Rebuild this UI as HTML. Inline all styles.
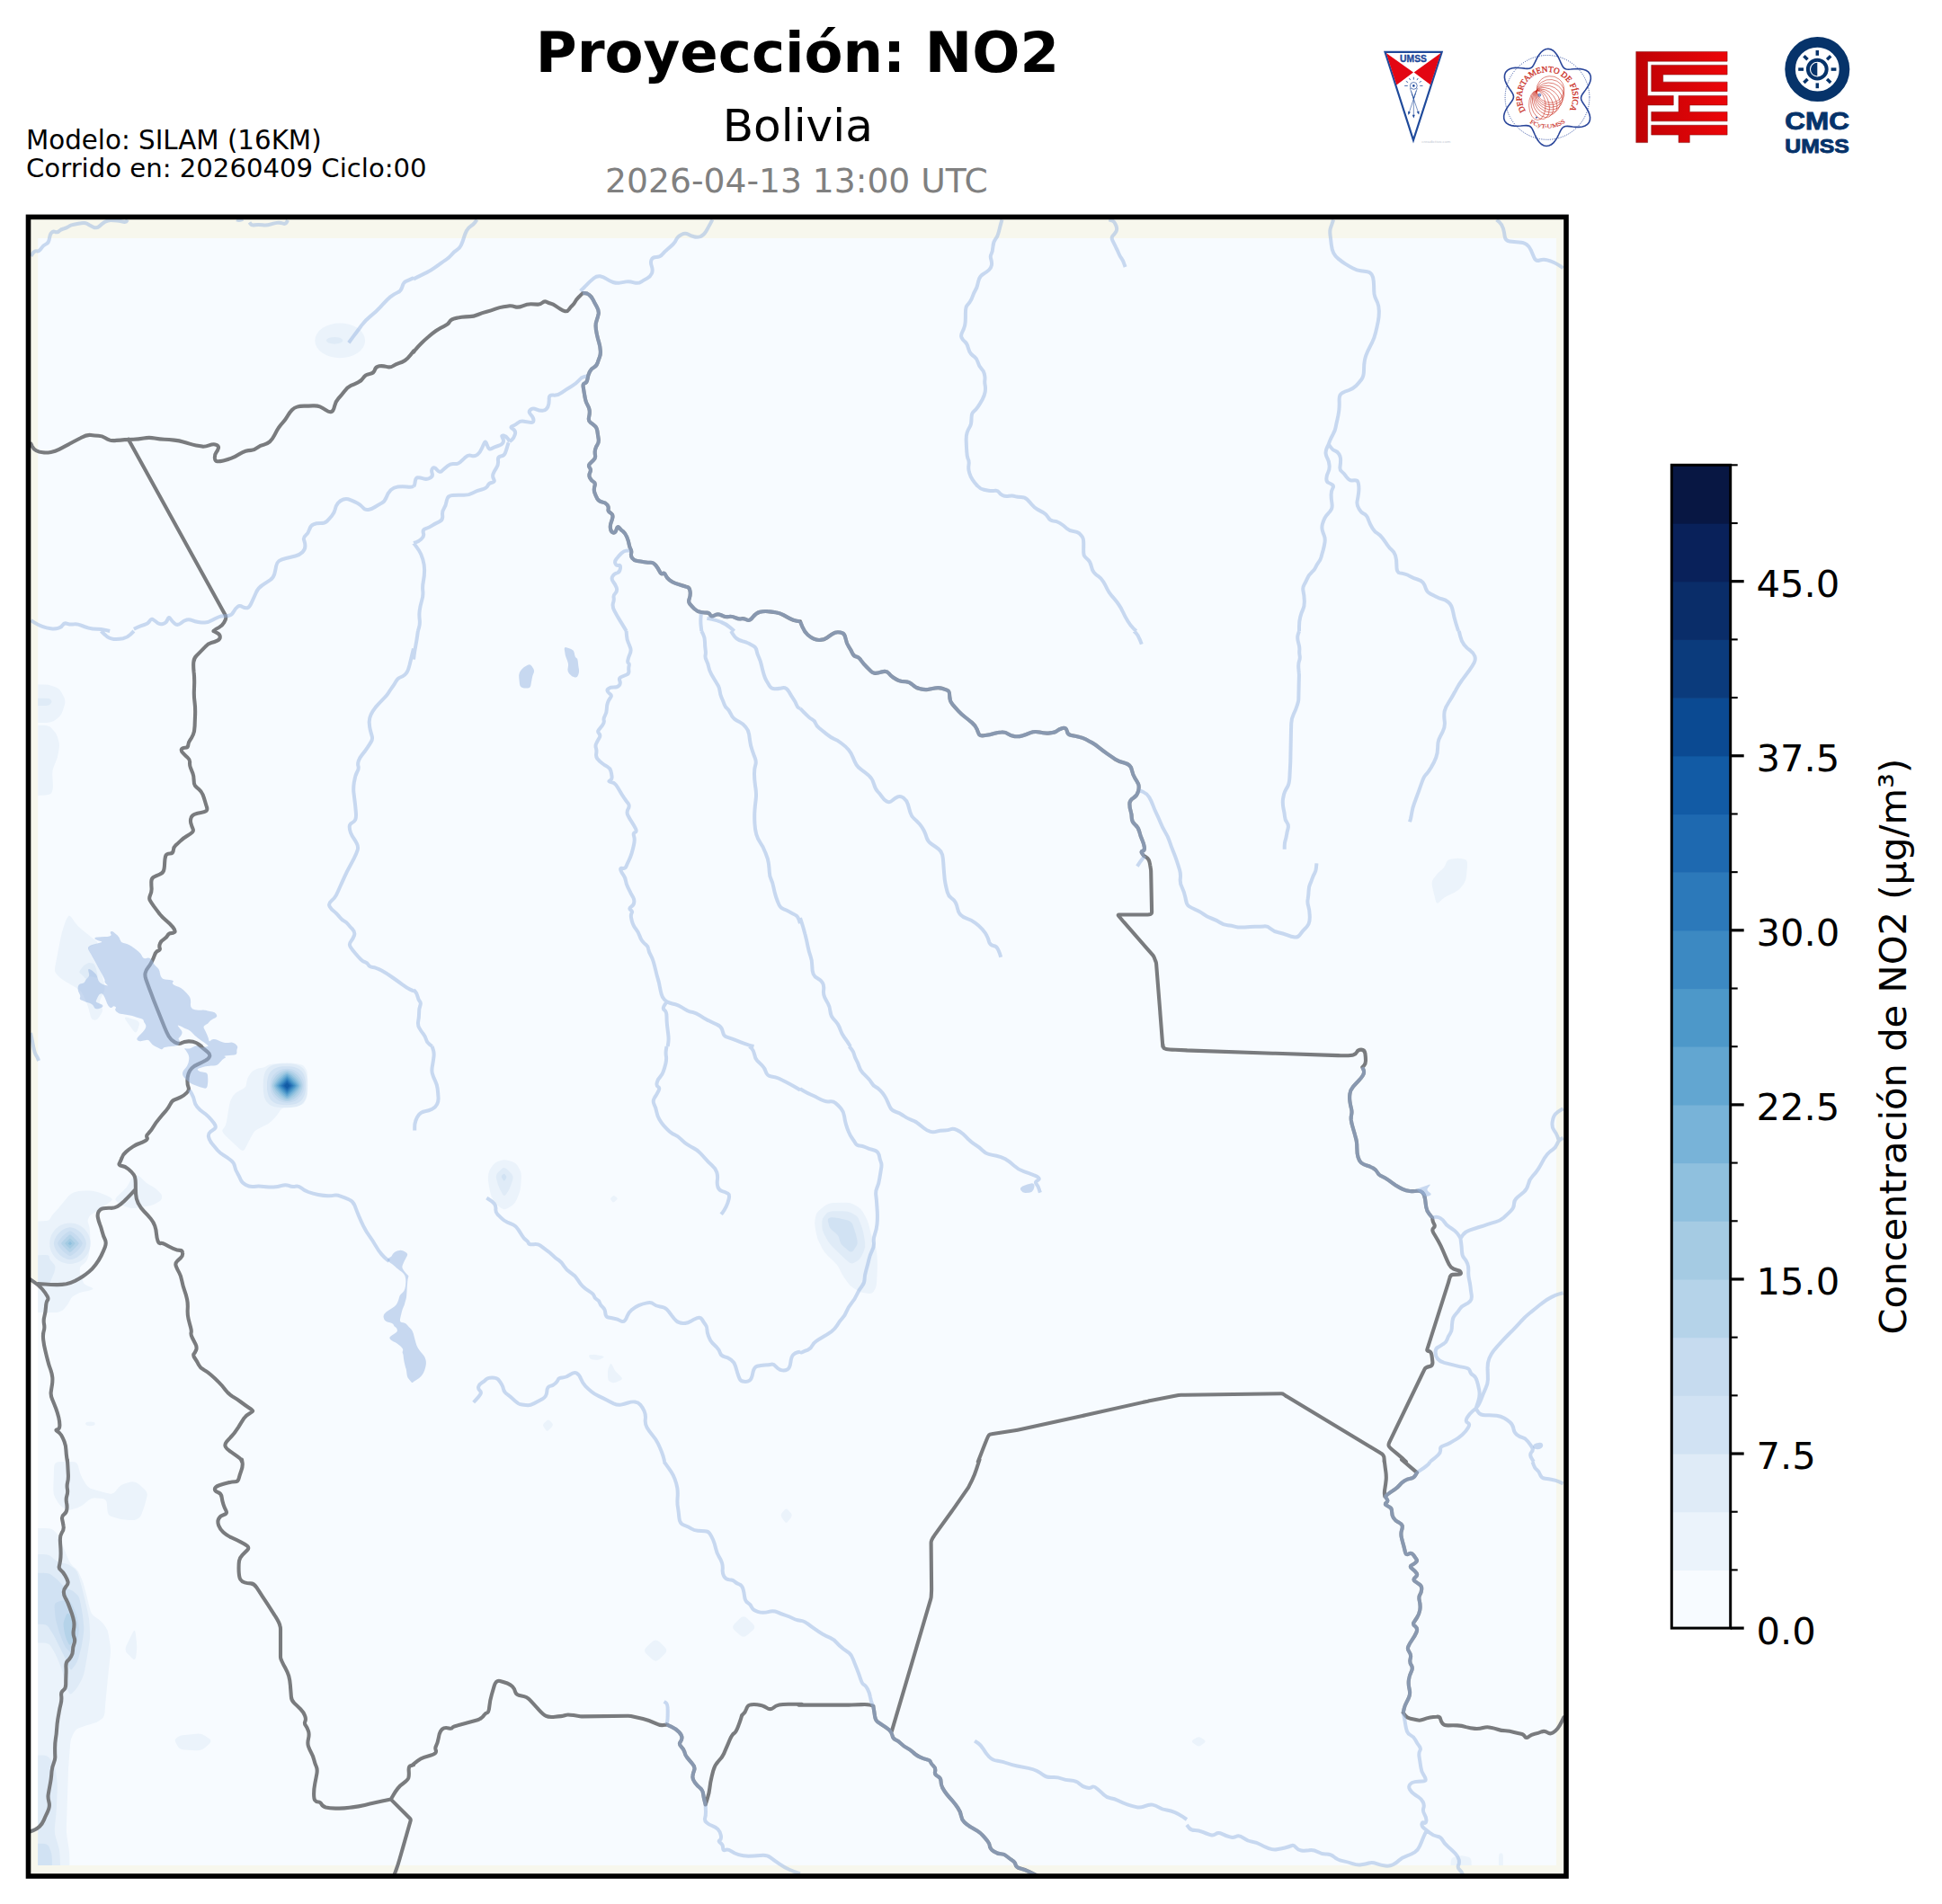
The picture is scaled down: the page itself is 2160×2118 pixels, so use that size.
<!DOCTYPE html>
<html lang="es">
<head>
<meta charset="utf-8">
<title>Proyección: NO2 - Bolivia</title>
<style>
html,body{margin:0;padding:0;background:#fff;}
body{width:2160px;height:2118px;overflow:hidden;}
svg{display:block;}
text{font-family:"DejaVu Sans","Liberation Sans",sans-serif;}
text.ls{font-family:"Liberation Sans",Arial,sans-serif;}
text.lser{font-family:"Liberation Serif","DejaVu Serif",serif;}
</style>
</head>
<body>
<svg width="2160" height="2118" viewBox="0 0 2160 2118">
<rect width="2160" height="2118" fill="#ffffff"/>
<!-- HEADER TEXT -->
<g id="header">
<text x="886.9" y="80.0" font-size="62.6" font-weight="bold" text-anchor="middle" fill="#000">Proyección: NO2</text>
<text x="887.3" y="157.0" font-size="50.1" text-anchor="middle" fill="#000">Bolivia</text>
<text x="886.0" y="213.8" font-size="37.65" text-anchor="middle" fill="#808080">2026-04-13 13:00 UTC</text>
<text x="29" y="166.1" font-size="29.3" fill="#000">Modelo: SILAM (16KM)</text>
<text x="29" y="197.2" font-size="29.15" fill="#000">Corrido en: 20260409 Ciclo:00</text>
</g>
<!-- MAP -->
<g id="map">
<rect x="31.5" y="241.4" width="1710.5" height="1845.6" fill="#f7f7ed"/>
<rect x="42.2" y="265" width="1688.8" height="1810" fill="#f7fbff"/>
<!--MAPCONTENT-->
<defs><clipPath id="dataclip"><rect x="42.2" y="265" width="1688.8" height="1810"/></clipPath><clipPath id="axclip"><rect x="31.5" y="241.4" width="1710.5" height="1845.6"/></clipPath></defs>
<rect x="31.5" y="1428.5" width="10.8" height="608.8" fill="#ffffff"/>
<g clip-path="url(#dataclip)">
<path d="M28.1,767.5Q28.1,761.5 34.1,761.5L48.3,761.5Q54.3,761.5 57.9,762.9L62.8,764.8Q66.4,766.3 68.4,770.3L71.2,775.6Q73.2,779.7 71.9,784.0L70.1,789.8Q68.8,794.2 66.6,796.4L63.7,799.3Q61.5,801.5 59.4,802.2L56.4,803.2Q54.3,803.9 48.3,803.9L34.1,803.9Q28.1,803.9 28.1,797.9L28.1,767.5Z" fill="#ebf3fb"/>
<path d="M28.1,812.8Q28.1,806.8 34.1,806.8L48.3,806.8Q54.3,806.8 56.8,809.6L60.2,813.3Q62.8,816.0 63.9,819.7L65.3,824.5Q66.4,828.2 65.7,832.6L64.7,838.4Q64.0,842.7 62.2,847.1L59.7,852.9Q57.9,857.3 58.3,863.1L58.8,870.9Q59.1,876.7 58.4,878.9L57.4,881.8Q56.7,884.0 50.7,884.4L34.1,885.5Q28.1,885.9 28.1,879.9L28.1,812.8Z" fill="#ebf3fb"/>
<path d="M76.2,1018.9Q77.3,1017.5 79.9,1021.1L83.3,1026.0Q85.8,1029.6 90.2,1033.2L96.0,1038.1Q100.4,1041.7 103.3,1043.9L107.2,1046.8Q110.1,1049.0 106.4,1050.5L101.6,1052.4Q97.9,1053.9 99.4,1057.5L101.3,1062.3Q102.8,1066.0 105.7,1070.4L109.6,1076.2Q112.5,1080.5 114.0,1086.4L115.9,1094.1Q117.4,1100.0 115.2,1104.3L112.3,1110.2Q110.1,1114.5 111.5,1117.4L113.5,1121.3Q114.9,1124.2 112.7,1127.5L109.8,1131.9Q107.7,1135.1 105.8,1134.8L103.4,1134.3Q101.6,1133.9 100.5,1129.6L99.0,1123.7Q97.9,1119.4 95.8,1114.3L92.8,1107.5Q90.7,1102.4 87.0,1100.2L82.2,1097.3Q78.5,1095.1 74.9,1092.9L70.0,1090.0Q66.4,1087.8 64.6,1085.6L62.2,1082.7Q60.3,1080.5 61.4,1074.7L62.9,1067.0Q64.0,1061.1 65.1,1055.3L67.6,1042.8Q68.8,1036.9 70.3,1032.5L72.2,1026.7Q73.7,1022.3 74.8,1020.9L76.2,1018.9Z" fill="#ebf3fb"/>
<path d="M140.2,1135.2Q136.8,1130.3 142.5,1132.1L150.5,1134.6Q156.2,1136.4 154.7,1140.7L152.8,1146.6Q151.3,1150.9 147.9,1146.0L140.2,1135.2Z" fill="#ebf3fb"/>
<path d="M1608.9,959.0Q1610.0,956.3 1613.6,955.7L1618.5,954.9Q1622.1,954.4 1625.2,955.1L1629.4,956.1Q1632.5,956.8 1632.0,962.8L1631.1,973.9Q1630.6,979.8 1628.1,983.1L1624.7,987.5Q1622.1,990.8 1617.4,992.9L1611.1,995.9Q1606.3,998.0 1603.8,1000.6L1600.4,1004.0Q1597.8,1006.5 1596.5,1000.7L1593.2,986.9Q1591.8,981.1 1594.0,978.1L1596.9,974.3Q1599.1,971.4 1601.2,969.5L1604.2,967.1Q1606.3,965.3 1607.4,962.6L1608.9,959.0Z" fill="#ebf3fb"/>
<path d="M543.4,1305.2Q543.7,1302.3 545.9,1299.4L548.8,1295.5Q551.0,1292.6 554.3,1291.7L558.6,1290.6Q561.9,1289.7 565.6,1290.9L570.4,1292.6Q574.0,1293.8 575.9,1297.1L578.3,1301.5Q580.1,1304.7 579.8,1310.6L579.3,1318.3Q578.9,1324.2 577.1,1328.5L574.7,1334.3Q572.8,1338.7 569.6,1340.9L565.2,1343.8Q561.9,1346.0 559.7,1344.9L556.8,1343.4Q554.6,1342.4 552.1,1339.1L548.7,1334.7Q546.1,1331.4 545.1,1325.6L543.6,1317.8Q542.5,1312.0 542.9,1309.1L543.4,1305.2Z" fill="#ebf3fb"/>
<path d="M679.5,1334.8Q678.4,1333.4 679.7,1332.2L681.5,1330.7Q682.8,1329.5 684.2,1330.7L686.2,1332.2Q687.6,1333.4 685.9,1334.8L683.7,1336.8Q682.0,1338.2 680.9,1336.8L679.5,1334.8Z" fill="#ebf3fb"/>
<path d="M655.2,1508.8Q654.6,1507.4 656.7,1507.1L659.4,1506.9Q661.4,1506.6 664.9,1507.4L669.6,1508.3Q673.1,1509.1 671.0,1510.2L668.3,1511.8Q666.3,1512.9 663.3,1512.7L659.5,1512.4Q656.6,1512.2 656.0,1510.8L655.2,1508.8Z" fill="#ebf3fb"/>
<path d="M678.5,1518.0Q679.6,1515.9 681.1,1518.8L683.0,1522.7Q684.5,1525.6 687.2,1528.1L690.7,1531.5Q693.4,1534.1 690.0,1535.5L685.5,1537.5Q682.0,1538.9 680.2,1537.8L677.8,1536.4Q676.0,1535.3 676.0,1531.6L676.0,1526.8Q676.0,1523.1 677.1,1521.0L678.5,1518.0Z" fill="#ebf3fb"/>
<path d="M604.8,1587.4Q603.2,1585.0 605.2,1583.0L607.9,1580.4Q610.0,1578.5 611.7,1580.4L614.0,1583.0Q615.8,1585.0 613.6,1587.4L610.7,1590.6Q608.5,1593.0 606.9,1590.6L604.8,1587.4Z" fill="#ebf3fb"/>
<path d="M907.5,1352.1Q908.2,1348.4 912.2,1345.4L917.5,1341.3Q921.5,1338.2 927.5,1338.0L939.8,1337.7Q945.8,1337.5 949.5,1339.7L954.3,1342.6Q957.9,1344.8 960.1,1348.8L963.0,1354.1Q965.2,1358.1 966.7,1363.9L968.6,1371.7Q970.1,1377.5 971.5,1381.2L973.5,1386.0Q974.9,1389.7 975.3,1394.8L975.8,1401.6Q976.1,1406.7 975.8,1412.7L975.2,1424.9Q974.9,1430.9 973.5,1433.5L971.5,1436.9Q970.1,1439.4 966.4,1438.9L961.6,1438.2Q957.9,1437.7 954.3,1435.7L949.5,1433.0Q945.8,1430.9 943.3,1427.3L939.9,1422.4Q937.3,1418.8 935.5,1415.2L933.1,1410.3Q931.3,1406.7 926.9,1402.7L921.1,1397.3Q916.7,1393.3 914.4,1388.6L911.3,1382.3Q908.9,1377.5 908.0,1372.4L906.7,1365.7Q905.8,1360.6 906.5,1356.9L907.5,1352.1Z" fill="#ebf3fb"/>
<path d="M60.1,1632.0Q60.3,1626.0 66.3,1626.0L79.8,1626.0Q85.8,1626.0 86.9,1630.4L88.4,1636.2Q89.5,1640.6 92.0,1644.9L95.4,1650.8Q97.9,1655.1 103.0,1656.6L109.8,1658.5Q114.9,1660.0 118.2,1660.7L122.6,1661.7Q125.9,1662.4 128.4,1659.1L131.8,1654.8Q134.3,1651.5 139.1,1650.2L145.4,1648.6Q150.1,1647.4 154.5,1651.1L160.3,1656.2Q164.7,1660.0 163.6,1664.3L162.1,1670.2Q161.0,1674.5 159.6,1678.5L157.6,1683.9Q156.2,1687.9 154.0,1689.0L151.1,1690.4Q148.9,1691.5 143.8,1690.9L137.0,1690.2Q131.9,1689.6 128.3,1688.3L123.4,1686.7Q119.8,1685.5 119.4,1680.0L118.9,1672.7Q118.6,1667.3 113.5,1666.9L106.7,1666.4Q101.6,1666.0 98.3,1669.0L93.9,1672.8Q90.7,1675.7 86.3,1677.2L80.5,1679.1Q76.1,1680.6 73.2,1678.8L69.3,1676.4Q66.4,1674.5 64.2,1670.9L61.3,1666.0Q59.1,1662.4 59.3,1656.4L60.1,1632.0Z" fill="#ebf3fb"/>
<path d="M28.1,1706.0Q28.1,1700.0 34.1,1700.0L50.7,1700.0Q56.7,1700.0 58.9,1701.8L61.8,1704.3Q64.0,1706.1 66.2,1711.2L69.1,1718.0Q71.3,1723.1 73.4,1728.2L76.3,1735.0Q78.5,1740.0 81.1,1742.2L84.5,1745.1Q87.0,1747.3 88.8,1751.7L91.3,1757.5Q93.1,1761.9 94.5,1767.7L96.5,1775.5Q97.9,1781.3 99.0,1785.7L100.5,1791.5Q101.6,1795.9 104.9,1798.0L109.2,1801.0Q112.5,1803.1 114.7,1806.1L117.6,1809.9Q119.8,1812.8 120.8,1818.8L122.4,1828.8Q123.4,1834.7 122.8,1840.7L121.7,1850.6Q121.0,1856.5 120.4,1862.5L118.0,1887.0Q117.4,1892.9 117.0,1898.0L116.5,1904.8Q116.1,1909.9 113.6,1911.7L110.2,1914.2Q107.7,1916.0 104.0,1917.1L99.2,1918.5Q95.5,1919.6 92.2,1920.7L87.9,1922.2Q84.6,1923.3 82.8,1926.5L80.4,1930.9Q78.5,1934.2 78.1,1940.2L76.6,1959.7Q76.1,1965.7 75.9,1971.7L75.1,1996.1Q74.9,2002.1 74.7,2008.1L73.9,2032.5Q73.7,2038.5 74.7,2044.4L76.3,2054.4Q77.3,2060.4 77.3,2066.4L77.3,2082.9Q77.3,2088.9 71.3,2088.9L34.1,2088.9Q28.1,2088.9 28.1,2082.9L28.1,1706.0Z" fill="#ebf3fb"/>
<path d="M141.8,1839.5Q138.0,1835.9 140.6,1830.5L147.5,1816.3Q150.1,1810.9 150.8,1816.9L151.9,1826.3Q152.5,1832.3 152.0,1837.0L151.2,1843.3Q150.6,1848.0 146.8,1844.4L141.8,1839.5Z" fill="#ebf3fb"/>
<path d="M195.6,1938.7Q193.8,1935.4 195.6,1933.9L198.0,1932.0Q199.9,1930.5 205.8,1929.9L218.2,1928.7Q224.1,1928.1 227.8,1930.7L232.6,1934.1Q236.3,1936.6 232.6,1939.9L227.8,1944.2Q224.1,1947.5 218.1,1947.2L205.9,1946.6Q199.9,1946.3 198.0,1943.0L195.6,1938.7Z" fill="#ebf3fb"/>
<path d="M719.1,1840.0Q714.8,1835.9 719.2,1831.9L725.0,1826.6Q729.4,1822.6 733.6,1826.6L739.2,1831.9Q743.4,1835.9 739.2,1840.0L733.6,1845.6Q729.4,1849.7 725.0,1845.6L719.1,1840.0Z" fill="#ebf3fb"/>
<path d="M817.2,1813.7Q813.1,1809.9 817.2,1805.9L822.8,1800.4Q826.9,1796.3 831.3,1800.4L837.1,1805.9Q841.5,1809.9 837.1,1813.7L831.3,1818.8Q826.9,1822.6 822.8,1818.8L817.2,1813.7Z" fill="#ebf3fb"/>
<path d="M869.7,1688.4Q867.7,1685.5 869.7,1683.0L872.4,1679.8Q874.5,1677.4 876.6,1679.8L879.6,1683.0Q881.7,1685.5 879.6,1688.4L876.6,1692.2Q874.5,1695.2 872.4,1692.2L869.7,1688.4Z" fill="#ebf3fb"/>
<path d="M1327.1,1939.0Q1324.4,1937.1 1327.1,1935.3L1330.7,1933.0Q1333.3,1931.3 1335.9,1933.0L1339.3,1935.3Q1341.8,1937.1 1339.3,1939.0L1335.9,1941.5Q1333.3,1943.4 1330.7,1941.5L1327.1,1939.0Z" fill="#ebf3fb"/>
<path d="M1613.6,2072.4Q1613.6,2066.4 1617.3,2065.7L1622.1,2064.7Q1625.8,2064.0 1629.0,2064.7L1633.4,2065.7Q1636.7,2066.4 1636.7,2072.4L1636.7,2082.9Q1636.7,2088.9 1630.7,2088.9L1619.6,2088.9Q1613.6,2088.9 1613.6,2082.9L1613.6,2072.4Z" fill="#ebf3fb"/>
<path d="M1667.0,2067.6Q1667.0,2061.6 1668.5,2061.6L1670.4,2061.6Q1671.9,2061.6 1671.9,2067.6L1671.9,2082.9Q1671.9,2088.9 1670.4,2088.9L1668.5,2088.9Q1667.0,2088.9 1667.0,2082.9L1667.0,2067.6Z" fill="#ebf3fb"/>
<path d="M297.3,1185.2Q298.8,1184.2 304.7,1183.6L313.4,1182.6Q319.3,1182.0 324.5,1182.6L331.4,1183.5Q336.6,1184.2 338.2,1186.3L340.2,1189.1Q341.8,1191.2 342.0,1196.0L342.3,1202.5Q342.5,1207.4 342.3,1211.3L342.0,1216.6Q341.8,1220.6 340.2,1223.2L338.2,1226.8Q336.6,1229.4 331.4,1230.0L324.5,1230.7Q319.3,1231.2 317.5,1231.8L315.0,1232.5Q313.1,1233.1 311.3,1235.7L309.0,1239.3Q307.2,1241.9 304.8,1244.3L301.5,1247.6Q299.1,1250.0 296.7,1251.1L293.5,1252.6Q291.0,1253.7 288.6,1255.0L285.4,1256.8Q282.9,1258.1 281.4,1261.0L279.3,1264.8Q277.8,1267.6 275.6,1271.9L272.6,1277.7Q270.4,1282.0 266.1,1277.8L250.5,1263.0Q246.2,1258.8 247.7,1256.6L249.8,1253.7Q251.3,1251.5 252.0,1247.5L252.9,1242.2Q253.5,1238.2 254.2,1234.3L255.1,1229.0Q255.7,1225.0 257.3,1222.4L259.3,1218.8Q260.9,1216.2 264.6,1214.2L269.6,1211.5Q273.4,1209.6 273.8,1206.7L274.4,1202.9Q274.9,1200.0 276.4,1197.6L278.5,1194.3Q280.0,1191.9 282.2,1190.8L285.1,1189.3Q287.4,1188.2 289.3,1188.0L292.0,1187.7Q294.0,1187.5 295.4,1186.5L297.3,1185.2Z" fill="#ebf3fb"/>
<path d="M28.2,1364.8Q28.2,1358.8 34.2,1358.6L48.4,1358.2Q54.4,1358.0 55.4,1356.2L56.7,1353.9Q57.7,1352.1 60.0,1349.6L63.0,1346.2Q65.3,1343.7 68.3,1339.9L72.4,1334.9Q75.4,1331.1 76.9,1329.8L78.9,1328.2Q80.4,1326.9 83.4,1326.1L87.5,1325.1Q90.5,1324.4 94.3,1324.4L99.3,1324.4Q103.1,1324.4 106.4,1325.4L110.8,1326.7Q114.0,1327.7 117.6,1329.5L122.3,1331.8Q125.8,1333.6 124.5,1334.9L122.9,1336.6Q121.6,1337.8 119.3,1339.3L116.3,1341.3Q114.0,1342.9 112.3,1344.1L109.9,1345.8Q108.2,1347.1 105.6,1348.6L102.3,1350.6Q99.7,1352.1 99.0,1353.9L98.0,1356.2Q97.2,1358.0 98.0,1360.3L99.0,1363.3Q99.7,1365.5 100.0,1369.8L100.3,1375.5Q100.6,1379.8 100.1,1384.9L99.4,1391.6Q98.9,1396.6 97.9,1398.9L96.6,1401.9Q95.5,1404.2 93.5,1405.7L90.8,1407.7Q88.8,1409.2 88.8,1411.8L88.8,1415.1Q88.8,1417.6 89.6,1418.7L90.6,1420.0Q91.3,1421.0 91.8,1423.3L92.5,1426.3Q93.0,1428.6 96.6,1430.1L101.3,1432.1Q104.8,1433.6 102.5,1434.4L99.5,1435.4Q97.2,1436.1 94.7,1436.6L91.3,1437.3Q88.8,1437.8 86.1,1439.3L82.4,1441.3Q79.6,1442.9 78.3,1445.4L76.6,1448.7Q75.4,1451.3 73.6,1453.3L71.3,1456.0Q69.5,1458.0 67.7,1458.6L65.4,1459.4Q63.6,1460.0 57.6,1460.0L34.2,1460.0Q28.2,1460.0 28.2,1454.0L28.2,1364.8Z" fill="#ebf3fb"/>
<path d="M128.5,1334.9Q127.5,1333.6 131.5,1329.8L136.9,1324.8Q140.9,1321.0 142.9,1317.2L145.6,1312.2Q147.6,1308.4 149.7,1308.2L152.4,1307.8Q154.4,1307.6 156.9,1310.1L160.3,1313.4Q162.8,1316.0 165.8,1317.7L169.8,1320.1Q172.9,1321.8 175.1,1324.1L178.2,1327.1Q180.4,1329.4 180.2,1331.2L179.8,1333.5Q179.6,1335.3 176.3,1337.1L171.9,1339.4Q168.7,1341.2 162.7,1342.1L153.6,1343.6Q147.6,1344.5 144.9,1343.8L141.2,1342.8Q138.4,1342.0 136.1,1340.8L133.1,1339.1Q130.8,1337.8 129.8,1336.6L128.5,1334.9Z" fill="#ebf3fb"/>
<path d="M28.1,779.2Q28.1,776.7 34.1,776.7L49.5,776.7Q55.5,776.7 56.2,778.0L57.2,779.6Q57.9,780.9 56.8,782.1L55.4,783.8Q54.3,785.0 48.3,785.0L34.1,785.0Q28.1,785.0 28.1,782.5L28.1,779.2Z" fill="#dfebf7"/>
<path d="M552.1,1311.2Q551.0,1307.2 553.9,1304.3L557.8,1300.4Q560.7,1297.5 564.0,1300.7L568.3,1305.1Q571.6,1308.4 570.2,1312.8L568.2,1318.6Q566.8,1322.9 565.0,1325.5L562.5,1328.9Q560.7,1331.4 558.9,1328.2L556.5,1323.8Q554.6,1320.5 553.5,1316.5L552.1,1311.2Z" fill="#dfebf7"/>
<path d="M914.3,1359.3Q914.3,1355.7 916.4,1353.2L919.4,1349.8Q921.5,1347.2 927.5,1347.2L937.4,1347.2Q943.4,1347.2 946.7,1349.0L951.0,1351.5Q954.3,1353.3 956.1,1358.4L958.6,1365.2Q960.4,1370.3 961.1,1375.4L962.1,1382.2Q962.8,1387.2 961.0,1391.3L958.6,1396.6Q956.7,1400.6 953.8,1402.4L949.9,1404.8Q947.0,1406.7 943.4,1403.4L938.5,1399.0Q934.9,1395.7 930.9,1391.7L925.5,1386.4Q921.5,1382.4 919.4,1378.0L916.4,1372.2Q914.3,1367.8 914.3,1364.2L914.3,1359.3Z" fill="#dfebf7"/>
<path d="M28.1,1735.1Q28.1,1729.1 34.1,1729.1L48.3,1729.1Q54.3,1729.1 57.2,1731.7L61.1,1735.1Q64.0,1737.6 67.6,1738.4L72.5,1739.3Q76.1,1740.0 79.0,1742.2L82.9,1745.1Q85.8,1747.3 87.3,1752.4L89.2,1759.2Q90.7,1764.3 92.1,1770.1L94.1,1777.9Q95.5,1783.7 96.6,1788.8L98.1,1795.6Q99.2,1800.7 99.5,1806.5L100.0,1814.3Q100.4,1820.1 99.5,1826.1L97.6,1838.5Q96.7,1844.4 95.6,1850.2L94.2,1858.0Q93.1,1863.8 91.3,1867.4L88.8,1872.3Q87.0,1875.9 84.5,1878.9L81.1,1882.7Q78.5,1885.6 77.1,1883.5L75.1,1880.5Q73.7,1878.4 72.4,1872.5L70.1,1862.4Q68.8,1856.5 66.6,1851.4L63.7,1844.6Q61.5,1839.5 59.4,1835.9L56.4,1831.0Q54.3,1827.4 48.3,1827.4L34.1,1827.4Q28.1,1827.4 28.1,1821.4L28.1,1735.1Z" fill="#dfebf7"/>
<path d="M28.1,1958.4Q28.1,1952.4 34.1,1952.4L47.1,1952.4Q53.1,1952.4 55.6,1956.4L59.0,1961.7Q61.5,1965.7 62.3,1971.5L63.2,1979.3Q64.0,1985.1 63.7,1991.1L63.0,2008.3Q62.8,2014.3 62.2,2020.2L60.9,2032.6Q60.3,2038.5 62.1,2044.2L64.6,2052.2Q66.4,2057.9 66.6,2063.9L67.4,2082.9Q67.6,2088.9 61.6,2088.9L34.1,2088.9Q28.1,2088.9 28.1,2082.9L28.1,1958.4Z" fill="#dfebf7"/>
<path d="M28.2,1402.6Q28.2,1396.6 34.2,1396.4L48.4,1396.0Q54.4,1395.8 54.6,1397.3L55.0,1399.3Q55.2,1400.8 57.2,1403.1L59.9,1406.1Q61.9,1408.4 61.4,1410.7L60.8,1413.7Q60.3,1416.0 59.2,1418.2L57.9,1421.3Q56.9,1423.5 56.4,1424.8L55.7,1426.5Q55.2,1427.7 49.2,1427.7L34.2,1427.7Q28.2,1427.7 28.2,1421.7L28.2,1402.6Z" fill="#dfebf7"/>
<path d="M88.7,1082.3Q87.5,1081.2 89.1,1079.2L91.2,1076.4Q92.7,1074.3 94.4,1073.3L96.8,1071.9Q98.5,1070.8 100.4,1071.2L102.9,1071.6Q104.8,1072.0 105.7,1074.4L106.9,1077.7Q107.7,1080.1 108.1,1082.5L108.5,1085.7Q108.9,1088.2 106.1,1087.5L102.4,1086.6Q99.6,1085.9 98.4,1086.9L96.8,1088.3Q95.6,1089.3 94.4,1087.9L92.8,1086.1Q91.6,1084.7 90.3,1083.7L88.7,1082.3Z" fill="#dfebf7"/>
<path d="M558.2,1310.2Q557.1,1308.4 558.2,1307.4L559.6,1306.2Q560.7,1305.2 561.7,1306.4L562.9,1307.9Q563.9,1309.1 562.9,1310.7L561.7,1312.8Q560.7,1314.4 559.6,1312.6L558.2,1310.2Z" fill="#d1e2f3"/>
<path d="M921.1,1359.0Q920.3,1355.7 922.2,1355.1L924.6,1354.3Q926.4,1353.8 932.3,1355.0L941.2,1356.9Q947.0,1358.1 948.5,1362.5L950.4,1368.3Q951.9,1372.7 952.6,1376.0L953.6,1380.3Q954.3,1383.6 952.1,1386.7L949.2,1390.9Q947.0,1394.0 943.4,1390.9L938.5,1386.7Q934.9,1383.6 934.2,1380.7L933.2,1376.8Q932.5,1373.9 929.6,1371.7L925.7,1368.8Q922.8,1366.6 922.0,1363.3L921.1,1359.0Z" fill="#d1e2f3"/>
<path d="M28.1,1755.8Q28.1,1749.8 34.1,1749.8L48.3,1749.8Q54.3,1749.8 57.2,1751.9L61.1,1754.9Q64.0,1757.0 66.5,1759.9L69.9,1763.8Q72.5,1766.7 75.0,1767.5L78.4,1768.4Q81.0,1769.2 83.1,1771.4L86.1,1774.3Q88.2,1776.4 89.3,1782.3L90.8,1790.0Q91.9,1795.9 92.4,1801.0L93.1,1807.8Q93.6,1812.8 92.7,1818.7L91.5,1826.4Q90.7,1832.3 89.2,1837.4L87.3,1844.2Q85.8,1849.2 83.6,1852.2L80.7,1856.0Q78.5,1859.0 76.7,1854.6L74.3,1848.8Q72.5,1844.4 70.6,1840.8L68.2,1835.9Q66.4,1832.3 64.2,1827.9L61.3,1822.1Q59.1,1817.7 56.9,1814.4L54.0,1810.1Q51.8,1806.8 45.8,1806.8L34.1,1806.8Q28.1,1806.8 28.1,1800.8L28.1,1755.8Z" fill="#d1e2f3"/>
<path d="M28.1,2056.7Q28.1,2050.7 34.1,2050.7L47.1,2050.7Q53.1,2050.7 54.5,2054.3L56.4,2059.1Q57.9,2062.8 57.9,2068.8L57.9,2082.9Q57.9,2088.9 51.9,2088.9L34.1,2088.9Q28.1,2088.9 28.1,2082.9L28.1,2056.7Z" fill="#d1e2f3"/>
<path d="M60.7,1788.8Q60.3,1783.7 62.9,1782.6L66.3,1781.2Q68.8,1780.1 71.7,1780.5L75.6,1780.9Q78.5,1781.3 80.6,1785.7L83.3,1791.5Q85.3,1795.9 86.2,1801.0L87.4,1807.8Q88.2,1812.8 87.4,1817.2L86.2,1823.0Q85.3,1827.4 83.7,1831.0L81.4,1835.9Q79.7,1839.5 77.6,1837.4L74.6,1834.4Q72.5,1832.3 70.6,1827.9L68.2,1822.1Q66.4,1817.7 64.9,1812.6L63.0,1805.8Q61.5,1800.7 61.2,1795.6L60.7,1788.8Z" fill="#c6dbef"/>
<path d="M70.8,1809.9Q70.0,1805.6 71.5,1801.9L73.4,1797.1Q74.9,1793.4 76.9,1795.6L79.5,1798.5Q81.4,1800.7 82.4,1804.4L83.7,1809.2Q84.6,1812.8 83.9,1816.5L82.9,1821.3Q82.2,1825.0 80.7,1826.8L78.8,1829.2Q77.3,1831.0 75.9,1827.8L73.9,1823.4Q72.5,1820.1 71.7,1815.8L70.8,1809.9Z" fill="#b5d3e9"/>
<ellipse cx="378.2" cy="378.8" rx="27.9" ry="19.4" fill="#ebf3fb"/>
<ellipse cx="372.1" cy="378.8" rx="9.2" ry="3.9" fill="#dfebf7"/>
<ellipse cx="100.4" cy="1583.8" rx="5.3" ry="2.4" fill="#ebf3fb"/>
<path d="M341.8,1207.7L341.7,1214.0L341.2,1217.7L340.5,1220.6L339.6,1223.1L338.3,1225.3L336.7,1227.1L334.9,1228.7L332.7,1230.0L330.2,1230.9L327.3,1231.6L323.6,1232.1L317.3,1232.2L311.0,1232.1L307.3,1231.6L304.4,1230.9L301.9,1230.0L299.7,1228.7L297.9,1227.1L296.3,1225.3L295.0,1223.1L294.1,1220.6L293.4,1217.7L292.9,1214.0L292.8,1207.7L292.9,1201.4L293.4,1197.7L294.1,1194.8L295.0,1192.3L296.3,1190.1L297.9,1188.3L299.7,1186.7L301.9,1185.4L304.4,1184.5L307.3,1183.8L311.0,1183.3L317.3,1183.2L323.6,1183.3L327.3,1183.8L330.2,1184.5L332.7,1185.4L334.9,1186.7L336.7,1188.3L338.3,1190.1L339.6,1192.3L340.5,1194.8L341.2,1197.7L341.7,1201.4Z" fill="#dfebf7"/>
<path d="M340.0,1207.7L339.9,1212.2L339.4,1215.3L338.7,1218.0L337.7,1220.3L336.5,1222.4L335.0,1224.2L333.2,1225.7L331.1,1226.9L328.8,1227.9L326.1,1228.6L323.0,1229.1L318.5,1229.2L314.0,1229.1L310.9,1228.6L308.2,1227.9L305.9,1226.9L303.8,1225.7L302.0,1224.2L300.5,1222.4L299.3,1220.3L298.3,1218.0L297.6,1215.3L297.1,1212.2L297.0,1207.7L297.1,1203.2L297.6,1200.1L298.3,1197.4L299.3,1195.1L300.5,1193.0L302.0,1191.2L303.8,1189.7L305.9,1188.5L308.2,1187.5L310.9,1186.8L314.0,1186.3L318.5,1186.2L323.0,1186.3L326.1,1186.8L328.8,1187.5L331.1,1188.5L333.2,1189.7L335.0,1191.2L336.5,1193.0L337.7,1195.1L338.7,1197.4L339.4,1200.1L339.9,1203.2Z" fill="#d1e2f3"/>
<path d="M338.3,1207.7L338.1,1210.2L337.7,1212.6L336.9,1215.0L335.8,1217.2L334.4,1219.3L332.7,1221.1L330.9,1222.8L328.8,1224.2L326.6,1225.3L324.2,1226.1L321.8,1226.5L319.3,1226.7L316.8,1226.5L314.4,1226.1L312.0,1225.3L309.8,1224.2L307.7,1222.8L305.9,1221.1L304.2,1219.3L302.8,1217.2L301.7,1215.0L300.9,1212.6L300.5,1210.2L300.3,1207.7L300.5,1205.2L300.9,1202.8L301.7,1200.4L302.8,1198.2L304.2,1196.1L305.9,1194.3L307.7,1192.6L309.8,1191.2L312.0,1190.1L314.4,1189.3L316.8,1188.9L319.3,1188.7L321.8,1188.9L324.2,1189.3L326.6,1190.1L328.8,1191.2L330.9,1192.6L332.7,1194.3L334.4,1196.1L335.8,1198.2L336.9,1200.4L337.7,1202.8L338.1,1205.2Z" fill="#c6dbef"/>
<path d="M336.7,1207.7L336.5,1209.3L336.0,1211.2L335.2,1213.3L334.0,1215.4L332.6,1217.4L330.9,1219.3L329.0,1221.0L327.0,1222.4L324.9,1223.6L322.8,1224.4L320.9,1224.9L319.3,1225.1L317.7,1224.9L315.8,1224.4L313.7,1223.6L311.6,1222.4L309.6,1221.0L307.7,1219.3L306.0,1217.4L304.6,1215.4L303.4,1213.3L302.6,1211.2L302.1,1209.3L301.9,1207.7L302.1,1206.1L302.6,1204.2L303.4,1202.1L304.6,1200.0L306.0,1198.0L307.7,1196.1L309.6,1194.4L311.6,1193.0L313.7,1191.8L315.8,1191.0L317.7,1190.5L319.3,1190.3L320.9,1190.5L322.8,1191.0L324.9,1191.8L327.0,1193.0L329.0,1194.4L330.9,1196.1L332.6,1198.0L334.0,1200.0L335.2,1202.1L336.0,1204.2L336.5,1206.1Z" fill="#b5d3e9"/>
<path d="M335.2,1207.7L335.0,1208.8L334.5,1210.3L333.6,1212.1L332.4,1214.0L331.0,1215.9L329.3,1217.7L327.5,1219.4L325.6,1220.8L323.7,1222.0L321.9,1222.9L320.4,1223.4L319.3,1223.6L318.2,1223.4L316.7,1222.9L314.9,1222.0L313.0,1220.8L311.1,1219.4L309.3,1217.7L307.6,1215.9L306.2,1214.0L305.0,1212.1L304.1,1210.3L303.6,1208.8L303.4,1207.7L303.6,1206.6L304.1,1205.1L305.0,1203.3L306.2,1201.4L307.6,1199.5L309.3,1197.7L311.1,1196.0L313.0,1194.6L314.9,1193.4L316.7,1192.5L318.2,1192.0L319.3,1191.8L320.4,1192.0L321.9,1192.5L323.7,1193.4L325.6,1194.6L327.5,1196.0L329.3,1197.7L331.0,1199.5L332.4,1201.4L333.6,1203.3L334.5,1205.1L335.0,1206.6Z" fill="#a5cbe3"/>
<path d="M333.7,1207.7L333.5,1208.4L333.0,1209.6L332.1,1211.2L330.9,1212.9L329.5,1214.6L327.9,1216.3L326.2,1217.9L324.5,1219.3L322.8,1220.5L321.2,1221.4L320.0,1221.9L319.3,1222.1L318.6,1221.9L317.4,1221.4L315.8,1220.5L314.1,1219.3L312.4,1217.9L310.7,1216.3L309.1,1214.6L307.7,1212.9L306.5,1211.2L305.6,1209.6L305.1,1208.4L304.9,1207.7L305.1,1207.0L305.6,1205.8L306.5,1204.2L307.7,1202.5L309.1,1200.8L310.7,1199.1L312.4,1197.5L314.1,1196.1L315.8,1194.9L317.4,1194.0L318.6,1193.5L319.3,1193.3L320.0,1193.5L321.2,1194.0L322.8,1194.9L324.5,1196.1L326.2,1197.5L327.9,1199.1L329.5,1200.8L330.9,1202.5L332.1,1204.2L333.0,1205.8L333.5,1207.0Z" fill="#8fc0de"/>
<path d="M332.2,1207.7L332.0,1208.2L331.5,1209.2L330.7,1210.5L329.5,1212.0L328.2,1213.5L326.7,1215.1L325.1,1216.6L323.6,1217.9L322.1,1219.1L320.8,1219.9L319.8,1220.4L319.3,1220.6L318.8,1220.4L317.8,1219.9L316.5,1219.1L315.0,1217.9L313.5,1216.6L311.9,1215.1L310.4,1213.5L309.1,1212.0L307.9,1210.5L307.1,1209.2L306.6,1208.2L306.4,1207.7L306.6,1207.2L307.1,1206.2L307.9,1204.9L309.1,1203.4L310.4,1201.9L311.9,1200.3L313.5,1198.8L315.0,1197.5L316.5,1196.3L317.8,1195.5L318.8,1195.0L319.3,1194.8L319.8,1195.0L320.8,1195.5L322.1,1196.3L323.6,1197.5L325.1,1198.8L326.7,1200.3L328.2,1201.9L329.5,1203.4L330.7,1204.9L331.5,1206.2L332.0,1207.2Z" fill="#78b3d8"/>
<path d="M330.7,1207.7L330.5,1208.0L330.0,1208.8L329.2,1209.8L328.2,1211.1L326.9,1212.5L325.5,1213.9L324.1,1215.3L322.7,1216.6L321.4,1217.6L320.4,1218.4L319.6,1218.9L319.3,1219.1L319.0,1218.9L318.2,1218.4L317.2,1217.6L315.9,1216.6L314.5,1215.3L313.1,1213.9L311.7,1212.5L310.4,1211.1L309.4,1209.8L308.6,1208.8L308.1,1208.0L307.9,1207.7L308.1,1207.4L308.6,1206.6L309.4,1205.6L310.4,1204.3L311.7,1202.9L313.1,1201.5L314.5,1200.1L315.9,1198.8L317.2,1197.8L318.2,1197.0L319.0,1196.5L319.3,1196.3L319.6,1196.5L320.4,1197.0L321.4,1197.8L322.7,1198.8L324.1,1200.1L325.5,1201.5L326.9,1202.9L328.2,1204.3L329.2,1205.6L330.0,1206.6L330.5,1207.4Z" fill="#62a6d1"/>
<path d="M329.2,1207.7L329.0,1207.9L328.6,1208.5L327.9,1209.4L326.9,1210.5L325.8,1211.7L324.6,1213.0L323.3,1214.2L322.1,1215.3L321.0,1216.3L320.1,1217.0L319.5,1217.4L319.3,1217.6L319.1,1217.4L318.5,1217.0L317.6,1216.3L316.5,1215.3L315.3,1214.2L314.0,1213.0L312.8,1211.7L311.7,1210.5L310.7,1209.4L310.0,1208.5L309.6,1207.9L309.4,1207.7L309.6,1207.5L310.0,1206.9L310.7,1206.0L311.7,1204.9L312.8,1203.7L314.0,1202.4L315.3,1201.2L316.5,1200.1L317.6,1199.1L318.5,1198.4L319.1,1198.0L319.3,1197.8L319.5,1198.0L320.1,1198.4L321.0,1199.1L322.1,1200.1L323.3,1201.2L324.6,1202.4L325.8,1203.7L326.9,1204.9L327.9,1206.0L328.6,1206.9L329.0,1207.5Z" fill="#4d98c9"/>
<path d="M327.7,1207.7L327.6,1207.9L327.2,1208.3L326.5,1209.0L325.7,1209.9L324.7,1211.0L323.6,1212.0L322.6,1213.1L321.5,1214.1L320.6,1214.9L319.9,1215.6L319.5,1216.0L319.3,1216.1L319.1,1216.0L318.7,1215.6L318.0,1214.9L317.1,1214.1L316.0,1213.1L315.0,1212.0L313.9,1211.0L312.9,1209.9L312.1,1209.0L311.4,1208.3L311.0,1207.9L310.9,1207.7L311.0,1207.5L311.4,1207.1L312.1,1206.4L312.9,1205.5L313.9,1204.4L315.0,1203.4L316.0,1202.3L317.1,1201.3L318.0,1200.5L318.7,1199.8L319.1,1199.4L319.3,1199.3L319.5,1199.4L319.9,1199.8L320.6,1200.5L321.5,1201.3L322.6,1202.3L323.6,1203.4L324.7,1204.4L325.7,1205.5L326.5,1206.4L327.2,1207.1L327.6,1207.5Z" fill="#3c89c2"/>
<path d="M326.2,1207.7L326.1,1207.8L325.7,1208.2L325.2,1208.7L324.5,1209.4L323.6,1210.3L322.8,1211.2L321.9,1212.0L321.0,1212.9L320.3,1213.6L319.8,1214.1L319.4,1214.5L319.3,1214.6L319.2,1214.5L318.8,1214.1L318.3,1213.6L317.6,1212.9L316.7,1212.0L315.9,1211.2L315.0,1210.3L314.1,1209.4L313.4,1208.7L312.9,1208.2L312.5,1207.8L312.4,1207.7L312.5,1207.6L312.9,1207.2L313.4,1206.7L314.1,1206.0L315.0,1205.1L315.9,1204.2L316.7,1203.4L317.6,1202.5L318.3,1201.8L318.8,1201.3L319.2,1200.9L319.3,1200.8L319.4,1200.9L319.8,1201.3L320.3,1201.8L321.0,1202.5L321.9,1203.4L322.8,1204.2L323.6,1205.1L324.5,1206.0L325.2,1206.7L325.7,1207.2L326.1,1207.6Z" fill="#2c79ba"/>
<path d="M324.5,1207.7L324.4,1207.8L324.2,1208.0L323.7,1208.5L323.2,1209.0L322.6,1209.6L321.9,1210.3L321.2,1211.0L320.6,1211.6L320.1,1212.1L319.6,1212.6L319.4,1212.8L319.3,1212.9L319.2,1212.8L319.0,1212.6L318.5,1212.1L318.0,1211.6L317.4,1211.0L316.7,1210.3L316.0,1209.6L315.4,1209.0L314.9,1208.5L314.4,1208.0L314.2,1207.8L314.1,1207.7L314.2,1207.6L314.4,1207.4L314.9,1206.9L315.4,1206.4L316.0,1205.8L316.7,1205.1L317.4,1204.4L318.0,1203.8L318.5,1203.3L319.0,1202.8L319.2,1202.6L319.3,1202.5L319.4,1202.6L319.6,1202.8L320.1,1203.3L320.6,1203.8L321.2,1204.4L321.9,1205.1L322.6,1205.8L323.2,1206.4L323.7,1206.9L324.2,1207.4L324.4,1207.6Z" fill="#1e69b0"/>
<path d="M322.5,1207.7L322.4,1207.8L322.3,1207.9L322.0,1208.2L321.7,1208.5L321.3,1208.9L320.9,1209.3L320.5,1209.7L320.1,1210.1L319.8,1210.4L319.5,1210.7L319.4,1210.8L319.3,1210.9L319.2,1210.8L319.1,1210.7L318.8,1210.4L318.5,1210.1L318.1,1209.7L317.7,1209.3L317.3,1208.9L316.9,1208.5L316.6,1208.2L316.3,1207.9L316.2,1207.8L316.1,1207.7L316.2,1207.6L316.3,1207.5L316.6,1207.2L316.9,1206.9L317.3,1206.5L317.7,1206.1L318.1,1205.7L318.5,1205.3L318.8,1205.0L319.1,1204.7L319.2,1204.6L319.3,1204.5L319.4,1204.6L319.5,1204.7L319.8,1205.0L320.1,1205.3L320.5,1205.7L320.9,1206.1L321.3,1206.5L321.7,1206.9L322.0,1207.2L322.3,1207.5L322.4,1207.6Z" fill="#125ba5"/>
<path d="M100.6,1383.2L100.4,1386.2L99.8,1389.1L98.9,1391.9L97.6,1394.5L95.9,1397.0L94.0,1399.3L91.7,1401.2L89.2,1402.9L86.6,1404.2L83.8,1405.1L80.9,1405.7L77.9,1405.9L74.9,1405.7L72.0,1405.1L69.2,1404.2L66.6,1402.9L64.1,1401.2L61.8,1399.3L59.9,1397.0L58.2,1394.5L56.9,1391.9L56.0,1389.1L55.4,1386.2L55.2,1383.2L55.4,1380.2L56.0,1377.3L56.9,1374.5L58.2,1371.9L59.9,1369.4L61.8,1367.1L64.1,1365.2L66.5,1363.5L69.2,1362.2L72.0,1361.3L74.9,1360.7L77.9,1360.5L80.9,1360.7L83.8,1361.3L86.6,1362.2L89.2,1363.5L91.7,1365.2L94.0,1367.1L95.9,1369.4L97.6,1371.9L98.9,1374.5L99.8,1377.3L100.4,1380.2Z" fill="#dfebf7"/>
<path d="M95.9,1383.2L95.7,1384.8L95.2,1386.9L94.3,1389.0L93.1,1391.2L91.6,1393.2L89.9,1395.2L87.9,1396.9L85.9,1398.4L83.7,1399.6L81.6,1400.5L79.5,1401.0L77.9,1401.2L76.3,1401.0L74.2,1400.5L72.1,1399.6L69.9,1398.4L67.9,1396.9L65.9,1395.2L64.2,1393.2L62.7,1391.2L61.5,1389.0L60.6,1386.9L60.1,1384.8L59.9,1383.2L60.1,1381.6L60.6,1379.5L61.5,1377.4L62.7,1375.2L64.2,1373.2L65.9,1371.2L67.9,1369.5L69.9,1368.0L72.1,1366.8L74.2,1365.9L76.3,1365.4L77.9,1365.2L79.5,1365.4L81.6,1365.9L83.7,1366.8L85.9,1368.0L87.9,1369.5L89.9,1371.2L91.6,1373.2L93.1,1375.2L94.3,1377.4L95.2,1379.5L95.7,1381.6Z" fill="#d1e2f3"/>
<path d="M91.8,1383.2L91.6,1383.8L91.1,1384.9L90.2,1386.4L89.0,1388.0L87.6,1389.7L86.1,1391.4L84.4,1392.9L82.7,1394.3L81.1,1395.5L79.6,1396.4L78.5,1396.9L77.9,1397.1L77.3,1396.9L76.2,1396.4L74.7,1395.5L73.1,1394.3L71.4,1392.9L69.7,1391.4L68.2,1389.7L66.8,1388.0L65.6,1386.4L64.7,1384.9L64.2,1383.8L64.0,1383.2L64.2,1382.6L64.7,1381.5L65.6,1380.0L66.8,1378.4L68.2,1376.7L69.7,1375.0L71.4,1373.5L73.1,1372.1L74.7,1370.9L76.2,1370.0L77.3,1369.5L77.9,1369.3L78.5,1369.5L79.6,1370.0L81.1,1370.9L82.7,1372.1L84.4,1373.5L86.1,1375.0L87.6,1376.7L89.0,1378.4L90.2,1380.0L91.1,1381.5L91.6,1382.6Z" fill="#c6dbef"/>
<path d="M87.9,1383.2L87.7,1383.4L87.3,1384.1L86.6,1384.9L85.6,1386.0L84.5,1387.3L83.2,1388.5L82.0,1389.8L80.7,1390.9L79.6,1391.9L78.8,1392.6L78.1,1393.0L77.9,1393.2L77.7,1393.0L77.0,1392.6L76.2,1391.9L75.1,1390.9L73.8,1389.8L72.6,1388.5L71.3,1387.3L70.2,1386.0L69.2,1384.9L68.5,1384.1L68.1,1383.4L67.9,1383.2L68.1,1383.0L68.5,1382.3L69.2,1381.5L70.2,1380.4L71.3,1379.1L72.6,1377.9L73.8,1376.6L75.1,1375.5L76.2,1374.5L77.0,1373.8L77.7,1373.4L77.9,1373.2L78.1,1373.4L78.8,1373.8L79.6,1374.5L80.7,1375.5L82.0,1376.6L83.2,1377.9L84.5,1379.1L85.6,1380.4L86.6,1381.5L87.3,1382.3L87.7,1383.0Z" fill="#b5d3e9"/>
<path d="M83.8,1383.2L83.7,1383.3L83.4,1383.6L82.9,1384.1L82.3,1384.7L81.6,1385.4L80.9,1386.2L80.1,1386.9L79.4,1387.6L78.8,1388.2L78.3,1388.7L78.0,1389.0L77.9,1389.1L77.8,1389.0L77.5,1388.7L77.0,1388.2L76.4,1387.6L75.7,1386.9L75.0,1386.2L74.2,1385.4L73.5,1384.7L72.9,1384.1L72.4,1383.6L72.1,1383.3L72.0,1383.2L72.1,1383.1L72.4,1382.8L72.9,1382.3L73.5,1381.7L74.2,1381.0L75.0,1380.2L75.7,1379.5L76.4,1378.8L77.0,1378.2L77.5,1377.7L77.8,1377.4L77.9,1377.3L78.0,1377.4L78.3,1377.7L78.8,1378.2L79.4,1378.8L80.1,1379.5L80.9,1380.2L81.6,1381.0L82.3,1381.7L82.9,1382.3L83.4,1382.8L83.7,1383.1Z" fill="#a5cbe3"/>
<path d="M80.1,1383.2L80.1,1383.2L80.0,1383.3L79.8,1383.5L79.6,1383.8L79.3,1384.0L79.0,1384.3L78.7,1384.6L78.5,1384.9L78.2,1385.1L78.0,1385.3L77.9,1385.4L77.9,1385.4L77.9,1385.4L77.8,1385.3L77.6,1385.1L77.4,1384.9L77.1,1384.6L76.8,1384.3L76.5,1384.0L76.2,1383.8L76.0,1383.5L75.8,1383.3L75.7,1383.2L75.7,1383.2L75.7,1383.2L75.8,1383.1L76.0,1382.9L76.2,1382.7L76.5,1382.4L76.8,1382.1L77.1,1381.8L77.4,1381.5L77.6,1381.3L77.8,1381.1L77.9,1381.0L77.9,1381.0L77.9,1381.0L78.0,1381.1L78.2,1381.3L78.5,1381.5L78.7,1381.8L79.0,1382.1L79.3,1382.4L79.6,1382.7L79.8,1382.9L80.0,1383.1L80.1,1383.2Z" fill="#8fc0de"/>
</g>
<g clip-path="url(#axclip)" fill="none" stroke-linejoin="round" stroke-linecap="round">
<path d="M34.4,493.6L35.8,496.6Q37.3,499.6 40.3,501.2L40.3,501.2Q43.3,502.8 47.6,503.3L47.6,503.3Q51.8,503.8 56.7,502.9L56.7,502.9Q61.5,502.1 65.8,499.9L65.8,499.9Q70.0,497.7 76.2,494.4L77.2,493.8Q83.4,490.4 89.6,487.2L90.5,486.7Q96.7,483.4 101.0,484.0L101.0,484.0Q105.2,484.6 109.5,484.8L109.5,484.8Q113.7,485.1 116.8,486.9L116.8,486.9Q119.8,488.7 122.2,489.6L122.2,489.6Q124.6,490.4 129.5,489.9L129.5,489.9Q134.3,489.5 138.6,489.1L138.6,489.1Q142.8,488.7 148.3,488.7L148.3,488.7Q153.8,488.7 159.8,487.5L159.8,487.5Q165.9,486.3 172.0,487.5L172.0,487.5Q178.0,488.7 182.9,488.7L182.9,488.7Q187.7,488.7 193.8,489.6L193.8,489.6Q199.9,490.4 203.5,491.4L203.5,491.4Q207.1,492.4 210.8,493.6L210.8,493.6Q214.4,494.8 218.1,495.4L218.1,495.4Q221.7,496.0 224.7,496.6L224.7,496.6Q227.8,497.2 232.6,495.4L232.6,495.4Q237.5,493.6 240.5,494.8L240.5,494.8Q243.5,496.0 242.9,498.4L242.9,498.4Q242.3,500.9 240.5,503.3L240.5,503.3Q238.7,505.7 238.9,509.4L238.9,509.4Q239.2,513.0 241.4,513.2L241.4,513.2Q243.5,513.5 248.4,512.4L248.4,512.4Q253.2,511.3 257.5,509.7L257.5,509.7Q261.7,508.1 266.0,505.3L266.0,505.3Q270.2,502.6 273.3,501.7L273.3,501.7Q276.3,500.9 279.3,500.9L279.3,500.9Q282.4,500.9 286.0,498.1L286.0,498.1Q289.6,495.3 293.3,494.7L293.3,494.7Q296.9,494.1 300.0,491.4L300.0,491.4Q303.0,488.7 305.4,483.9L305.4,483.9Q307.8,479.0 309.7,476.2L309.7,476.2Q311.5,473.4 314.5,470.2L314.5,470.2Q317.6,466.9 320.0,462.6L320.0,462.6Q322.4,458.4 324.8,456.0L324.8,456.0Q327.3,453.5 330.3,452.6L330.3,452.6Q333.3,451.6 338.2,451.6L338.2,451.6Q343.0,451.6 347.9,451.4L347.9,451.4Q352.7,451.1 355.8,452.3L355.8,452.3Q358.8,453.5 362.4,456.2L362.4,456.2Q366.1,458.9 368.5,458.0L368.5,458.0Q370.9,457.2 372.1,451.7L372.1,451.7Q373.4,446.3 376.4,443.2L376.4,443.2Q379.4,440.2 383.1,435.3L383.1,435.3Q386.7,430.5 390.3,428.9L390.3,428.9Q394.0,427.3 398.2,425.3L398.2,425.3Q402.5,423.2 404.3,419.9L404.3,419.9Q406.1,416.7 411.0,415.9L411.0,415.9Q415.8,415.2 416.8,411.6L416.8,411.6Q417.8,407.9 421.7,407.3L421.7,407.3Q425.5,406.7 429.8,407.9L429.8,407.9Q434.0,409.1 437.1,407.1L437.1,407.1Q440.1,405.0 443.7,404.0L443.7,404.0Q447.4,403.1 450.4,401.0L450.4,401.0Q453.4,398.9 456.7,394.7L460.0,390.4 M142.8,488.7L250.5,683.9Q251.3,685.3 251.3,686.9L251.3,687.1Q251.3,688.9 249.2,692.6L249.2,692.6Q247.2,696.2 243.5,698.0L243.5,698.0Q239.9,699.8 238.7,700.9L237.5,702.0 M460.0,391.7L462.4,388.6Q464.9,385.6 468.5,382.0L468.5,382.0Q472.1,378.3 476.4,374.7L476.4,374.7Q480.6,371.0 484.9,368.0L484.9,368.0Q489.1,365.0 494.0,362.8L494.0,362.8Q498.8,360.6 500.0,357.9L500.0,357.9Q501.3,355.3 504.9,354.4L504.9,354.4Q508.5,353.6 513.4,352.8L513.4,352.8Q518.2,352.1 522.5,352.1L522.5,352.1Q526.7,352.1 531.6,350.0L531.6,350.0Q536.4,348.0 541.3,346.8L541.3,346.8Q546.1,345.6 551.0,343.7L551.0,343.7Q555.9,341.9 560.1,341.3L560.1,341.3Q564.3,340.7 566.8,340.3L566.8,340.3Q569.2,340.0 572.8,341.2L572.8,341.2Q576.5,342.4 581.3,340.3L581.3,340.3Q586.2,338.3 590.4,338.3L590.4,338.3Q594.7,338.3 597.7,338.6L597.7,338.6Q600.7,339.0 603.2,336.8L603.2,336.8Q605.6,334.6 608.0,335.9L608.0,335.9Q610.4,337.1 612.9,337.7L612.9,337.7Q615.3,338.3 617.7,340.1L617.7,340.1Q620.2,341.9 623.2,343.7L623.2,343.7Q626.2,345.6 628.6,346.2L628.6,346.2Q631.1,346.8 632.9,344.1L632.9,344.1Q634.7,341.4 636.5,339.9L636.5,339.9Q638.4,338.3 639.6,335.9L639.6,335.9Q640.8,333.4 643.2,331.0L643.2,331.0Q645.6,328.6 646.8,327.4L648.1,326.1 M648.1,326.1L650.5,326.1Q652.9,326.1 655.3,328.0L655.3,328.0Q657.8,329.8 659.6,333.4L659.6,333.4Q661.4,337.1 663.8,341.3L663.8,341.3Q666.3,345.6 665.7,349.2L665.7,349.2Q665.0,352.8 663.8,355.9L663.8,355.9Q662.6,358.9 662.6,362.5L662.6,362.5Q662.6,366.2 663.8,371.6L663.8,371.6Q665.0,377.1 666.3,381.3L666.3,381.3Q667.5,385.6 667.8,389.8L667.8,389.8Q668.2,394.1 667.0,397.1L667.0,397.1Q665.8,400.2 664.6,403.8L664.6,403.8Q663.3,407.4 660.6,408.6L660.6,408.6Q657.8,409.9 655.9,413.5L655.9,413.5Q654.1,417.1 653.5,421.4L653.5,421.4Q652.9,425.6 650.5,426.2L650.5,426.2Q648.1,426.8 648.7,430.5L648.7,430.5Q649.3,434.1 649.9,437.8L649.9,437.8Q650.5,441.4 651.1,444.4L651.1,444.4Q651.7,447.5 653.5,450.5L653.5,450.5Q655.3,453.5 655.7,456.6L655.7,456.6Q656.1,459.6 655.1,463.9L655.1,463.9Q654.1,468.1 656.6,469.9L656.6,469.9Q659.0,471.7 661.4,473.6L661.4,473.6Q663.8,475.4 664.4,479.6L664.4,479.6Q665.0,483.9 665.7,488.1L665.7,488.1Q666.3,492.4 664.4,494.8L664.4,494.8Q662.6,497.2 662.0,500.3L662.0,500.3Q661.4,503.3 662.0,506.3L662.0,506.3Q662.6,509.4 660.2,511.8L660.2,511.8Q657.8,514.2 655.9,516.0L655.9,516.0Q654.1,517.8 655.9,520.3L655.9,520.3Q657.8,522.7 656.2,525.7L656.2,525.7Q654.6,528.8 656.2,531.8L656.2,531.8Q657.8,534.8 660.2,536.0L660.2,536.0Q662.6,537.3 661.4,540.9L661.4,540.9Q660.2,544.5 661.4,548.2L661.4,548.2Q662.6,551.8 664.4,554.9L664.4,554.9Q666.3,557.9 669.9,558.5L669.9,558.5Q673.5,559.1 675.4,561.5L675.4,561.5Q677.2,564.0 676.6,566.4L676.6,566.4Q676.0,568.8 679.0,570.6L679.0,570.6Q682.0,572.4 681.4,575.5L681.4,575.5Q680.8,578.5 679.6,581.5L679.6,581.5Q678.4,584.6 679.0,588.2L679.0,588.2Q679.6,591.9 682.0,592.5L682.0,592.5Q684.5,593.1 685.7,588.8L685.7,588.8Q686.9,584.6 688.7,587.0L688.7,587.0Q690.5,589.4 693.0,591.2L693.0,591.2Q695.4,593.1 697.2,597.3L697.2,597.3Q699.0,601.6 699.6,605.2L699.6,605.2Q700.2,608.8 701.4,610.7L701.4,610.7Q702.7,612.5 702.1,615.5L702.1,615.5Q701.4,618.5 703.3,621.0L703.3,621.0Q705.1,623.4 708.7,624.0L708.7,624.0Q712.4,624.6 716.6,625.2L716.6,625.2Q720.9,625.8 723.9,625.8L723.9,625.8Q726.9,625.8 729.4,628.9L729.4,628.9Q731.8,631.9 733.6,635.5L733.6,635.5Q735.4,639.2 737.2,638.0L737.2,638.0Q739.1,636.7 740.3,639.8L740.3,639.8Q741.5,642.8 744.5,645.2L744.5,645.2Q747.6,647.7 751.2,648.9L751.2,648.9Q754.8,650.1 758.5,651.3L758.5,651.3Q762.1,652.5 764.5,653.1L764.5,653.1Q767.0,653.7 767.6,658.0L767.6,658.0Q768.2,662.2 766.7,665.9L766.7,665.9Q765.3,669.5 767.3,671.9L767.3,671.9Q769.4,674.4 772.4,677.4L772.4,677.4Q775.5,680.4 779.7,681.0L779.7,681.0Q784.0,681.6 786.4,681.6L786.4,681.6Q788.8,681.6 790.0,684.1L790.0,684.1Q791.2,686.5 794.3,684.7L794.3,684.7Q797.3,682.9 799.7,683.5L799.7,683.5Q802.1,684.1 804.6,685.3L804.6,685.3Q807.0,686.5 810.6,685.9L810.6,685.9Q814.3,685.3 817.9,687.1L817.9,687.1Q821.6,688.9 824.6,688.3L824.6,688.3Q827.6,687.7 830.7,689.5L830.7,689.5Q833.7,691.3 837.3,686.5L837.3,686.5Q841.0,681.6 845.2,680.7L845.2,680.7Q849.5,679.7 853.7,680.1L853.7,680.1Q858.0,680.4 862.8,681.3L862.8,681.3Q867.7,682.1 871.3,684.1L871.3,684.1Q874.9,686.0 878.6,688.1L878.6,688.1Q882.2,690.1 886.1,690.7L890.0,691.3 M237.5,702.0L241.1,703.8Q244.8,705.6 244.8,708.4L244.8,708.4Q244.8,711.2 241.7,712.7L241.7,712.7Q238.7,714.1 235.0,715.1L235.0,715.1Q231.4,716.1 228.4,719.4L228.4,719.4Q225.3,722.6 223.5,724.4L223.5,724.4Q221.7,726.3 218.7,729.3L218.7,729.3Q215.6,732.3 215.3,736.6L215.3,736.6Q214.9,740.8 215.6,747.8L215.7,748.4Q216.4,755.4 216.1,762.4L215.9,767.8Q215.6,774.8 216.5,780.9L216.5,780.9Q217.3,786.9 217.1,793.9L217.1,794.5Q216.8,801.5 216.6,807.6L216.6,807.6Q216.4,813.6 214.8,817.3L214.8,817.3Q213.2,820.9 211.4,823.3L211.4,823.3Q209.6,825.8 209.3,828.8L209.3,828.8Q209.1,831.8 205.9,831.8L205.9,831.8Q202.8,831.8 201.9,833.4L201.9,833.4Q201.1,835.0 203.5,837.6L203.5,837.6Q205.9,840.3 208.7,842.7L208.7,842.7Q211.5,845.2 211.1,848.2L211.1,848.2Q210.8,851.2 212.0,854.3L212.0,854.3Q213.2,857.3 214.4,860.3L214.4,860.3Q215.6,863.4 215.6,867.6L215.6,867.6Q215.6,871.9 216.8,873.7L216.8,873.7Q218.1,875.5 221.1,877.9L221.1,877.9Q224.1,880.4 225.6,884.0L225.6,884.0Q227.0,887.6 228.0,891.3L228.0,891.3Q229.0,894.9 230.0,897.9L230.0,897.9Q230.9,901.0 229.3,902.2L229.3,902.2Q227.8,903.4 223.5,904.0L223.5,904.0Q219.3,904.6 216.2,905.8L216.2,905.8Q213.2,907.0 212.4,910.1L212.4,910.1Q211.5,913.1 212.4,916.1L212.4,916.1Q213.2,919.2 214.4,921.6L214.4,921.6Q215.6,924.0 213.8,925.9L213.8,925.9Q212.0,927.7 207.7,930.1L207.7,930.1Q203.5,932.5 200.5,935.6L200.5,935.6Q197.4,938.6 195.3,940.4L195.3,940.4Q193.1,942.2 192.8,945.9L192.8,945.9Q192.6,949.5 188.9,949.5L188.9,949.5Q185.3,949.5 184.3,951.9L184.3,951.9Q183.4,954.4 183.1,960.4L183.1,960.4Q182.9,966.5 181.9,968.9L181.9,968.9Q180.9,971.4 177.1,972.8L177.1,972.8Q173.2,974.3 170.7,975.8L170.7,975.8Q168.3,977.4 168.3,981.1L168.3,981.1Q168.3,984.7 168.6,988.3L168.6,988.3Q168.8,992.0 167.1,995.6L167.1,995.6Q165.4,999.3 166.9,1001.7L166.9,1001.7Q168.3,1004.1 171.3,1008.4L171.3,1008.4Q174.4,1012.6 177.4,1016.5L177.4,1016.5Q180.4,1020.4 184.7,1023.8L184.7,1023.8Q188.9,1027.2 192.3,1031.4L192.3,1031.4Q195.7,1035.7 194.2,1036.9L194.2,1036.9Q192.6,1038.1 190.2,1038.1L190.2,1038.1Q187.7,1038.1 186.5,1040.5L186.5,1040.5Q185.3,1042.9 182.3,1044.8L182.3,1044.8Q179.2,1046.6 178.0,1049.6L178.0,1049.6Q176.8,1052.6 177.7,1054.7L177.7,1054.7Q178.5,1056.8 175.8,1057.7L175.8,1057.7Q173.2,1058.7 172.0,1062.3L172.0,1062.3Q170.7,1066.0 168.9,1069.6L168.9,1069.6Q167.1,1073.3 164.7,1076.3L164.7,1076.3Q162.2,1079.3 161.6,1082.4L161.6,1082.4Q161.0,1085.4 162.2,1089.0L162.2,1089.0Q163.5,1092.7 165.9,1099.2L168.3,1105.5Q170.7,1112.1 173.3,1118.6L175.4,1123.8Q178.0,1130.3 180.6,1136.8L182.7,1142.0Q185.3,1148.5 187.7,1152.7L187.7,1152.7Q190.2,1157.0 194.4,1159.4L194.4,1159.4Q198.6,1161.8 201.7,1160.3L201.7,1160.3Q204.7,1158.7 209.6,1158.4L209.6,1158.4Q214.4,1158.2 218.1,1160.0L218.1,1160.0Q221.7,1161.8 222.9,1162.9L224.1,1164.0 M890.0,691.3L892.4,697.3Q894.9,703.2 898.5,706.2L898.5,706.2Q902.1,709.3 905.2,710.7L905.2,710.7Q908.2,712.2 912.4,711.9L912.4,711.9Q916.7,711.7 919.7,709.5L919.7,709.5Q922.8,707.3 925.8,705.3L925.8,705.3Q928.8,703.2 931.9,703.2L931.9,703.2Q934.9,703.2 937.3,704.4L937.3,704.4Q939.7,705.6 940.6,710.5L940.6,710.5Q941.4,715.3 944.2,719.6L944.2,719.6Q947.0,723.8 948.2,726.9L948.2,726.9Q949.5,729.9 952.5,730.5L952.5,730.5Q955.5,731.1 957.9,734.8L957.9,734.8Q960.4,738.4 964.0,742.0L964.0,742.0Q967.7,745.7 968.9,746.9L968.9,746.9Q970.1,748.1 972.5,748.7L972.5,748.7Q974.9,749.3 980.4,747.5L980.4,747.5Q985.9,745.7 988.3,748.7L988.3,748.7Q990.7,751.7 993.7,753.8L993.7,753.8Q996.8,755.9 999.8,757.1L999.8,757.1Q1002.8,758.3 1007.1,758.3L1007.1,758.3Q1011.3,758.3 1015.0,761.7L1015.0,761.7Q1018.6,765.1 1023.5,766.3L1023.5,766.3Q1028.3,767.5 1032.0,766.9L1032.0,766.9Q1035.6,766.3 1039.8,765.5L1039.8,765.5Q1044.1,764.6 1047.7,765.8L1047.7,765.8Q1051.4,767.0 1053.8,767.9L1053.8,767.9Q1056.2,768.7 1056.2,774.2L1056.2,774.2Q1056.2,779.7 1059.3,783.3L1059.3,783.3Q1062.3,786.9 1065.9,790.8L1065.9,790.8Q1069.6,794.7 1073.2,797.5L1073.2,797.5Q1076.8,800.3 1081.1,803.9L1081.1,803.9Q1085.3,807.6 1086.6,811.2L1086.6,811.2Q1087.8,814.8 1089.0,816.9L1089.0,816.9Q1090.2,819.0 1095.7,818.1L1095.7,818.1Q1101.1,817.3 1105.4,816.0L1105.4,816.0Q1109.6,814.8 1113.9,814.5L1113.9,814.5Q1118.1,814.1 1121.1,816.3L1121.1,816.3Q1124.2,818.5 1128.4,819.1L1128.4,819.1Q1132.7,819.7 1136.9,818.5L1136.9,818.5Q1141.2,817.3 1146.0,815.2L1146.0,815.2Q1150.9,813.1 1156.3,814.6L1156.3,814.6Q1161.8,816.0 1167.8,815.4L1167.8,815.4Q1173.9,814.8 1175.7,813.0L1175.7,813.0Q1177.6,811.2 1181.8,810.0L1181.8,810.0Q1186.0,808.8 1186.7,813.0L1186.7,813.0Q1187.3,817.3 1191.5,818.1L1191.5,818.1Q1195.8,819.0 1200.0,819.7L1200.0,819.7Q1204.2,820.4 1207.9,822.5L1207.9,822.5Q1211.5,824.5 1214.6,826.1L1214.6,826.1Q1217.6,827.7 1222.4,831.6L1222.4,831.6Q1227.3,835.5 1232.1,838.9L1232.1,838.9Q1237.0,842.3 1240.6,844.7L1240.6,844.7Q1244.3,847.1 1251.0,848.8L1251.0,848.8Q1257.6,850.5 1258.8,856.3L1258.8,856.3Q1260.1,862.2 1262.5,865.8L1262.5,865.8Q1264.9,869.4 1266.1,872.1L1266.1,872.1Q1267.3,874.8 1266.1,880.0L1266.1,880.0Q1264.9,885.2 1260.7,887.6L1260.7,887.6Q1256.4,890.1 1256.4,894.3L1256.4,894.3Q1256.4,898.6 1257.6,902.2L1257.6,902.2Q1258.8,905.8 1258.8,910.1L1258.8,910.1Q1258.8,914.3 1262.5,917.4L1262.5,917.4Q1266.1,920.4 1267.3,925.2L1267.3,925.2Q1268.5,930.1 1270.4,934.3L1270.4,934.3Q1272.2,938.6 1272.8,942.2L1272.8,942.2Q1273.4,945.9 1271.0,946.5L1271.0,946.5Q1268.5,947.1 1270.4,949.5L1272.2,951.9 M1272.2,951.9L1275.2,953.8Q1278.3,955.6 1279.2,962.3L1280.0,967.3Q1280.2,968.9 1280.2,970.5L1281.1,1014.6Q1281.2,1016.2 1279.7,1016.9L1279.7,1016.9Q1278.3,1017.5 1276.7,1017.5L1244.7,1017.5Q1243.1,1017.5 1244.1,1018.7L1248.1,1023.5Q1249.1,1024.7 1250.2,1025.9L1282.1,1062.4Q1283.1,1063.6 1283.7,1065.0L1285.4,1069.4Q1286.0,1070.8 1286.1,1072.4L1290.3,1125.1Q1290.4,1126.7 1290.5,1128.2L1293.3,1164.0 M220.5,1161.6L224.1,1164.6Q227.8,1167.6 230.8,1170.1L230.8,1170.1Q233.8,1172.5 233.2,1174.9L233.2,1174.9Q232.6,1177.3 228.4,1179.8L228.4,1179.8Q224.1,1182.2 219.9,1184.0L219.9,1184.0Q215.6,1185.8 213.2,1188.3L213.2,1188.3Q210.8,1190.7 209.6,1194.3L209.6,1194.3Q208.4,1198.0 208.4,1202.2L208.4,1202.2Q208.4,1206.5 209.6,1209.5L209.6,1209.5Q210.8,1212.5 207.7,1215.6L207.7,1215.6Q204.7,1218.6 201.1,1220.4L201.1,1220.4Q197.4,1222.2 194.4,1223.2L194.4,1223.2Q191.4,1224.2 189.5,1228.1L189.5,1228.1Q187.7,1231.9 184.1,1236.2L184.1,1236.2Q180.4,1240.4 176.8,1244.7L176.8,1244.7Q173.2,1248.9 170.7,1253.2L170.7,1253.2Q168.3,1257.4 165.3,1260.5L165.3,1260.5Q162.2,1263.5 163.5,1265.3L163.5,1265.3Q164.7,1267.1 161.6,1269.0L161.6,1269.0Q158.6,1270.8 155.0,1272.0L155.0,1272.0Q151.3,1273.2 147.7,1275.6L147.7,1275.6Q144.0,1278.0 140.4,1281.1L140.4,1281.1Q136.8,1284.1 135.6,1287.8L135.6,1287.8Q134.3,1291.4 132.9,1293.8L132.9,1293.8Q131.4,1296.2 135.3,1296.9L135.3,1296.9Q139.2,1297.5 142.8,1300.5L142.8,1300.5Q146.5,1303.5 148.7,1306.6L148.7,1306.6Q150.8,1309.6 150.8,1316.3L150.8,1316.3Q150.8,1322.9 151.1,1328.4L151.1,1328.4Q151.3,1333.9 153.8,1338.7L153.8,1338.7Q156.2,1343.6 160.4,1347.8L160.4,1347.8Q164.7,1352.1 167.7,1355.7L167.7,1355.7Q170.7,1359.3 172.2,1363.6L172.2,1363.6Q173.7,1367.8 174.0,1372.7L174.0,1372.7Q174.4,1377.5 175.6,1380.6L175.6,1380.6Q176.8,1383.6 178.6,1383.0L178.6,1383.0Q180.4,1382.4 184.1,1384.6L184.1,1384.6Q187.7,1386.8 192.6,1388.8L192.6,1388.8Q197.4,1390.9 200.1,1390.9L200.1,1390.9Q202.8,1390.9 203.1,1393.9L203.1,1393.9Q203.5,1397.0 201.1,1399.1L201.1,1399.1Q198.6,1401.3 196.6,1403.4L196.6,1403.4Q194.5,1405.4 196.0,1409.1L196.0,1409.1Q197.4,1412.7 199.3,1415.8L199.3,1415.8Q201.1,1418.8 202.3,1424.9L202.3,1424.9Q203.5,1430.9 205.3,1435.8L205.3,1435.8Q207.1,1440.6 208.1,1445.5L208.1,1445.5Q209.1,1450.3 208.7,1456.4L208.7,1456.4Q208.4,1462.5 209.6,1467.3L209.6,1467.3Q210.8,1472.2 212.0,1476.4L212.0,1476.4Q213.2,1480.7 212.6,1482.5L212.6,1482.5Q212.0,1484.3 213.8,1488.0L213.8,1488.0Q215.6,1491.6 217.5,1495.2L217.5,1495.2Q219.3,1498.9 218.1,1501.9L218.1,1501.9Q216.8,1504.9 215.6,1506.1L215.6,1506.1Q214.4,1507.4 216.8,1511.0L216.8,1511.0Q219.3,1514.6 221.1,1518.3L221.1,1518.3Q222.9,1521.9 226.6,1523.7L226.6,1523.7Q230.2,1525.6 234.4,1529.2L234.4,1529.2Q238.7,1532.8 242.9,1537.1L242.9,1537.1Q247.2,1541.3 250.8,1546.2L250.8,1546.2Q254.5,1551.0 258.7,1553.5L258.7,1553.5Q263.0,1555.9 267.8,1559.5L267.8,1559.5Q272.7,1563.2 276.9,1566.0L276.9,1566.0Q281.2,1568.8 281.2,1569.6L281.2,1569.6Q281.2,1570.5 277.5,1572.3L277.5,1572.3Q273.9,1574.1 271.4,1577.7L271.4,1577.7Q269.0,1581.4 265.3,1587.3L264.3,1588.8Q260.5,1594.7 257.5,1597.8L257.5,1597.8Q254.5,1600.8 252.0,1603.8L252.0,1603.8Q249.6,1606.9 250.8,1609.3L250.8,1609.3Q252.0,1611.7 256.3,1614.7L256.3,1614.7Q260.5,1617.8 264.2,1620.2L264.2,1620.2Q267.8,1622.6 268.4,1624.3L269.0,1626.0 M150.8,1322.9L146.2,1327.8Q141.6,1332.6 138.0,1336.3L138.0,1336.3Q134.3,1339.9 130.7,1342.0L130.7,1342.0Q127.1,1344.1 122.8,1343.8L122.8,1343.8Q118.6,1343.6 114.9,1344.2L114.9,1344.2Q111.3,1344.8 109.7,1347.8L109.7,1347.8Q108.1,1350.8 108.9,1354.5L108.9,1354.5Q109.6,1358.1 111.0,1361.8L111.0,1361.8Q112.5,1365.4 113.7,1370.3L113.7,1370.3Q114.9,1375.1 116.8,1378.8L116.8,1378.8Q118.6,1382.4 116.8,1387.2L116.8,1387.2Q114.9,1392.1 112.5,1397.0L112.5,1397.0Q110.1,1401.8 106.4,1406.7L106.4,1406.7Q102.8,1411.5 99.2,1414.5L99.2,1414.5Q95.5,1417.6 91.9,1420.0L91.9,1420.0Q88.2,1422.4 83.4,1424.9L83.4,1424.9Q78.5,1427.3 73.7,1428.3L73.7,1428.3Q68.8,1429.2 62.8,1429.1L62.8,1429.1Q56.7,1429.0 49.7,1428.5L42.1,1428.0 M32.4,1422.4L37.9,1426.1Q43.3,1429.7 47.0,1434.0L47.0,1434.0Q50.6,1438.2 52.4,1441.6L52.4,1441.6Q54.3,1445.0 52.8,1446.5L52.8,1446.5Q51.4,1447.9 51.0,1454.0L51.0,1454.0Q50.6,1460.0 49.4,1464.3L49.4,1464.3Q48.2,1468.5 49.0,1472.8L49.0,1472.8Q49.9,1477.0 48.7,1480.7L48.7,1480.7Q47.5,1484.3 48.2,1490.4L48.2,1490.4Q48.9,1496.4 50.4,1502.5L50.4,1502.5Q51.8,1508.6 53.1,1513.4L53.1,1513.4Q54.3,1518.3 56.1,1523.1L56.1,1523.1Q57.9,1528.0 58.3,1532.2L58.3,1532.2Q58.6,1536.5 57.9,1540.7L57.9,1540.7Q57.2,1545.0 56.7,1548.6L56.7,1548.6Q56.2,1552.3 58.3,1557.1L58.3,1557.1Q60.3,1562.0 62.2,1566.8L62.2,1566.8Q64.0,1571.7 65.2,1576.5L65.2,1576.5Q66.4,1581.4 66.4,1585.6L66.4,1585.6Q66.4,1589.9 63.7,1590.2L63.7,1590.2Q61.1,1590.6 63.7,1592.1L63.7,1592.1Q66.4,1593.5 68.2,1596.5L68.2,1596.5Q70.0,1599.6 71.6,1603.8L71.6,1603.8Q73.2,1608.1 73.4,1612.9L73.4,1612.9Q73.7,1617.8 74.3,1621.9L74.9,1626.0 M1293.3,1161.6L1293.7,1164.0Q1294.0,1166.4 1297.1,1166.9L1297.1,1166.9Q1300.1,1167.4 1307.1,1167.7L1320.0,1168.4 M1087.8,1626.0L1091.3,1617.0Q1093.8,1610.5 1096.4,1604.0L1096.6,1603.6Q1099.2,1597.1 1100.1,1596.3L1100.1,1596.3Q1101.1,1595.4 1102.7,1595.2L1128.7,1591.3Q1130.2,1591.1 1131.8,1590.7L1203.9,1574.9Q1205.5,1574.6 1207.0,1574.2L1276.7,1558.7Q1278.3,1558.3 1279.8,1558.0L1310.7,1552.1Q1312.2,1551.8 1313.8,1551.8L1320.0,1551.8 M1318.1,1168.4L1415.5,1171.7Q1417.1,1171.8 1418.7,1171.8L1488.3,1174.1Q1489.9,1174.2 1491.5,1174.2L1496.5,1174.2Q1503.2,1174.2 1505.6,1173.3L1505.6,1173.3Q1508.1,1172.5 1509.3,1170.1L1509.3,1170.1Q1510.5,1167.6 1514.1,1167.6L1514.1,1167.6Q1517.8,1167.6 1518.4,1171.9L1518.4,1171.9Q1519.0,1176.1 1519.0,1179.8L1519.0,1179.8Q1519.0,1183.4 1517.2,1185.2L1515.3,1187.1 M1515.3,1187.1L1516.6,1190.1Q1517.8,1193.1 1515.9,1196.2L1515.9,1196.2Q1514.1,1199.2 1511.1,1202.2L1511.1,1202.2Q1508.1,1205.3 1505.0,1208.9L1505.0,1208.9Q1502.0,1212.5 1501.4,1216.8L1501.4,1216.8Q1500.8,1221.0 1501.4,1225.3L1501.4,1225.3Q1502.0,1229.5 1503.0,1233.2L1503.0,1233.2Q1503.9,1236.8 1503.2,1239.8L1503.2,1239.8Q1502.5,1242.9 1502.8,1245.9L1502.8,1245.9Q1503.2,1248.9 1504.4,1253.2L1504.4,1253.2Q1505.6,1257.4 1506.5,1260.5L1506.5,1260.5Q1507.3,1263.5 1508.3,1267.1L1508.3,1267.1Q1509.3,1270.8 1509.3,1276.8L1509.3,1276.8Q1509.3,1282.9 1510.5,1287.1L1510.5,1287.1Q1511.7,1291.4 1514.1,1293.5L1514.1,1293.5Q1516.6,1295.5 1520.2,1296.5L1520.2,1296.5Q1523.8,1297.5 1527.5,1299.6L1527.5,1299.6Q1531.1,1301.8 1532.3,1304.5L1532.3,1304.5Q1533.5,1307.2 1537.2,1308.6L1537.2,1308.6Q1540.8,1310.1 1544.5,1312.9L1544.5,1312.9Q1548.1,1315.7 1552.3,1318.5L1552.3,1318.5Q1556.6,1321.2 1560.2,1322.9L1560.2,1322.9Q1563.9,1324.6 1568.1,1325.0L1568.1,1325.0Q1572.4,1325.4 1576.0,1324.8L1576.0,1324.8Q1579.6,1324.2 1582.1,1326.6L1582.1,1326.6Q1584.5,1329.0 1585.1,1333.9L1585.1,1333.9Q1585.7,1338.7 1586.3,1343.0L1586.3,1343.0Q1586.9,1347.2 1590.0,1350.8L1593.0,1354.5 M1593.0,1354.5L1593.4,1356.9Q1593.7,1359.3 1595.2,1361.8L1595.2,1361.8Q1596.6,1364.2 1594.4,1366.0L1594.4,1366.0Q1592.3,1367.8 1594.4,1371.5L1594.4,1371.5Q1596.6,1375.1 1599.7,1380.6L1599.7,1380.6Q1602.7,1386.0 1604.5,1390.3L1604.5,1390.3Q1606.3,1394.5 1608.2,1398.8L1608.2,1398.8Q1610.0,1403.0 1611.8,1406.7L1611.8,1406.7Q1613.6,1410.3 1616.7,1411.5L1616.7,1411.5Q1619.7,1412.7 1622.1,1413.3L1622.1,1413.3Q1624.5,1413.9 1624.9,1415.8L1624.9,1415.8Q1625.3,1417.6 1621.9,1417.6L1621.9,1417.6Q1618.5,1417.6 1615.8,1417.9L1615.8,1417.9Q1613.1,1418.3 1612.2,1422.2L1611.6,1424.5Q1611.2,1426.1 1610.7,1427.6L1587.4,1501.0Q1586.9,1502.5 1588.5,1502.9L1589.4,1503.1Q1591.8,1503.7 1592.4,1507.4L1592.4,1507.4Q1593.0,1511.0 1593.4,1515.2L1593.4,1515.2Q1593.7,1519.5 1589.7,1520.1L1589.7,1520.1Q1585.7,1520.7 1584.5,1523.1L1584.0,1524.1Q1583.3,1525.6 1582.6,1527.0L1545.2,1604.7Q1544.5,1606.1 1544.5,1607.7L1544.5,1607.7Q1544.5,1609.3 1549.8,1613.8L1553.6,1616.9Q1559.0,1621.4 1561.4,1623.7L1563.9,1626.0 M1318.1,1551.8L1425.2,1550.3Q1426.8,1550.3 1428.0,1551.3L1428.0,1551.3Q1429.2,1552.3 1430.6,1553.1L1535.8,1616.5Q1537.2,1617.3 1538.2,1618.5L1538.4,1618.7Q1539.6,1620.2 1539.6,1623.1L1539.6,1626.0 M74.9,1623.6L75.3,1629.6Q75.6,1635.7 75.9,1640.6L75.9,1640.6Q76.1,1645.4 75.1,1649.1L75.1,1649.1Q74.2,1652.7 74.9,1656.3L74.9,1656.3Q75.6,1660.0 74.4,1663.6L74.4,1663.6Q73.2,1667.3 74.0,1671.5L74.0,1671.5Q74.9,1675.7 74.3,1679.4L74.3,1679.4Q73.7,1683.0 71.0,1684.8L71.0,1684.8Q68.3,1686.7 69.2,1690.3L69.2,1690.3Q70.0,1693.9 70.6,1697.6L70.6,1697.6Q71.3,1701.2 68.8,1704.9L68.8,1704.9Q66.4,1708.5 67.0,1715.5L67.0,1716.1Q67.6,1723.1 67.6,1727.9L67.6,1727.9Q67.6,1732.8 67.0,1736.4L67.0,1736.4Q66.4,1740.0 65.8,1742.5L65.8,1742.5Q65.2,1744.9 67.6,1746.7L67.6,1746.7Q70.0,1748.5 72.5,1752.8L72.5,1752.8Q74.9,1757.0 75.5,1759.5L75.5,1759.5Q76.1,1761.9 73.4,1764.9L73.4,1764.9Q70.8,1768.0 70.8,1771.0L70.8,1771.0Q70.8,1774.0 72.8,1777.7L72.8,1777.7Q74.9,1781.3 76.7,1786.2L76.7,1786.2Q78.5,1791.0 80.0,1795.3L80.0,1795.3Q81.4,1799.5 82.2,1803.7L82.2,1803.7Q82.9,1808.0 81.9,1812.8L81.9,1812.8Q81.0,1817.7 82.4,1821.3L82.4,1821.3Q83.9,1825.0 82.4,1828.6L82.4,1828.6Q81.0,1832.3 81.0,1835.9L81.0,1835.9Q81.0,1839.5 79.1,1842.6L79.1,1842.6Q77.3,1845.6 75.3,1847.4L75.3,1847.4Q73.2,1849.2 73.4,1854.1L73.4,1854.1Q73.7,1859.0 73.4,1863.8L73.4,1863.8Q73.2,1868.7 73.2,1873.5L73.2,1873.5Q73.2,1878.4 70.4,1880.2L70.4,1880.2Q67.6,1882.0 68.2,1886.3L68.2,1886.3Q68.8,1890.5 67.6,1895.4L67.6,1895.4Q66.4,1900.2 65.8,1903.8L65.8,1903.8Q65.2,1907.5 64.3,1912.3L64.3,1912.3Q63.5,1917.2 63.1,1923.3L63.1,1923.3Q62.8,1929.3 61.9,1934.2L61.9,1934.2Q61.1,1939.0 61.1,1945.1L61.1,1945.1Q61.1,1951.2 61.3,1954.2L61.3,1954.2Q61.5,1957.2 59.7,1961.5L59.7,1961.5Q57.9,1965.7 57.5,1970.6L57.5,1970.6Q57.2,1975.4 56.7,1979.1L56.7,1979.1Q56.2,1982.7 55.2,1987.6L55.2,1987.6Q54.3,1992.4 53.7,1996.1L53.7,1996.1Q53.1,1999.7 54.3,2003.9L54.3,2003.9Q55.5,2008.2 54.3,2011.8L54.3,2011.8Q53.1,2015.5 51.8,2017.9L51.8,2017.9Q50.6,2020.3 48.8,2024.6L48.8,2024.6Q47.0,2028.8 44.0,2031.8L44.0,2031.8Q40.9,2034.9 36.7,2036.3L32.4,2037.8 M269.0,1623.6L269.6,1627.2Q270.2,1630.9 268.4,1635.7L268.4,1635.7Q266.6,1640.6 265.7,1644.4L265.7,1644.4Q264.9,1648.3 261.5,1648.3L261.5,1648.3Q258.1,1648.3 253.2,1649.5L253.2,1649.5Q248.4,1650.8 243.8,1652.3L243.8,1652.3Q239.2,1653.9 238.9,1656.3L238.9,1656.3Q238.7,1658.8 242.3,1660.0L242.3,1660.0Q246.0,1661.2 246.6,1665.4L246.6,1665.4Q247.2,1669.7 248.4,1673.3L248.4,1673.3Q249.6,1677.0 251.4,1680.4L251.4,1680.4Q253.2,1683.8 249.0,1685.0L249.0,1685.0Q244.8,1686.2 243.2,1689.5L243.2,1689.5Q241.6,1692.7 243.2,1697.0L243.2,1697.0Q244.8,1701.2 248.4,1704.6L248.4,1704.6Q252.0,1708.0 257.5,1710.4L257.5,1710.4Q263.0,1712.9 267.8,1715.3L267.8,1715.3Q272.7,1717.7 275.1,1719.8L275.1,1719.8Q277.5,1721.9 275.1,1724.3L275.1,1724.3Q272.7,1726.7 269.6,1729.7L269.6,1729.7Q266.6,1732.8 266.0,1736.4L266.0,1736.4Q265.4,1740.0 265.6,1747.0L265.6,1747.6Q265.9,1754.6 267.4,1757.0L267.4,1757.0Q269.0,1759.5 272.1,1760.4L272.1,1760.4Q275.1,1761.4 278.7,1761.4L278.7,1761.4Q282.4,1761.4 285.4,1765.9L285.4,1765.9Q288.4,1770.4 292.2,1776.3L298.0,1785.1Q301.8,1791.0 305.5,1796.9L306.5,1798.4Q310.3,1804.4 311.1,1807.4L311.5,1808.9Q312.0,1810.4 312.0,1812.0L312.0,1842.8Q312.0,1844.4 312.6,1845.9L313.5,1848.0Q315.1,1851.7 317.6,1855.9L317.6,1855.9Q320.0,1860.2 321.2,1864.4L321.2,1864.4Q322.4,1868.7 323.0,1875.6L323.0,1876.2Q323.6,1883.2 323.9,1887.5L323.9,1887.5Q324.1,1891.7 327.5,1894.7L327.5,1894.7Q330.9,1897.8 334.3,1901.2L334.3,1901.2Q337.7,1904.6 339.1,1908.5L339.1,1908.5Q340.6,1912.3 339.4,1914.8L339.4,1914.8Q338.2,1917.2 340.0,1919.6L340.0,1919.6Q341.8,1922.0 343.0,1925.7L343.0,1925.7Q344.2,1929.3 343.0,1934.2L343.0,1934.2Q341.8,1939.0 343.0,1942.7L343.0,1942.7Q344.2,1946.3 346.3,1950.0L346.3,1950.0Q348.4,1953.6 349.3,1957.8L349.3,1957.8Q350.3,1962.1 351.8,1965.1L351.8,1965.1Q353.2,1968.1 352.4,1973.0L352.4,1973.0Q351.5,1977.9 350.3,1983.9L350.3,1983.9Q349.1,1990.0 349.1,1995.4L349.1,1995.4Q349.1,2000.9 350.3,2002.7L350.3,2002.7Q351.5,2004.5 354.0,2004.5L354.0,2004.5Q356.4,2004.5 357.6,2007.0L357.6,2007.0Q358.8,2009.4 362.4,2010.4L362.4,2010.4Q366.1,2011.3 373.1,2011.6L374.9,2011.6Q381.9,2011.8 388.8,2010.8L391.9,2010.4Q398.8,2009.4 405.7,2007.9L411.4,2006.6Q418.3,2005.0 425.1,2003.6L434.8,2001.6 M434.8,2001.6L437.4,1997.0Q440.1,1992.4 442.5,1989.4L442.5,1989.4Q444.9,1986.3 449.2,1983.3L449.2,1983.3Q453.4,1980.3 454.3,1977.9L454.3,1977.9Q455.1,1975.4 454.7,1970.0L454.7,1970.0Q454.2,1964.5 457.1,1963.9L460.0,1963.3 M434.8,2001.6L455.9,2022.8Q457.1,2024.0 456.6,2025.5L447.8,2056.4Q447.4,2057.9 446.9,2059.5L444.4,2068.2Q442.5,2074.9 440.7,2079.8L438.9,2084.6 M458.1,1963.8L461.5,1961.1Q464.9,1958.4 467.9,1956.6L467.9,1956.6Q470.9,1954.8 477.0,1953.2L477.0,1953.2Q483.1,1951.6 484.3,1950.0L484.3,1950.0Q485.5,1948.3 484.6,1946.3L484.6,1946.3Q483.8,1944.4 485.2,1941.7L485.2,1941.7Q486.7,1939.0 487.7,1933.6L487.7,1933.6Q488.6,1928.1 490.1,1925.7L490.1,1925.7Q491.5,1923.3 493.7,1922.4L493.7,1922.4Q495.9,1921.6 499.2,1922.4L499.2,1922.4Q502.5,1923.3 503.1,1922.0L503.1,1922.0Q503.7,1920.8 505.2,1920.4L531.3,1913.2Q532.8,1912.8 534.1,1911.9L535.0,1911.4Q537.2,1909.9 538.6,1907.7L538.6,1907.7Q540.1,1905.5 541.9,1905.3L541.9,1905.3Q543.7,1905.1 544.3,1898.4L544.3,1898.4Q544.9,1891.7 546.9,1885.0L549.7,1875.4Q551.7,1868.7 556.2,1869.9L556.2,1869.9Q560.7,1871.1 564.3,1872.5L564.3,1872.5Q568.0,1874.0 570.0,1876.2L570.0,1876.2Q572.1,1878.4 573.1,1882.0L573.1,1882.0Q574.0,1885.6 580.1,1886.6L580.1,1886.6Q586.2,1887.6 589.2,1890.9L589.2,1890.9Q592.2,1894.1 597.0,1899.3L599.7,1902.3Q604.4,1907.5 607.4,1908.9L607.4,1908.9Q610.4,1910.4 617.4,1909.7L620.5,1909.4Q627.4,1908.7 629.3,1907.8L629.3,1907.8Q631.1,1907.0 638.0,1908.1L645.3,1909.2Q646.8,1909.4 648.4,1909.4L698.6,1908.7Q700.2,1908.7 701.8,1909.0L715.2,1912.0Q722.1,1913.6 728.1,1916.6L728.1,1916.6Q734.2,1919.6 737.8,1919.0L741.5,1918.4 M741.5,1918.4L746.9,1920.8Q752.4,1923.3 755.4,1926.9L755.4,1926.9Q758.5,1930.5 758.5,1933.0L758.5,1933.0Q758.5,1935.4 756.7,1937.8L756.7,1937.8Q754.8,1940.2 757.9,1943.3L757.9,1943.3Q760.9,1946.3 761.5,1949.3L761.5,1949.3Q762.1,1952.4 764.5,1955.4L764.5,1955.4Q767.0,1958.4 770.2,1962.1L770.2,1962.1Q773.5,1965.7 772.1,1969.4L772.1,1969.4Q770.6,1973.0 770.4,1976.0L770.4,1976.0Q770.1,1979.1 772.8,1982.7L772.8,1982.7Q775.5,1986.3 778.5,1988.8L778.5,1988.8Q781.5,1991.2 782.1,1995.4L782.1,1995.4Q782.7,1999.7 783.7,2003.6L784.7,2007.5 M784.7,2007.5L786.7,2001.2Q788.8,1994.8 789.4,1988.8L789.4,1988.8Q790.0,1982.7 791.7,1975.9L793.2,1970.1Q794.9,1963.3 799.1,1959.1L799.1,1959.1Q803.4,1954.8 805.2,1950.6L805.2,1950.6Q807.0,1946.3 809.8,1939.9L811.5,1935.8Q814.3,1929.3 816.5,1928.1L816.5,1928.1Q818.7,1926.9 821.1,1920.3L821.6,1918.9Q824.0,1912.3 824.6,1909.9L824.6,1909.9Q825.2,1907.5 827.0,1906.3L827.0,1906.3Q828.8,1905.1 830.1,1901.2L830.1,1901.2Q831.3,1897.3 833.7,1896.6L833.7,1896.6Q836.1,1895.8 842.2,1896.2L842.2,1896.2Q848.3,1896.6 852.5,1899.6L852.5,1899.6Q856.7,1902.6 859.8,1900.0L859.8,1900.0Q862.8,1897.3 866.5,1896.6L866.5,1896.6Q870.1,1895.8 877.1,1895.8L891.9,1895.8 M1089.5,1623.6L1086.2,1633.9Q1084.1,1640.6 1081.0,1646.8L1077.6,1653.7Q1076.8,1655.1 1075.9,1656.4L1060.8,1678.1Q1059.9,1679.4 1058.9,1680.7L1039.0,1708.4Q1038.0,1709.7 1037.3,1711.1L1036.3,1713.1Q1035.6,1714.6 1035.6,1716.2L1036.1,1767.6Q1036.1,1769.2 1036.0,1770.8L1035.7,1776.1Q1035.6,1777.7 1035.1,1779.2L991.9,1925.7 M888.1,1896.6L944.2,1896.6Q945.8,1896.6 947.4,1896.5L958.2,1896.1Q965.2,1895.8 967.7,1896.6L967.7,1896.6Q970.1,1897.3 970.7,1897.5L971.3,1897.8 M971.3,1897.8L971.9,1901.4Q972.5,1905.1 973.1,1909.3L973.1,1909.3Q973.7,1913.6 976.1,1915.4L976.1,1915.4Q978.6,1917.2 982.2,1919.4L982.2,1919.4Q985.9,1921.6 988.9,1924.2L988.9,1924.2Q991.9,1926.9 992.5,1930.5L992.5,1930.5Q993.1,1934.2 996.2,1935.4L996.2,1935.4Q999.2,1936.6 1002.2,1939.6L1002.2,1939.6Q1005.3,1942.7 1008.9,1944.5L1008.9,1944.5Q1012.5,1946.3 1015.6,1949.3L1015.6,1949.3Q1018.6,1952.4 1022.9,1954.4L1022.9,1954.4Q1027.1,1956.5 1030.7,1957.2L1030.7,1957.2Q1034.4,1958.0 1035.0,1960.0L1035.0,1960.0Q1035.6,1962.1 1038.3,1964.5L1038.3,1964.5Q1040.9,1966.9 1040.1,1970.6L1040.1,1970.6Q1039.2,1974.2 1042.9,1975.8L1042.9,1975.8Q1046.5,1977.4 1046.5,1981.3L1046.5,1981.3Q1046.5,1985.1 1048.3,1988.8L1048.3,1988.8Q1050.2,1992.4 1053.2,1996.1L1053.2,1996.1Q1056.2,1999.7 1059.3,2003.1L1059.3,2003.1Q1062.3,2006.5 1065.3,2011.0L1065.3,2011.0Q1068.4,2015.5 1069.0,2019.7L1069.0,2019.7Q1069.6,2024.0 1072.6,2027.0L1072.6,2027.0Q1075.6,2030.0 1079.9,2032.5L1079.9,2032.5Q1084.1,2034.9 1087.2,2036.7L1087.2,2036.7Q1090.2,2038.5 1093.2,2041.9L1093.2,2041.9Q1096.3,2045.3 1098.4,2048.0L1098.4,2048.0Q1100.6,2050.7 1100.9,2053.7L1100.9,2053.7Q1101.1,2056.7 1105.4,2059.5L1105.4,2059.5Q1109.6,2062.3 1113.2,2062.3L1113.2,2062.3Q1116.9,2062.3 1119.9,2065.0L1119.9,2065.0Q1123.0,2067.6 1126.0,2069.5L1126.0,2069.5Q1129.0,2071.3 1129.6,2074.3L1129.6,2074.3Q1130.2,2077.3 1135.1,2078.6L1135.1,2078.6Q1139.9,2079.8 1144.8,2082.2L1144.8,2082.2Q1149.6,2084.6 1153.3,2086.3L1156.9,2088.0 M1539.6,1623.6L1540.2,1628.4Q1540.8,1633.3 1541.4,1637.5L1541.4,1637.5Q1542.0,1641.8 1541.7,1646.0L1541.7,1646.0Q1541.3,1650.3 1540.5,1655.1L1540.5,1655.1Q1539.6,1660.0 1540.0,1662.4L1540.3,1664.8 M1559.0,1623.6L1576.0,1638.1 M1576.0,1638.1L1574.2,1641.2Q1572.4,1644.2 1568.7,1644.8L1568.7,1644.8Q1565.1,1645.4 1562.1,1647.2L1562.1,1647.2Q1559.0,1649.1 1556.6,1652.1L1556.6,1652.1Q1554.2,1655.1 1551.1,1656.9L1551.1,1656.9Q1548.1,1658.8 1545.7,1660.6L1545.7,1660.6Q1543.2,1662.4 1541.8,1663.6L1541.8,1663.6Q1540.3,1664.8 1542.4,1667.3L1542.4,1667.3Q1544.5,1669.7 1542.0,1671.5L1542.0,1671.5Q1539.6,1673.3 1542.0,1674.5L1542.0,1674.5Q1544.5,1675.7 1546.3,1677.0L1546.3,1677.0Q1548.1,1678.2 1548.1,1681.8L1548.1,1681.8Q1548.1,1685.5 1549.9,1688.5L1549.9,1688.5Q1551.7,1691.5 1555.4,1693.3L1555.4,1693.3Q1559.0,1695.2 1559.6,1697.0L1559.6,1697.0Q1560.2,1698.8 1559.0,1702.4L1559.0,1702.4Q1557.8,1706.1 1559.0,1710.9L1559.0,1710.9Q1560.2,1715.8 1561.2,1719.4L1561.2,1719.4Q1562.2,1723.1 1563.0,1726.7L1563.0,1726.7Q1563.9,1730.3 1566.9,1728.5L1566.9,1728.5Q1569.9,1726.7 1572.1,1729.7L1572.1,1729.7Q1574.3,1732.8 1575.5,1734.6L1575.5,1734.6Q1576.7,1736.4 1574.5,1738.2L1574.5,1738.2Q1572.4,1740.0 1569.9,1741.3L1569.9,1741.3Q1567.5,1742.5 1570.5,1744.9L1570.5,1744.9Q1573.6,1747.3 1575.4,1749.8L1575.4,1749.8Q1577.2,1752.2 1574.2,1754.6L1574.2,1754.6Q1571.2,1757.0 1573.6,1758.9L1573.6,1758.9Q1576.0,1760.7 1578.8,1762.5L1578.8,1762.5Q1581.6,1764.3 1581.2,1768.0L1581.2,1768.0Q1580.9,1771.6 1579.3,1774.0L1579.3,1774.0Q1577.7,1776.4 1578.9,1781.3L1578.9,1781.3Q1580.1,1786.2 1579.3,1791.0L1579.3,1791.0Q1578.4,1795.9 1576.0,1799.5L1576.0,1799.5Q1573.6,1803.1 1572.4,1805.0L1572.4,1805.0Q1571.2,1806.8 1574.2,1809.2L1574.2,1809.2Q1577.2,1811.6 1575.4,1815.9L1575.4,1815.9Q1573.6,1820.1 1570.5,1824.4L1570.5,1824.4Q1567.5,1828.6 1566.3,1831.7L1566.3,1831.7Q1565.1,1834.7 1567.5,1837.7L1567.5,1837.7Q1569.9,1840.8 1568.7,1845.0L1568.7,1845.0Q1567.5,1849.2 1569.7,1852.3L1569.7,1852.3Q1571.9,1855.3 1569.7,1859.6L1569.7,1859.6Q1567.5,1863.8 1566.9,1868.7L1566.9,1868.7Q1566.3,1873.5 1567.5,1878.4L1567.5,1878.4Q1568.7,1883.2 1567.5,1886.9L1567.5,1886.9Q1566.3,1890.5 1564.5,1893.5L1564.5,1893.5Q1562.7,1896.6 1561.7,1900.8L1560.7,1905.1 M1560.7,1905.1L1562.9,1908.1Q1565.1,1911.1 1568.7,1911.7L1568.7,1911.7Q1572.4,1912.3 1576.0,1913.3L1576.0,1913.3Q1579.6,1914.3 1583.3,1912.7L1583.3,1912.7Q1586.9,1911.1 1590.6,1910.5L1590.6,1910.5Q1594.2,1909.9 1597.8,1909.7L1597.8,1909.7Q1601.5,1909.4 1602.1,1912.1L1602.1,1912.1Q1602.7,1914.8 1604.5,1917.2L1604.5,1917.2Q1606.3,1919.6 1611.2,1919.4L1611.2,1919.4Q1616.0,1919.1 1620.9,1919.4L1620.9,1919.4Q1625.8,1919.6 1630.6,1921.1L1630.6,1921.1Q1635.5,1922.5 1640.3,1922.9L1640.3,1922.9Q1645.2,1923.3 1649.4,1922.0L1649.4,1922.0Q1653.7,1920.8 1657.9,1921.7L1657.9,1921.7Q1662.1,1922.5 1665.8,1923.7L1665.8,1923.7Q1669.4,1925.0 1674.3,1925.3L1674.3,1925.3Q1679.1,1925.7 1684.0,1926.9L1684.0,1926.9Q1688.8,1928.1 1691.9,1928.7L1691.9,1928.7Q1694.9,1929.3 1696.1,1931.8L1696.1,1931.8Q1697.3,1934.2 1700.4,1931.8L1700.4,1931.8Q1703.4,1929.3 1707.0,1928.7L1707.0,1928.7Q1710.7,1928.1 1714.3,1926.5L1714.3,1926.5Q1718.0,1925.0 1721.0,1927.1L1721.0,1927.1Q1724.0,1929.3 1727.1,1927.5L1727.1,1927.5Q1730.1,1925.7 1732.5,1922.7L1732.5,1922.7Q1734.9,1919.6 1737.1,1915.0L1739.3,1910.4" stroke="#797b7e" stroke-width="4.1"/>
<path d="M577.2,751.1Q577.2,748.1 579.2,745.9L580.6,744.3Q582.5,742.0 585.2,740.7L587.1,739.7Q589.8,738.4 591.4,740.9L593.1,743.6Q594.7,746.2 593.5,748.9L593.4,749.0Q592.2,751.7 591.7,754.7L590.3,762.6Q589.8,765.6 586.8,765.6L585.5,765.6Q582.5,765.6 580.5,764.7L580.5,764.7Q578.4,763.9 578.0,760.9L577.6,757.1Q577.2,754.2 577.2,751.2L577.2,751.1Z M627.8,722.4Q627.4,719.5 629.9,720.2L629.9,720.2Q632.3,720.9 635.1,722.0L635.6,722.2Q638.4,723.4 638.8,726.3L639.1,728.2Q639.6,731.1 641.0,731.7L641.0,731.7Q642.5,732.3 642.7,735.3L643.0,737.8Q643.2,740.8 643.8,743.8L643.8,744.0Q644.4,746.9 643.5,749.7L642.9,751.3Q642.0,754.2 639.1,753.4L638.8,753.3Q635.9,752.5 634.0,750.2L633.0,749.2Q631.1,746.9 631.5,743.9L631.9,741.4Q632.3,738.4 631.2,735.6L629.7,731.5Q628.6,728.7 628.3,725.7L627.8,722.4Z M1135.6,1324.2Q1133.9,1321.7 1136.4,1320.2L1137.4,1319.6Q1139.9,1318.1 1142.8,1317.4L1146.7,1316.4Q1149.6,1315.7 1150.3,1318.1L1150.3,1318.1Q1150.9,1320.5 1149.5,1323.2L1149.1,1323.9Q1147.7,1326.6 1144.7,1326.7L1140.5,1326.9Q1137.5,1327.1 1135.8,1324.6L1135.6,1324.2Z M1705.2,1609.9Q1704.6,1608.1 1706.4,1606.6L1706.4,1606.6Q1708.3,1605.2 1711.2,1604.9L1712.5,1604.7Q1715.5,1604.4 1716.1,1606.9L1716.1,1606.9Q1716.7,1609.3 1714.3,1610.9L1714.3,1610.9Q1711.9,1612.4 1708.9,1612.1L1708.8,1612.1Q1705.8,1611.7 1705.2,1609.9L1705.2,1609.9Z M1577.2,1324.7Q1574.8,1322.9 1577.6,1321.9L1589.0,1317.9Q1591.8,1316.9 1589.9,1319.2L1588.3,1321.3Q1586.4,1323.7 1588.8,1325.6L1590.7,1327.1Q1593.0,1329.0 1590.1,1330.0L1588.6,1330.5Q1585.7,1331.4 1583.4,1329.6L1582.0,1328.5Q1579.6,1326.6 1577.2,1324.8L1577.2,1324.7Z M98.8,1057.3Q97.3,1054.7 98.5,1053.2L98.5,1053.2Q99.6,1051.8 102.5,1051.0L104.3,1050.6Q107.2,1049.8 110.0,1049.0L111.8,1048.5Q114.7,1047.7 111.8,1047.0L111.8,1047.0Q108.9,1046.3 106.9,1045.3L106.9,1045.3Q104.8,1044.3 105.4,1043.4L105.4,1043.4Q106.0,1042.5 109.0,1042.4L116.3,1042.1Q119.3,1042.0 121.9,1041.4L121.9,1041.4Q124.5,1040.8 123.3,1039.1L123.3,1039.1Q122.2,1037.3 123.3,1036.3L123.3,1036.3Q124.5,1035.3 126.5,1036.9L126.5,1036.9Q128.5,1038.5 130.7,1040.6L131.0,1041.0Q133.2,1043.1 133.7,1045.7L133.7,1045.7Q134.3,1048.3 137.2,1048.9L139.5,1049.4Q142.4,1050.0 144.9,1051.7L146.8,1053.0Q149.3,1054.7 151.6,1056.6L154.0,1058.5Q156.3,1060.4 157.7,1063.1L158.3,1064.2Q159.7,1066.8 162.6,1065.9L162.6,1065.9Q165.5,1065.1 167.5,1066.5L167.5,1066.5Q169.5,1068.0 170.4,1070.6L170.4,1070.6Q171.3,1073.2 173.6,1075.0L174.7,1075.9Q177.1,1077.8 177.6,1080.7L177.7,1081.7Q178.2,1084.7 179.4,1087.0L179.4,1087.0Q180.5,1089.3 183.5,1089.5L185.6,1089.7Q188.6,1089.9 191.2,1090.5L191.2,1090.5Q193.8,1091.1 192.4,1092.5L192.4,1092.5Q190.9,1093.9 193.2,1095.4L193.2,1095.4Q195.5,1096.8 198.4,1097.7L198.5,1097.7Q201.3,1098.6 203.4,1100.7L203.8,1101.1Q205.9,1103.2 208.1,1105.3L208.4,1105.7Q210.6,1107.8 211.4,1110.1L211.4,1110.1Q212.3,1112.4 212.1,1115.4L212.0,1116.4Q211.7,1119.4 212.9,1121.1L212.9,1121.1Q214.0,1122.8 217.0,1123.3L218.6,1123.5Q221.5,1124.0 224.1,1123.7L224.1,1123.7Q226.7,1123.4 229.7,1124.1L230.8,1124.4Q233.7,1125.1 236.3,1125.4L236.3,1125.4Q238.9,1125.7 240.3,1127.7L240.3,1127.7Q241.8,1129.8 240.9,1130.9L240.9,1130.9Q240.0,1132.1 237.3,1133.3L236.4,1133.7Q233.7,1135.0 232.5,1137.0L232.5,1137.0Q231.4,1139.0 228.6,1140.1L228.4,1140.2Q225.6,1141.3 226.9,1144.0L227.7,1145.6Q229.1,1148.3 230.3,1151.0L230.7,1151.9Q231.9,1154.6 232.2,1156.9L232.2,1156.9Q232.5,1159.2 234.0,1157.8L234.0,1157.8Q235.4,1156.3 237.4,1156.1L237.4,1156.1Q239.5,1155.8 242.1,1157.1L242.5,1157.3Q245.2,1158.7 248.1,1159.5L248.1,1159.5Q251.0,1160.4 254.0,1160.0L256.1,1159.7Q259.1,1159.2 261.4,1161.1L262.5,1162.0Q264.9,1163.9 264.0,1165.9L264.0,1165.9Q263.1,1167.9 263.4,1170.5L263.4,1170.5Q263.7,1173.1 260.8,1173.4L260.8,1173.4Q257.9,1173.7 255.1,1174.0L255.1,1174.0Q252.2,1174.3 250.4,1174.5L250.4,1174.5Q248.7,1174.8 250.4,1175.4L250.4,1175.4Q252.2,1176.0 249.9,1177.1L249.9,1177.1Q247.5,1178.3 245.8,1180.6L245.8,1180.6Q244.1,1182.9 241.8,1184.4L241.8,1184.4Q239.5,1185.8 236.6,1185.5L236.6,1185.5Q233.7,1185.2 230.7,1185.9L228.5,1186.3Q225.6,1187.0 222.7,1187.9L221.5,1188.3Q218.7,1189.3 220.4,1190.7L220.4,1190.7Q222.1,1192.2 225.1,1192.6L227.8,1192.9Q230.8,1193.3 231.0,1196.3L231.2,1199.6Q231.4,1202.6 231.0,1205.5L230.6,1208.3Q230.2,1211.2 227.3,1210.5L226.2,1210.2Q223.3,1209.5 220.4,1208.5L219.2,1208.1Q216.3,1207.2 214.0,1206.0L214.0,1206.0Q211.7,1204.9 209.4,1203.1L209.4,1203.1Q207.1,1201.4 205.2,1199.1L204.4,1198.0Q202.5,1195.6 203.1,1193.3L203.1,1193.3Q203.6,1191.0 205.4,1189.3L205.4,1189.3Q207.1,1187.5 208.4,1184.9L208.6,1184.4Q210.0,1181.8 210.2,1178.8L210.3,1177.8Q210.6,1174.8 209.1,1172.2L208.0,1170.5Q206.5,1167.9 205.4,1167.0L205.4,1167.0Q204.2,1166.2 207.2,1166.4L207.6,1166.5Q210.6,1166.7 212.3,1165.9L212.3,1165.9Q214.0,1165.0 216.1,1163.9L216.1,1163.9Q218.1,1162.7 220.8,1164.0L221.7,1164.5Q224.4,1165.8 226.7,1165.1L226.7,1165.1Q229.1,1164.4 230.8,1164.1L230.8,1164.1Q232.5,1163.9 230.8,1162.4L230.8,1162.4Q229.1,1161.0 226.6,1159.3L224.6,1158.0Q222.1,1156.3 219.8,1154.5L218.7,1153.6Q216.3,1151.7 214.4,1149.5L213.7,1148.8Q211.7,1146.5 209.0,1145.3L205.2,1143.7Q202.5,1142.5 199.8,1141.1L199.4,1140.9Q196.7,1139.6 198.4,1141.9L198.4,1141.9Q200.2,1144.2 201.6,1145.9L201.6,1145.9Q203.1,1147.7 202.2,1150.3L202.2,1150.3Q201.3,1152.9 199.6,1154.0L199.6,1154.0Q197.9,1155.2 199.0,1156.6L199.0,1156.6Q200.2,1158.1 199.6,1160.4L199.6,1160.4Q199.0,1162.7 196.1,1163.3L196.1,1163.3Q193.2,1163.9 190.3,1164.1L190.3,1164.1Q187.5,1164.4 184.6,1164.7L184.6,1164.7Q181.7,1165.0 181.1,1166.5L181.1,1166.5Q180.5,1167.9 178.2,1166.7L178.2,1166.7Q175.9,1165.6 173.2,1164.2L171.7,1163.5Q169.0,1162.1 167.4,1159.6L167.0,1158.9Q165.5,1156.3 162.6,1156.9L162.6,1156.9Q159.7,1157.5 157.4,1158.1L157.4,1158.1Q155.1,1158.7 153.4,1157.5L153.4,1157.5Q151.6,1156.3 152.8,1154.6L152.8,1154.6Q153.9,1152.9 156.1,1150.8L156.5,1150.4Q158.6,1148.3 160.3,1146.2L160.3,1146.2Q162.0,1144.2 162.3,1142.2L162.3,1142.2Q162.6,1140.2 161.2,1138.4L161.2,1138.4Q159.7,1136.7 159.7,1135.3L159.7,1135.3Q159.7,1133.8 157.4,1133.2L157.4,1133.2Q155.1,1132.7 152.2,1131.8L152.2,1131.8Q149.3,1130.9 147.0,1130.1L147.0,1130.1Q144.7,1129.2 141.8,1128.9L141.8,1128.9Q138.9,1128.6 136.0,1128.1L135.0,1128.0Q132.0,1127.5 129.7,1125.5L129.6,1125.4Q127.4,1123.4 128.5,1122.0L128.5,1122.0Q129.7,1120.5 128.0,1119.7L128.0,1119.7Q126.2,1118.8 125.1,1120.2L125.1,1120.2Q123.9,1121.7 122.2,1120.5L122.2,1120.5Q120.4,1119.4 119.3,1116.6L119.2,1116.4Q118.1,1113.6 117.0,1110.8L116.9,1110.6Q115.8,1107.8 114.7,1106.4L114.7,1106.4Q113.5,1104.9 111.8,1105.5L111.8,1105.5Q110.0,1106.1 108.9,1108.7L108.9,1108.7Q107.7,1111.3 106.9,1113.0L106.9,1113.0Q106.0,1114.7 108.6,1115.6L108.6,1115.6Q111.2,1116.5 112.9,1117.3L112.9,1117.3Q114.7,1118.2 114.4,1119.4L114.4,1119.4Q114.1,1120.5 111.5,1121.4L111.5,1121.4Q108.9,1122.3 107.2,1122.3L107.2,1122.3Q105.4,1122.3 104.6,1120.2L104.6,1120.2Q103.7,1118.2 102.0,1117.1L102.0,1117.1Q100.2,1115.9 97.9,1115.3L97.9,1115.3Q95.6,1114.7 94.2,1113.9L94.2,1113.9Q92.7,1113.0 90.4,1112.4L90.4,1112.4Q88.1,1111.9 89.0,1109.8L89.0,1109.8Q89.8,1107.8 88.4,1105.5L88.4,1105.5Q86.9,1103.2 86.6,1100.3L86.6,1100.3Q86.4,1097.4 87.5,1095.7L87.5,1095.7Q88.7,1093.9 91.3,1093.9L91.3,1093.9Q93.9,1093.9 94.7,1091.6L94.7,1091.6Q95.6,1089.3 97.6,1087.6L97.6,1087.6Q99.6,1085.9 99.1,1083.6L99.1,1083.6Q98.5,1081.2 98.2,1079.5L98.2,1079.5Q97.9,1077.8 99.4,1078.1L99.4,1078.1Q100.8,1078.4 102.8,1080.1L102.8,1080.1Q104.8,1081.8 106.3,1083.3L106.3,1083.3Q107.7,1084.7 108.3,1087.0L108.3,1087.0Q108.9,1089.3 109.6,1091.1L109.6,1091.1Q110.3,1092.8 112.5,1093.9L112.5,1093.9Q114.7,1095.1 117.5,1096.0L117.6,1096.0Q120.4,1096.8 119.6,1096.0L119.6,1096.0Q118.7,1095.1 117.4,1093.7L117.4,1093.7Q116.1,1092.2 116.5,1091.4L116.5,1091.4Q117.0,1090.5 115.8,1088.2L115.8,1088.2Q114.7,1085.9 113.2,1083.2L110.3,1078.1Q108.9,1075.5 107.4,1072.8L104.6,1067.7Q103.1,1065.1 101.7,1062.4L98.8,1057.3Z M431.4,1402.6Q430.2,1401.2 431.4,1400.2L431.4,1400.2Q432.6,1399.3 434.0,1398.6L434.0,1398.6Q435.4,1397.9 436.2,1396.2L436.2,1396.2Q436.9,1394.6 438.3,1393.4L438.3,1393.4Q439.7,1392.2 442.6,1391.3L443.0,1391.2Q445.8,1390.3 448.0,1391.3L448.0,1391.3Q450.1,1392.2 452.0,1393.6L452.0,1393.6Q453.9,1395.0 452.7,1397.2L452.7,1397.2Q451.5,1399.3 450.3,1401.7L450.3,1401.7Q449.1,1404.0 448.0,1406.8L447.9,1406.9Q446.8,1409.7 448.0,1411.6L448.0,1411.6Q449.1,1413.5 450.8,1415.6L450.8,1415.6Q452.5,1417.7 453.6,1418.4L453.6,1418.4Q454.8,1419.1 454.1,1421.0L454.1,1421.0Q453.4,1422.9 453.2,1425.9L453.0,1428.4Q452.7,1431.4 452.6,1434.4L452.2,1440.7Q452.0,1443.7 451.3,1446.1L451.3,1446.1Q450.6,1448.4 450.1,1450.3L450.1,1450.3Q449.6,1452.2 448.7,1454.1L448.7,1454.1Q447.7,1456.0 447.0,1458.8L447.0,1458.8Q446.3,1461.7 445.6,1464.5L445.6,1464.5Q444.9,1467.4 444.9,1469.0L444.9,1469.0Q444.9,1470.7 446.6,1470.9L446.6,1470.9Q448.2,1471.1 450.1,1471.8L450.1,1471.8Q452.0,1472.6 453.2,1474.2L453.2,1474.2Q454.3,1475.9 456.0,1477.3L456.0,1477.3Q457.7,1478.7 458.6,1480.6L458.6,1480.6Q459.5,1482.5 460.3,1485.4L460.7,1487.1Q461.4,1490.0 462.3,1492.9L462.5,1493.8Q463.3,1496.7 464.7,1499.3L464.7,1499.3Q466.2,1501.9 468.1,1504.0L468.1,1504.0Q469.9,1506.1 471.4,1508.0L471.4,1508.0Q472.8,1509.9 473.5,1512.7L473.5,1512.7Q474.2,1515.6 473.7,1518.4L473.7,1518.4Q473.3,1521.2 472.3,1524.1L472.3,1524.1Q471.4,1526.9 469.7,1529.3L469.7,1529.3Q468.1,1531.6 466.2,1533.0L466.2,1533.0Q464.3,1534.5 462.4,1535.4L462.4,1535.4Q460.5,1536.4 459.5,1537.5L459.5,1537.5Q458.4,1538.7 457.6,1537.5L457.6,1537.5Q456.7,1536.4 455.1,1534.5L455.1,1534.5Q453.4,1532.6 452.9,1530.7L452.9,1530.7Q452.5,1528.8 452.2,1526.0L452.2,1526.0Q452.0,1523.1 451.5,1522.2L451.5,1522.2Q451.0,1521.2 450.6,1519.3L450.6,1519.3Q450.1,1517.4 449.5,1514.6L449.5,1514.6Q449.0,1511.8 448.8,1509.4L448.8,1509.4Q448.7,1507.1 448.0,1505.6L448.0,1505.6Q447.3,1504.2 448.0,1502.8L448.0,1502.8Q448.7,1501.4 447.5,1499.7L447.5,1499.7Q446.3,1498.1 444.0,1496.2L443.9,1496.2Q441.6,1494.3 439.7,1493.3L439.7,1493.3Q437.8,1492.4 436.2,1491.5L436.2,1491.5Q434.5,1490.5 433.7,1489.3L433.7,1489.3Q432.9,1488.1 434.2,1486.7L434.2,1486.7Q435.4,1485.3 438.1,1483.9L438.9,1483.4Q441.6,1482.0 441.8,1480.8L441.8,1480.8Q442.1,1479.6 441.4,1478.0L441.4,1478.0Q440.6,1476.3 439.5,1475.9L439.5,1475.9Q438.3,1475.4 438.0,1474.2L438.0,1474.2Q437.8,1473.0 435.9,1472.1L435.9,1472.1Q434.0,1471.1 431.7,1470.7L431.7,1470.7Q429.3,1470.2 428.1,1468.8L428.1,1468.8Q426.9,1467.4 426.6,1465.2L426.6,1465.2Q426.3,1463.1 427.8,1461.2L427.8,1461.2Q429.3,1459.3 431.7,1457.9L431.7,1457.9Q434.0,1456.5 436.4,1455.1L436.4,1455.1Q438.8,1453.6 440.2,1452.0L440.2,1452.0Q441.6,1450.3 442.5,1448.0L442.5,1448.0Q443.5,1445.6 444.0,1443.3L444.0,1443.3Q444.4,1440.9 445.8,1439.7L445.8,1439.7Q447.3,1438.5 448.4,1437.3L448.4,1437.3Q449.6,1436.2 450.3,1433.8L450.3,1433.8Q451.0,1431.4 451.2,1428.4L451.3,1426.9Q451.5,1423.9 451.0,1421.5L451.0,1421.5Q450.6,1419.1 449.4,1417.5L449.4,1417.5Q448.2,1415.8 445.8,1414.0L444.9,1413.4Q442.5,1411.6 441.1,1410.4L441.1,1410.4Q439.7,1409.2 437.8,1407.6L437.8,1407.6Q435.9,1405.9 434.3,1405.0L434.3,1405.0Q432.6,1404.0 431.4,1402.6L431.4,1402.6Z" fill="#97b6e1" fill-opacity="0.5" stroke="none"/>
<path d="M34.4,284.9L36.4,281.9Q38.5,278.8 40.9,279.4L40.9,279.4Q43.3,280.0 45.8,276.4L45.8,276.4Q48.2,272.8 51.2,271.5L51.2,271.5Q54.3,270.3 54.9,265.5L54.9,265.5Q55.5,260.6 57.3,258.8L57.3,258.8Q59.1,257.0 61.5,258.0L61.5,258.0Q64.0,258.9 65.8,257.0L65.8,257.0Q67.6,255.0 71.3,254.2L71.3,254.2Q74.9,253.3 76.7,251.8L76.7,251.8Q78.5,250.2 82.2,249.7L82.2,249.7Q85.8,249.2 90.1,248.3L90.1,248.3Q94.3,247.3 96.7,248.7L96.7,248.7Q99.2,250.2 103.4,252.4L103.4,252.4Q107.7,254.6 110.7,251.5L110.7,251.5Q113.7,248.5 116.8,246.7L116.8,246.7Q119.8,244.9 123.4,244.9L123.4,244.9Q127.1,244.9 130.7,245.5L130.7,245.5Q134.3,246.1 137.4,246.7L137.4,246.7Q140.4,247.3 141.0,245.8L141.6,244.4 M263.0,244.4L264.8,244.9Q266.6,245.3 268.4,244.5L270.2,243.6 M277.5,247.3L278.7,249.1Q279.9,250.9 283.6,250.3L283.6,250.3Q287.2,249.7 292.1,250.3L292.1,250.3Q296.9,250.9 300.6,249.7L300.6,249.7Q304.2,248.5 307.8,247.9L307.8,247.9Q311.5,247.3 314.5,248.5L314.5,248.5Q317.6,249.7 318.8,247.3L320.0,244.9 M387.9,381.2L392.2,375.4Q396.4,369.8 400.5,364.2L402.0,362.1Q406.1,356.5 411.6,352.1L412.8,351.1Q418.3,346.8 423.0,341.6L425.7,338.6Q430.4,333.4 434.0,330.4L434.0,330.4Q437.7,327.4 441.9,325.5L441.9,325.5Q446.2,323.7 447.4,318.9L447.4,318.9Q448.6,314.0 451.6,312.8L451.6,312.8Q454.7,311.6 457.3,310.4L460.0,309.2 M251.3,685.3L254.7,684.7Q258.1,684.1 259.9,680.4L259.9,680.4Q261.7,676.8 264.2,675.0L264.2,675.0Q266.6,673.1 269.6,675.0L269.6,675.0Q272.7,676.8 275.1,676.2L275.1,676.2Q277.5,675.6 279.9,670.1L279.9,670.1Q282.4,664.7 284.8,659.2L284.8,659.2Q287.2,653.7 292.1,650.7L292.1,650.7Q296.9,647.7 300.6,645.2L300.6,645.2Q304.2,642.8 305.4,638.0L305.4,638.0Q306.6,633.1 307.2,629.5L307.2,629.5Q307.8,625.8 310.3,624.0L310.3,624.0Q312.7,622.2 318.2,621.0L318.2,621.0Q323.6,619.8 328.5,618.5L328.5,618.5Q333.3,617.3 336.4,614.3L336.4,614.3Q339.4,611.3 339.4,607.6L339.4,607.6Q339.4,604.0 338.2,601.0L338.2,601.0Q337.0,597.9 340.0,595.5L340.0,595.5Q343.0,593.1 344.2,588.8L344.2,588.8Q345.5,584.6 348.5,583.4L348.5,583.4Q351.5,582.1 356.4,582.1L356.4,582.1Q361.2,582.1 363.7,579.7L363.7,579.7Q366.1,577.3 369.1,573.7L369.1,573.7Q372.1,570.0 372.8,566.4L372.8,566.4Q373.4,562.7 375.8,559.7L375.8,559.7Q378.2,556.7 381.9,555.5L381.9,555.5Q385.5,554.2 389.7,556.1L389.7,556.1Q394.0,557.9 397.6,559.7L397.6,559.7Q401.3,561.5 403.7,564.6L403.7,564.6Q406.1,567.6 409.8,567.0L409.8,567.0Q413.4,566.4 417.0,564.0L417.0,564.0Q420.7,561.5 424.3,559.7L424.3,559.7Q428.0,557.9 429.8,553.0L429.8,553.0Q431.6,548.2 434.6,545.1L434.6,545.1Q437.7,542.1 442.5,541.5L442.5,541.5Q447.4,540.9 452.2,541.5L452.2,541.5Q457.1,542.1 458.5,541.5L460.0,540.9 M34.4,690.1L38.3,692.6Q42.1,695.0 47.0,696.8L47.0,696.8Q51.8,698.6 56.7,699.2L56.7,699.2Q61.5,699.8 65.2,698.6L65.2,698.6Q68.8,697.4 70.0,695.0L70.0,695.0Q71.3,692.6 74.9,693.8L74.9,693.8Q78.5,695.0 82.2,694.4L82.2,694.4Q85.8,693.8 90.1,695.6L90.1,695.6Q94.3,697.4 98.6,698.6L98.6,698.6Q102.8,699.8 107.7,699.8L107.7,699.8Q112.5,699.8 117.4,700.9L122.2,702.0 M148.9,699.8L152.5,698.0Q156.2,696.2 160.4,695.0L160.4,695.0Q164.7,693.8 166.5,690.7L166.5,690.7Q168.3,687.7 170.7,689.5L170.7,689.5Q173.2,691.3 175.6,693.2L175.6,693.2Q178.0,695.0 181.7,693.8L181.7,693.8Q185.3,692.6 186.5,688.9L186.5,688.9Q187.7,685.3 189.5,688.3L189.5,688.3Q191.4,691.3 194.4,693.8L194.4,693.8Q197.4,696.2 201.1,693.2L201.1,693.2Q204.7,690.1 207.7,689.5L207.7,689.5Q210.8,688.9 213.8,690.1L213.8,690.1Q216.8,691.3 220.5,692.0L220.5,692.0Q224.1,692.6 227.8,692.6L227.8,692.6Q231.4,692.6 235.7,690.1L235.7,690.1Q239.9,687.7 242.9,686.5L242.9,686.5Q246.0,685.3 248.6,685.3L251.3,685.3 M648.1,326.1L650.5,326.1Q652.9,326.1 655.3,328.0L655.3,328.0Q657.8,329.8 659.6,333.4L659.6,333.4Q661.4,337.1 663.8,341.3L663.8,341.3Q666.3,345.6 665.7,349.2L665.7,349.2Q665.0,352.8 663.8,355.9L663.8,355.9Q662.6,358.9 662.6,362.5L662.6,362.5Q662.6,366.2 663.8,371.6L663.8,371.6Q665.0,377.1 666.3,381.3L666.3,381.3Q667.5,385.6 667.8,389.8L667.8,389.8Q668.2,394.1 667.0,397.1L667.0,397.1Q665.8,400.2 664.6,403.8L664.6,403.8Q663.3,407.4 660.6,408.6L660.6,408.6Q657.8,409.9 655.9,413.5L655.9,413.5Q654.1,417.1 653.5,421.4L653.5,421.4Q652.9,425.6 650.5,426.2L650.5,426.2Q648.1,426.8 648.7,430.5L648.7,430.5Q649.3,434.1 649.9,437.8L649.9,437.8Q650.5,441.4 651.1,444.4L651.1,444.4Q651.7,447.5 653.5,450.5L653.5,450.5Q655.3,453.5 655.7,456.6L655.7,456.6Q656.1,459.6 655.1,463.9L655.1,463.9Q654.1,468.1 656.6,469.9L656.6,469.9Q659.0,471.7 661.4,473.6L661.4,473.6Q663.8,475.4 664.4,479.6L664.4,479.6Q665.0,483.9 665.7,488.1L665.7,488.1Q666.3,492.4 664.4,494.8L664.4,494.8Q662.6,497.2 662.0,500.3L662.0,500.3Q661.4,503.3 662.0,506.3L662.0,506.3Q662.6,509.4 660.2,511.8L660.2,511.8Q657.8,514.2 655.9,516.0L655.9,516.0Q654.1,517.8 655.9,520.3L655.9,520.3Q657.8,522.7 656.2,525.7L656.2,525.7Q654.6,528.8 656.2,531.8L656.2,531.8Q657.8,534.8 660.2,536.0L660.2,536.0Q662.6,537.3 661.4,540.9L661.4,540.9Q660.2,544.5 661.4,548.2L661.4,548.2Q662.6,551.8 664.4,554.9L664.4,554.9Q666.3,557.9 669.9,558.5L669.9,558.5Q673.5,559.1 675.4,561.5L675.4,561.5Q677.2,564.0 676.6,566.4L676.6,566.4Q676.0,568.8 679.0,570.6L679.0,570.6Q682.0,572.4 681.4,575.5L681.4,575.5Q680.8,578.5 679.6,581.5L679.6,581.5Q678.4,584.6 679.0,588.2L679.0,588.2Q679.6,591.9 682.0,592.5L682.0,592.5Q684.5,593.1 685.7,588.8L685.7,588.8Q686.9,584.6 688.7,587.0L688.7,587.0Q690.5,589.4 693.0,591.2L693.0,591.2Q695.4,593.1 697.2,597.3L697.2,597.3Q699.0,601.6 699.6,605.2L699.6,605.2Q700.2,608.8 701.4,610.7L701.4,610.7Q702.7,612.5 702.1,615.5L702.1,615.5Q701.4,618.5 703.3,621.0L703.3,621.0Q705.1,623.4 708.7,624.0L708.7,624.0Q712.4,624.6 716.6,625.2L716.6,625.2Q720.9,625.8 723.9,625.8L723.9,625.8Q726.9,625.8 729.4,628.9L729.4,628.9Q731.8,631.9 733.6,635.5L733.6,635.5Q735.4,639.2 737.2,638.0L737.2,638.0Q739.1,636.7 740.3,639.8L740.3,639.8Q741.5,642.8 744.5,645.2L744.5,645.2Q747.6,647.7 751.2,648.9L751.2,648.9Q754.8,650.1 758.5,651.3L758.5,651.3Q762.1,652.5 764.5,653.1L764.5,653.1Q767.0,653.7 767.6,658.0L767.6,658.0Q768.2,662.2 766.7,665.9L766.7,665.9Q765.3,669.5 767.3,671.9L767.3,671.9Q769.4,674.4 772.4,677.4L772.4,677.4Q775.5,680.4 779.7,681.0L779.7,681.0Q784.0,681.6 786.4,681.6L786.4,681.6Q788.8,681.6 790.0,684.1L790.0,684.1Q791.2,686.5 794.3,684.7L794.3,684.7Q797.3,682.9 799.7,683.5L799.7,683.5Q802.1,684.1 804.6,685.3L804.6,685.3Q807.0,686.5 810.6,685.9L810.6,685.9Q814.3,685.3 817.9,687.1L817.9,687.1Q821.6,688.9 824.6,688.3L824.6,688.3Q827.6,687.7 830.7,689.5L830.7,689.5Q833.7,691.3 837.3,686.5L837.3,686.5Q841.0,681.6 845.2,680.7L845.2,680.7Q849.5,679.7 853.7,680.1L853.7,680.1Q858.0,680.4 862.8,681.3L862.8,681.3Q867.7,682.1 871.3,684.1L871.3,684.1Q874.9,686.0 878.6,688.1L878.6,688.1Q882.2,690.1 886.1,690.7L890.0,691.3 M645.6,323.7L648.7,320.7Q651.7,317.7 654.7,314.6L654.7,314.6Q657.8,311.6 660.8,309.2L660.8,309.2Q663.8,306.7 667.5,307.3L667.5,307.3Q671.1,307.9 674.8,310.4L674.8,310.4Q678.4,312.8 682.0,314.0L682.0,314.0Q685.7,315.2 689.3,314.6L689.3,314.6Q693.0,314.0 696.6,313.4L696.6,313.4Q700.2,312.8 705.1,314.3L705.1,314.3Q709.9,315.7 713.0,313.6L713.0,313.6Q716.0,311.6 719.6,309.8L719.6,309.8Q723.3,307.9 724.9,304.3L724.9,304.3Q726.4,300.7 724.9,296.4L724.9,296.4Q723.3,292.2 724.5,289.1L724.5,289.1Q725.7,286.1 730.0,286.1L730.0,286.1Q734.2,286.1 736.6,283.1L736.6,283.1Q739.1,280.0 742.7,277.0L742.7,277.0Q746.3,274.0 748.8,271.5L748.8,271.5Q751.2,269.1 752.4,266.1L752.4,266.1Q753.6,263.1 757.9,261.0L757.9,261.0Q762.1,258.9 765.1,260.6L765.1,260.6Q768.2,262.3 771.8,263.3L771.8,263.3Q775.5,264.3 779.1,263.1L779.1,263.1Q782.7,261.8 785.2,257.6L785.2,257.6Q787.6,253.3 790.0,248.9L792.4,244.4 M460.0,310.4L464.9,307.9Q469.7,305.5 474.6,303.1L474.6,303.1Q479.4,300.7 483.7,297.6L483.7,297.6Q487.9,294.6 490.3,292.8L490.3,292.8Q492.8,291.0 495.8,289.1L495.8,289.1Q498.8,287.3 501.9,283.7L501.9,283.7Q504.9,280.0 507.9,278.2L507.9,278.2Q511.0,276.4 512.8,272.8L512.8,272.8Q514.6,269.1 515.8,264.9L515.8,264.9Q517.0,260.6 518.8,257.0L518.8,257.0Q520.7,253.3 523.7,251.5L523.7,251.5Q526.7,249.7 528.6,247.0L530.4,244.4 M652.9,418.4L649.9,419.0Q646.8,419.6 643.8,423.2L643.8,423.2Q640.8,426.8 635.3,429.9L635.3,429.9Q629.9,432.9 625.0,436.6L625.0,436.6Q620.2,440.2 615.3,439.6L615.3,439.6Q610.4,439.0 610.7,443.8L610.7,443.8Q610.9,448.7 609.5,452.3L609.5,452.3Q608.0,456.0 604.4,456.6L604.4,456.6Q600.7,457.2 596.5,455.4L596.5,455.4Q592.2,453.5 589.8,456.0L589.8,456.0Q587.4,458.4 590.4,461.4L590.4,461.4Q593.5,464.5 593.5,467.5L593.5,467.5Q593.5,470.5 589.8,469.9L589.8,469.9Q586.2,469.3 582.5,468.7L582.5,468.7Q578.9,468.1 575.9,470.5L575.9,470.5Q572.8,473.0 569.8,474.2L569.8,474.2Q566.8,475.4 570.4,477.2L570.4,477.2Q574.0,479.0 572.8,483.3L572.8,483.3Q571.6,487.5 569.2,489.3L566.8,491.2 M566.8,491.2L565.0,488.1Q563.1,485.1 560.1,484.5L560.1,484.5Q557.1,483.9 558.9,486.9L558.9,486.9Q560.7,489.9 559.5,492.4L559.5,492.4Q558.3,494.8 554.0,496.0L554.0,496.0Q549.8,497.2 546.8,499.0L546.8,499.0Q543.7,500.9 541.9,495.4L541.9,495.4Q540.1,489.9 538.9,492.4L538.9,492.4Q537.7,494.8 535.8,499.0L535.8,499.0Q534.0,503.3 531.0,505.7L531.0,505.7Q527.9,508.1 524.3,506.9L524.3,506.9Q520.7,505.7 517.6,508.7L517.6,508.7Q514.6,511.8 511.6,514.2L511.6,514.2Q508.5,516.6 504.9,516.0L504.9,516.0Q501.3,515.4 497.6,518.5L497.6,518.5Q494.0,521.5 491.5,523.9L491.5,523.9Q489.1,526.3 486.1,522.7L486.1,522.7Q483.1,519.1 481.2,520.9L481.2,520.9Q479.4,522.7 480.6,526.3L480.6,526.3Q481.8,530.0 478.2,531.8L478.2,531.8Q474.6,533.6 470.9,532.4L470.9,532.4Q467.3,531.2 464.9,531.2L464.9,531.2Q462.4,531.2 461.8,535.4L461.8,535.4Q461.2,539.7 460.6,540.3L460.0,540.9 M565.6,492.4L564.3,496.6Q563.1,500.9 561.9,503.9L561.9,503.9Q560.7,506.9 557.1,507.5L557.1,507.5Q553.4,508.1 554.0,512.4L554.0,512.4Q554.6,516.6 552.2,520.3L552.2,520.3Q549.8,523.9 548.6,526.9L548.6,526.9Q547.4,530.0 549.2,533.0L549.2,533.0Q551.0,536.0 547.4,536.7L547.4,536.7Q543.7,537.3 542.5,540.3L542.5,540.3Q541.3,543.3 535.8,544.5L535.8,544.5Q530.4,545.8 525.5,548.4L525.5,548.4Q520.7,551.1 514.6,550.8L514.6,550.8Q508.5,550.6 503.1,551.0L503.1,551.0Q497.6,551.3 496.8,557.0L496.8,557.0Q495.9,562.7 493.7,565.8L493.7,565.8Q491.5,568.8 492.2,573.7L492.2,573.7Q492.8,578.5 488.5,580.3L488.5,580.3Q484.3,582.1 480.6,584.6L480.6,584.6Q477.0,587.0 473.3,588.2L473.3,588.2Q469.7,589.4 470.9,593.1L470.9,593.1Q472.1,596.7 468.5,599.7L468.5,599.7Q464.9,602.8 462.4,603.4L460.0,604.0 M460.0,604.0L461.8,606.4Q463.6,608.8 466.1,612.5L466.1,612.5Q468.5,616.1 470.3,622.2L470.3,622.2Q472.1,628.3 472.1,634.3L472.1,634.3Q472.1,640.4 470.9,646.5L470.9,646.5Q469.7,652.5 470.3,657.4L470.3,657.4Q470.9,662.2 469.1,668.3L469.1,668.3Q467.3,674.4 466.7,679.2L466.7,679.2Q466.1,684.1 466.7,688.9L466.7,688.9Q467.3,693.8 466.1,697.9L464.9,702.0 M700.2,612.5L697.2,612.5Q694.2,612.5 691.1,615.5L691.1,615.5Q688.1,618.5 685.7,621.6L685.7,621.6Q683.2,624.6 684.5,627.0L684.5,627.0Q685.7,629.5 688.1,628.9L688.1,628.9Q690.5,628.3 689.9,632.5L689.9,632.5Q689.3,636.7 686.3,637.4L686.3,637.4Q683.2,638.0 681.4,641.0L681.4,641.0Q679.6,644.0 682.0,647.1L682.0,647.1Q684.5,650.1 685.7,653.7L685.7,653.7Q686.9,657.4 684.5,659.8L684.5,659.8Q682.0,662.2 682.6,664.7L682.6,664.7Q683.2,667.1 682.0,670.7L682.0,670.7Q680.8,674.4 683.2,679.2L683.2,679.2Q685.7,684.1 688.7,688.9L688.7,688.9Q691.7,693.8 694.2,697.9L696.6,702.0 M779.8,682.9L779.5,687.1Q779.1,691.3 779.7,696.7L780.3,702.0 M786.4,687.7L791.8,688.9Q797.3,690.1 802.1,692.0L802.1,692.0Q807.0,693.8 811.9,697.9L816.7,702.0 M1114.5,244.4L1113.2,248.9Q1112.0,253.3 1110.8,258.2L1110.8,258.2Q1109.6,263.1 1107.2,266.1L1107.2,266.1Q1104.8,269.1 1104.4,274.6L1104.4,274.6Q1104.0,280.0 1102.6,282.5L1102.6,282.5Q1101.1,284.9 1102.3,288.5L1102.3,288.5Q1103.5,292.2 1102.9,295.2L1102.9,295.2Q1102.3,298.2 1099.9,300.4L1099.9,300.4Q1097.5,302.6 1093.8,304.7L1093.8,304.7Q1090.2,306.7 1089.0,310.4L1089.0,310.4Q1087.8,314.0 1087.2,317.0L1087.2,317.0Q1086.6,320.1 1084.7,323.1L1084.7,323.1Q1082.9,326.1 1081.7,329.8L1081.7,329.8Q1080.5,333.4 1078.7,335.9L1078.7,335.9Q1076.8,338.3 1075.4,340.1L1075.4,340.1Q1073.9,341.9 1073.9,348.9L1073.9,351.9Q1073.9,358.9 1073.0,362.5L1073.0,362.5Q1072.0,366.2 1070.2,369.6L1070.2,369.6Q1068.4,373.0 1069.6,375.6L1069.6,375.6Q1070.8,378.3 1073.2,380.1L1073.2,380.1Q1075.6,382.0 1076.8,386.8L1076.8,386.8Q1078.1,391.7 1079.9,393.5L1079.9,393.5Q1081.7,395.3 1084.1,397.1L1084.1,397.1Q1086.6,398.9 1087.8,403.2L1087.8,403.2Q1089.0,407.4 1091.4,409.9L1091.4,409.9Q1093.8,412.3 1094.8,415.9L1094.8,415.9Q1095.8,419.6 1095.4,422.6L1095.4,422.6Q1095.0,425.6 1095.7,428.7L1095.7,428.7Q1096.3,431.7 1095.7,435.9L1095.7,435.9Q1095.0,440.2 1092.6,444.4L1092.6,444.4Q1090.2,448.7 1087.8,452.3L1087.8,452.3Q1085.3,456.0 1082.9,457.8L1082.9,457.8Q1080.5,459.6 1080.5,465.7L1080.5,465.7Q1080.5,471.7 1078.7,474.8L1078.7,474.8Q1076.8,477.8 1075.6,481.4L1075.6,481.4Q1074.4,485.1 1074.7,491.2L1074.7,491.2Q1074.9,497.2 1075.3,502.7L1075.3,502.7Q1075.6,508.1 1076.8,510.6L1076.8,510.6Q1078.1,513.0 1077.5,517.2L1077.5,517.2Q1076.8,521.5 1078.1,525.7L1078.1,525.7Q1079.3,530.0 1081.7,533.6L1081.7,533.6Q1084.1,537.3 1087.2,540.5L1087.2,540.5Q1090.2,543.8 1094.4,544.8L1094.4,544.8Q1098.7,545.8 1101.1,546.0L1101.1,546.0Q1103.5,546.2 1106.6,545.8L1106.6,545.8Q1109.6,545.3 1110.8,547.3L1110.8,547.3Q1112.0,549.4 1115.1,551.0L1115.1,551.0Q1118.1,552.5 1122.3,551.8L1122.3,551.8Q1126.6,551.1 1129.0,552.1L1129.0,552.1Q1131.4,553.0 1135.7,553.0L1135.7,553.0Q1139.9,553.0 1142.4,555.5L1142.4,555.5Q1144.8,557.9 1147.8,561.5L1147.8,561.5Q1150.9,565.2 1153.9,566.6L1153.9,566.6Q1156.9,568.1 1160.6,570.3L1160.6,570.3Q1164.2,572.4 1166.0,575.8L1166.0,575.8Q1167.8,579.2 1171.5,579.5L1171.5,579.5Q1175.1,579.7 1178.8,581.9L1178.8,581.9Q1182.4,584.1 1186.0,587.4L1186.0,587.4Q1189.7,590.6 1193.9,591.0L1193.9,591.0Q1198.2,591.4 1200.6,593.4L1200.6,593.4Q1203.0,595.5 1204.2,597.9L1204.2,597.9Q1205.5,600.3 1205.2,607.3L1205.2,609.1Q1205.0,616.1 1205.8,617.9L1205.8,617.9Q1206.7,619.8 1209.7,622.2L1209.7,622.2Q1212.7,624.6 1213.7,629.5L1213.7,629.5Q1214.7,634.3 1216.7,636.7L1216.7,636.7Q1218.8,639.2 1221.8,641.2L1221.8,641.2Q1224.9,643.3 1227.3,647.3L1227.3,647.3Q1229.7,651.3 1231.5,655.3L1231.5,655.3Q1233.4,659.3 1236.4,662.6L1236.4,662.6Q1239.4,665.9 1243.1,670.7L1243.1,670.7Q1246.7,675.6 1249.1,681.0L1249.1,681.0Q1251.6,686.5 1254.6,691.3L1254.6,691.3Q1257.6,696.2 1260.7,699.1L1263.7,702.0 M1233.4,244.4L1236.4,245.2Q1239.4,246.1 1241.2,250.6L1241.2,250.6Q1243.1,255.0 1241.2,257.8L1241.2,257.8Q1239.4,260.6 1237.6,262.4L1237.6,262.4Q1235.8,264.3 1237.6,267.9L1237.6,267.9Q1239.4,271.5 1241.2,275.2L1241.2,275.2Q1243.1,278.8 1244.3,281.9L1244.3,281.9Q1245.5,284.9 1247.3,287.3L1247.3,287.3Q1249.1,289.7 1250.3,293.4L1251.6,297.0 M1483.1,244.4L1482.2,247.0Q1481.4,249.7 1480.2,252.7L1480.2,252.7Q1478.9,255.8 1479.5,261.2L1479.5,261.2Q1480.2,266.7 1480.8,272.2L1480.8,272.2Q1481.4,277.6 1483.2,281.3L1483.2,281.3Q1485.0,284.9 1488.6,287.9L1488.6,287.9Q1492.3,291.0 1496.5,293.6L1496.5,293.6Q1500.8,296.3 1505.0,298.5L1505.0,298.5Q1509.3,300.7 1513.5,301.3L1513.5,301.3Q1517.8,301.9 1520.8,302.2L1520.8,302.2Q1523.8,302.6 1525.7,305.3L1525.7,305.3Q1527.5,307.9 1527.8,312.8L1527.8,312.8Q1528.2,317.7 1528.2,322.5L1528.2,322.5Q1528.2,327.4 1529.4,330.4L1529.4,330.4Q1530.6,333.4 1532.1,336.5L1532.1,336.5Q1533.5,339.5 1533.8,345.6L1533.8,345.6Q1534.0,351.6 1532.8,357.7L1532.8,357.7Q1531.6,363.8 1530.1,369.8L1530.1,369.8Q1528.7,375.9 1526.3,380.7L1526.3,380.7Q1523.8,385.6 1521.4,390.4L1521.4,390.4Q1519.0,395.3 1518.0,400.2L1518.0,400.2Q1517.0,405.0 1517.0,411.7L1517.0,411.7Q1517.0,418.4 1514.4,422.0L1514.4,422.0Q1511.7,425.6 1508.1,429.3L1508.1,429.3Q1504.4,432.9 1500.2,434.1L1500.2,434.1Q1495.9,435.3 1492.7,437.2L1492.7,437.2Q1489.4,439.0 1489.6,445.0L1489.6,445.0Q1489.9,451.1 1489.3,456.6L1489.3,456.6Q1488.6,462.0 1487.4,466.9L1487.4,466.9Q1486.2,471.7 1485.6,475.4L1485.6,475.4Q1485.0,479.0 1482.6,483.3L1482.6,483.3Q1480.2,487.5 1478.9,490.9L1477.7,494.3 M1477.7,494.3L1475.9,498.2Q1474.1,502.1 1474.7,505.1L1474.7,505.1Q1475.3,508.1 1476.8,510.6L1476.8,510.6Q1478.2,513.0 1478.6,517.8L1478.6,517.8Q1478.9,522.7 1477.1,525.7L1477.1,525.7Q1475.3,528.8 1475.3,532.4L1475.3,532.4Q1475.3,536.0 1477.7,537.0L1477.7,537.0Q1480.2,538.0 1482.0,539.4L1482.0,539.4Q1483.8,540.9 1482.2,543.3L1482.2,543.3Q1480.6,545.8 1480.6,550.6L1480.6,550.6Q1480.6,555.5 1481.4,559.7L1481.4,559.7Q1482.1,564.0 1480.9,566.4L1480.9,566.4Q1479.7,568.8 1477.5,570.9L1477.5,570.9Q1475.3,572.9 1473.5,576.3L1473.5,576.3Q1471.7,579.7 1470.8,583.4L1470.8,583.4Q1470.0,587.0 1470.8,590.0L1470.8,590.0Q1471.7,593.1 1472.9,596.1L1472.9,596.1Q1474.1,599.1 1473.5,603.4L1473.5,603.4Q1472.9,607.6 1471.7,611.9L1471.7,611.9Q1470.4,616.1 1469.5,619.8L1469.5,619.8Q1468.5,623.4 1466.4,625.8L1466.4,625.8Q1464.4,628.3 1463.2,631.3L1463.2,631.3Q1462.0,634.3 1458.9,636.7L1458.9,636.7Q1455.9,639.2 1454.1,643.4L1454.1,643.4Q1452.2,647.7 1450.4,650.7L1450.4,650.7Q1448.6,653.7 1449.6,658.0L1449.6,658.0Q1450.6,662.2 1450.8,668.3L1450.8,668.3Q1451.0,674.4 1449.2,678.0L1449.2,678.0Q1447.4,681.6 1446.2,686.5L1446.2,686.5Q1445.0,691.3 1445.0,696.7L1445.0,702.0 M1477.7,494.3L1480.2,497.6Q1482.6,500.9 1485.0,501.5L1485.0,501.5Q1487.4,502.1 1489.3,505.1L1489.3,505.1Q1491.1,508.1 1491.1,511.8L1491.1,511.8Q1491.1,515.4 1490.5,519.1L1490.5,519.1Q1489.9,522.7 1492.3,524.5L1492.3,524.5Q1494.7,526.3 1497.7,530.6L1497.7,530.6Q1500.8,534.8 1503.8,534.5L1503.8,534.5Q1506.8,534.1 1508.7,534.5L1508.7,534.5Q1510.5,534.8 1511.1,539.1L1511.1,539.1Q1511.7,543.3 1511.1,548.2L1511.1,548.2Q1510.5,553.0 1509.6,557.3L1509.6,557.3Q1508.8,561.5 1511.5,566.0L1511.5,566.0Q1514.1,570.5 1517.2,571.7L1517.2,571.7Q1520.2,572.9 1522.0,578.1L1522.0,578.1Q1523.8,583.4 1526.5,587.6L1526.5,587.6Q1529.2,591.9 1532.0,593.3L1532.0,593.3Q1534.8,594.8 1537.8,598.8L1537.8,598.8Q1540.8,602.8 1543.2,606.4L1543.2,606.4Q1545.7,610.1 1548.1,611.9L1548.1,611.9Q1550.5,613.7 1552.0,617.9L1552.0,617.9Q1553.4,622.2 1553.4,629.2L1553.4,629.7Q1553.4,636.7 1556.8,637.4L1556.8,637.4Q1560.2,638.0 1562.7,638.6L1562.7,638.6Q1565.1,639.2 1568.7,641.2L1568.7,641.2Q1572.4,643.3 1576.6,644.5L1576.6,644.5Q1580.9,645.7 1582.7,647.9L1582.7,647.9Q1584.5,650.1 1585.7,654.3L1585.7,654.3Q1586.9,658.6 1590.6,660.4L1590.6,660.4Q1594.2,662.2 1597.8,664.0L1597.8,664.0Q1601.5,665.9 1604.5,666.5L1604.5,666.5Q1607.6,667.1 1611.2,670.1L1611.2,670.1Q1614.8,673.1 1616.0,679.8L1616.0,679.8Q1617.3,686.5 1619.3,693.2L1622.1,702.0 M1664.6,244.4L1667.6,247.0Q1670.6,249.7 1671.9,254.0L1671.9,254.0Q1673.1,258.2 1673.7,263.1L1673.7,263.1Q1674.3,267.9 1679.1,268.5L1679.1,268.5Q1684.0,269.1 1689.4,269.4L1689.4,269.4Q1694.9,269.6 1697.9,271.8L1697.9,271.8Q1701.0,274.0 1702.8,278.2L1702.8,278.2Q1704.6,282.5 1706.4,286.7L1706.4,286.7Q1708.3,291.0 1712.5,289.5L1712.5,289.5Q1716.7,288.0 1721.0,289.3L1721.0,289.3Q1725.2,290.5 1728.9,292.2L1728.9,292.2Q1732.5,293.9 1735.6,296.1L1738.6,298.2 M112.5,702.0L116.8,706.2Q121.0,710.5 126.5,710.9L126.5,710.9Q131.9,711.2 136.8,710.3L136.8,710.3Q141.6,709.3 145.3,705.6L148.9,702.0 M460.0,721.4L458.5,727.5Q457.1,733.5 455.4,740.3L455.1,741.3Q453.4,748.1 450.4,750.5L450.4,750.5Q447.4,753.0 444.9,753.6L444.9,753.6Q442.5,754.2 440.1,758.4L440.1,758.4Q437.7,762.7 435.8,765.1L435.8,765.1Q434.0,767.5 432.2,770.6L432.2,770.6Q430.4,773.6 425.5,778.4L425.5,778.4Q420.7,783.3 417.6,786.9L417.6,786.9Q414.6,790.6 412.6,794.8L412.6,794.8Q410.5,799.1 410.7,803.9L410.7,803.9Q411.0,808.8 411.9,812.4L411.9,812.4Q412.9,816.0 413.8,819.1L413.8,819.1Q414.6,822.1 412.8,825.1L412.8,825.1Q411.0,828.2 408.5,831.8L408.5,831.8Q406.1,835.5 403.1,839.1L403.1,839.1Q400.1,842.7 398.8,846.4L398.8,846.4Q397.6,850.0 398.5,852.4L398.5,852.4Q399.3,854.9 397.3,858.5L397.3,858.5Q395.2,862.2 394.1,869.1L393.9,869.8Q392.8,876.7 393.4,881.6L393.4,881.6Q394.0,886.4 394.6,891.3L394.6,891.3Q395.2,896.1 395.8,902.8L395.8,902.8Q396.4,909.5 395.2,911.9L395.2,911.9Q394.0,914.3 391.3,915.5L391.3,915.5Q388.7,916.8 388.7,919.8L388.7,919.8Q388.7,922.8 390.1,926.5L390.1,926.5Q391.6,930.1 393.4,932.5L393.4,932.5Q395.2,935.0 397.0,938.6L397.0,938.6Q398.8,942.2 397.6,945.9L397.6,945.9Q396.4,949.5 394.0,954.4L394.0,954.4Q391.6,959.2 388.5,964.7L388.5,964.7Q385.5,970.1 383.1,975.6L383.1,975.6Q380.6,981.1 378.2,986.5L378.2,986.5Q375.8,992.0 374.0,995.6L374.0,995.6Q372.1,999.3 368.5,1002.3L368.5,1002.3Q364.9,1005.3 366.7,1008.4L366.7,1008.4Q368.5,1011.4 371.5,1013.8L371.5,1013.8Q374.6,1016.2 377.6,1019.9L377.6,1019.9Q380.6,1023.5 383.1,1024.7L383.1,1024.7Q385.5,1026.0 387.3,1028.4L387.3,1028.4Q389.1,1030.8 392.2,1033.8L392.2,1033.8Q395.2,1036.9 394.0,1040.5L394.0,1040.5Q392.8,1044.1 390.3,1047.2L390.3,1047.2Q387.9,1050.2 389.7,1053.2L389.7,1053.2Q391.6,1056.3 395.2,1060.5L395.2,1060.5Q398.8,1064.8 401.3,1067.2L401.3,1067.2Q403.7,1069.6 406.1,1070.2L406.1,1070.2Q408.5,1070.8 409.8,1073.3L409.8,1073.3Q411.0,1075.7 414.6,1075.9L414.6,1075.9Q418.3,1076.2 424.3,1079.6L424.3,1079.6Q430.4,1083.0 436.1,1087.0L436.8,1087.5Q442.5,1091.5 447.4,1095.1L447.4,1095.1Q452.2,1098.7 456.1,1100.6L460.0,1102.4 M696.6,702.0L697.0,706.9Q697.3,711.7 698.8,714.7L698.8,714.7Q700.2,717.8 701.2,720.8L701.2,720.8Q702.2,723.8 700.6,727.5L700.6,727.5Q699.0,731.1 698.4,734.2L698.4,734.2Q697.8,737.2 699.0,737.8L699.0,737.8Q700.2,738.4 699.6,740.8L699.6,740.8Q699.0,743.3 699.4,746.3L699.4,746.3Q699.7,749.3 697.0,750.5L697.0,750.5Q694.2,751.7 691.1,753.0L691.1,753.0Q688.1,754.2 689.3,757.2L689.3,757.2Q690.5,760.2 688.7,762.4L688.7,762.4Q686.9,764.6 682.6,764.6L682.6,764.6Q678.4,764.6 676.6,766.1L676.6,766.1Q674.8,767.5 676.0,769.3L676.0,769.3Q677.2,771.2 679.0,772.4L679.0,772.4Q680.8,773.6 679.0,776.0L679.0,776.0Q677.2,778.4 676.0,781.5L676.0,781.5Q674.8,784.5 674.8,788.8L674.8,788.8Q674.8,793.0 672.9,796.0L672.9,796.0Q671.1,799.1 671.7,801.5L671.7,801.5Q672.3,803.9 669.9,807.0L669.9,807.0Q667.5,810.0 665.9,812.0L665.9,812.0Q664.3,814.1 666.3,816.0L666.3,816.0Q668.2,818.0 666.6,820.7L666.6,820.7Q665.0,823.3 663.5,826.4L663.5,826.4Q661.9,829.4 662.9,832.2L662.9,832.2Q663.8,835.0 663.2,838.3L663.2,838.3Q662.6,841.5 664.4,844.0L664.4,844.0Q666.3,846.4 669.3,848.8L669.3,848.8Q672.3,851.2 675.4,852.8L675.4,852.8Q678.4,854.4 679.4,857.7L679.4,857.7Q680.3,860.9 680.6,864.0L680.6,864.0Q680.8,867.0 678.4,868.2L678.4,868.2Q676.0,869.4 679.6,870.0L679.6,870.0Q683.2,870.6 685.1,873.1L685.1,873.1Q686.9,875.5 689.3,879.7L689.3,879.7Q691.7,884.0 694.2,887.6L694.2,887.6Q696.6,891.3 698.7,893.7L698.7,893.7Q700.7,896.1 698.7,899.8L698.7,899.8Q696.6,903.4 698.4,907.0L698.4,907.0Q700.2,910.7 702.7,914.3L702.7,914.3Q705.1,918.0 706.9,921.6L706.9,921.6Q708.7,925.2 706.3,925.9L706.3,925.9Q703.9,926.5 705.1,930.1L705.1,930.1Q706.3,933.7 705.1,939.2L705.1,939.2Q703.9,944.7 702.7,948.9L702.7,948.9Q701.4,953.2 699.6,956.8L699.6,956.8Q697.8,960.4 696.6,963.5L696.6,963.5Q695.4,966.5 692.3,965.9L692.3,965.9Q689.3,965.3 690.5,968.3L690.5,968.3Q691.7,971.4 693.6,973.8L693.6,973.8Q695.4,976.2 696.0,979.8L696.0,979.8Q696.6,983.5 698.4,987.1L698.4,987.1Q700.2,990.8 701.4,993.2L701.4,993.2Q702.7,995.6 704.1,998.0L704.1,998.0Q705.6,1000.5 705.3,1003.5L705.3,1003.5Q705.1,1006.5 702.1,1008.6L702.1,1008.6Q699.0,1010.7 701.4,1012.2L701.4,1012.2Q703.9,1013.8 702.7,1015.6L702.7,1015.6Q701.4,1017.5 702.1,1021.1L702.1,1021.1Q702.7,1024.7 703.9,1027.8L703.9,1027.8Q705.1,1030.8 707.5,1033.8L707.5,1033.8Q709.9,1036.9 711.2,1040.5L711.2,1040.5Q712.4,1044.1 714.2,1046.6L714.2,1046.6Q716.0,1049.0 718.4,1050.8L718.4,1050.8Q720.9,1052.6 721.2,1055.7L721.2,1055.7Q721.6,1058.7 723.6,1062.3L723.6,1062.3Q725.7,1066.0 726.9,1070.2L726.9,1070.2Q728.1,1074.5 729.4,1079.9L729.4,1079.9Q730.6,1085.4 731.8,1089.0L731.8,1089.0Q733.0,1092.7 733.8,1097.5L733.8,1097.5Q734.7,1102.4 735.7,1106.0L735.7,1106.0Q736.6,1109.7 739.1,1112.1L739.1,1112.1Q741.5,1114.5 744.5,1115.5L744.5,1115.5Q747.6,1116.5 751.2,1117.3L751.2,1117.3Q754.8,1118.2 758.5,1120.6L758.5,1120.6Q762.1,1123.0 764.5,1124.2L764.5,1124.2Q767.0,1125.4 770.6,1126.0L770.6,1126.0Q774.2,1126.7 778.5,1129.7L778.5,1129.7Q782.7,1132.7 787.6,1135.1L787.6,1135.1Q792.4,1137.6 797.3,1139.6L797.3,1139.6Q802.1,1141.7 803.1,1145.1L803.1,1145.1Q804.1,1148.5 804.9,1150.7L804.9,1150.7Q805.8,1152.9 810.0,1154.1L810.0,1154.1Q814.3,1155.3 819.1,1157.4L819.1,1157.4Q824.0,1159.4 828.8,1161.2L828.8,1161.2Q833.7,1163.1 836.1,1163.5L838.5,1164.0 M741.5,1114.5L739.1,1118.2Q736.6,1121.8 739.1,1123.6L739.1,1123.6Q741.5,1125.4 741.5,1130.9L741.5,1130.9Q741.5,1136.4 742.1,1141.2L742.1,1141.2Q742.7,1146.1 743.3,1150.9L743.3,1150.9Q743.9,1155.8 743.3,1159.9L742.7,1164.0 M780.3,702.0L782.1,705.6Q784.0,709.3 784.0,714.1L784.0,714.1Q784.0,719.0 784.6,722.6L784.6,722.6Q785.2,726.3 784.6,728.7L784.6,728.7Q784.0,731.1 785.8,734.8L785.8,734.8Q787.6,738.4 788.2,742.0L788.2,742.0Q788.8,745.7 791.2,749.9L791.2,749.9Q793.7,754.2 795.5,757.2L795.5,757.2Q797.3,760.2 798.8,762.7L798.8,762.7Q800.2,765.1 800.6,768.7L800.6,768.7Q800.9,772.4 802.8,776.6L802.8,776.6Q804.6,780.9 805.8,783.9L805.8,783.9Q807.0,786.9 808.8,788.1L808.8,788.1Q810.6,789.4 812.5,793.6L812.5,793.6Q814.3,797.9 816.7,799.7L816.7,799.7Q819.1,801.5 822.8,803.3L822.8,803.3Q826.4,805.1 829.4,808.8L829.4,808.8Q832.5,812.4 833.1,816.7L833.1,816.7Q833.7,820.9 834.3,825.1L834.3,825.1Q834.9,829.4 836.5,834.2L836.5,834.2Q838.1,839.1 839.8,843.3L839.8,843.3Q841.5,847.6 840.2,851.2L840.2,851.2Q839.0,854.9 839.0,860.9L839.0,860.9Q839.0,867.0 840.0,873.9L840.5,877.1Q841.5,884.0 840.6,890.1L840.6,890.1Q839.8,896.1 839.4,902.2L839.4,902.2Q839.0,908.3 839.4,915.3L839.4,915.8Q839.8,922.8 841.3,928.3L841.3,928.3Q842.9,933.7 845.6,937.4L845.6,937.4Q848.3,941.0 850.9,947.5L851.6,949.1Q854.3,955.6 854.9,960.4L854.9,960.4Q855.5,965.3 855.8,970.1L855.8,970.1Q856.0,975.0 857.6,978.0L857.6,978.0Q859.2,981.1 860.4,987.1L860.4,987.1Q861.6,993.2 863.2,998.0L863.2,998.0Q864.8,1002.9 866.5,1006.5L866.5,1006.5Q868.2,1010.2 871.8,1011.4L871.8,1011.4Q875.4,1012.6 878.2,1014.4L878.2,1014.4Q881.0,1016.2 884.0,1017.5L884.0,1017.5Q887.1,1018.7 888.5,1022.9L890.0,1027.2 M813.1,702.0L814.9,705.0Q816.7,708.1 819.1,710.1L819.1,710.1Q821.6,712.2 825.8,713.2L825.8,713.2Q830.1,714.1 832.5,715.6L832.5,715.6Q834.9,717.0 837.9,718.6L837.9,718.6Q841.0,720.2 841.6,723.8L841.6,723.8Q842.2,727.5 844.0,731.1L844.0,731.1Q845.8,734.8 847.0,740.2L847.0,740.2Q848.3,745.7 849.5,749.9L849.5,749.9Q850.7,754.2 852.5,757.2L852.5,757.2Q854.3,760.2 856.1,763.3L856.1,763.3Q858.0,766.3 861.6,766.3L861.6,766.3Q865.2,766.3 868.9,765.5L868.9,765.5Q872.5,764.6 874.3,765.8L874.3,765.8Q876.2,767.0 878.0,770.3L878.0,770.3Q879.8,773.6 882.2,777.2L882.2,777.2Q884.7,780.9 885.9,783.9L885.9,783.9Q887.1,786.9 888.5,787.5L890.0,788.1 M464.9,702.0L464.2,706.9Q463.6,711.7 462.4,717.8L462.4,717.8Q461.2,723.8 460.6,728.7L460.0,733.5 M460.0,1101.2L461.8,1103.0Q463.6,1104.8 464.5,1108.5L464.5,1108.5Q465.3,1112.1 466.9,1113.9L466.9,1113.9Q468.5,1115.7 467.3,1118.8L467.3,1118.8Q466.1,1121.8 466.1,1126.7L466.1,1126.7Q466.1,1131.5 465.2,1135.8L465.2,1135.8Q464.4,1140.0 466.4,1143.6L466.4,1143.6Q468.5,1147.3 470.9,1150.3L470.9,1150.3Q473.3,1153.3 474.0,1156.4L474.0,1156.4Q474.6,1159.4 477.6,1161.7L480.6,1164.0 M890.0,691.3L892.4,697.3Q894.9,703.2 898.5,706.2L898.5,706.2Q902.1,709.3 905.2,710.7L905.2,710.7Q908.2,712.2 912.4,711.9L912.4,711.9Q916.7,711.7 919.7,709.5L919.7,709.5Q922.8,707.3 925.8,705.3L925.8,705.3Q928.8,703.2 931.9,703.2L931.9,703.2Q934.9,703.2 937.3,704.4L937.3,704.4Q939.7,705.6 940.6,710.5L940.6,710.5Q941.4,715.3 944.2,719.6L944.2,719.6Q947.0,723.8 948.2,726.9L948.2,726.9Q949.5,729.9 952.5,730.5L952.5,730.5Q955.5,731.1 957.9,734.8L957.9,734.8Q960.4,738.4 964.0,742.0L964.0,742.0Q967.7,745.7 968.9,746.9L968.9,746.9Q970.1,748.1 972.5,748.7L972.5,748.7Q974.9,749.3 980.4,747.5L980.4,747.5Q985.9,745.7 988.3,748.7L988.3,748.7Q990.7,751.7 993.7,753.8L993.7,753.8Q996.8,755.9 999.8,757.1L999.8,757.1Q1002.8,758.3 1007.1,758.3L1007.1,758.3Q1011.3,758.3 1015.0,761.7L1015.0,761.7Q1018.6,765.1 1023.5,766.3L1023.5,766.3Q1028.3,767.5 1032.0,766.9L1032.0,766.9Q1035.6,766.3 1039.8,765.5L1039.8,765.5Q1044.1,764.6 1047.7,765.8L1047.7,765.8Q1051.4,767.0 1053.8,767.9L1053.8,767.9Q1056.2,768.7 1056.2,774.2L1056.2,774.2Q1056.2,779.7 1059.3,783.3L1059.3,783.3Q1062.3,786.9 1065.9,790.8L1065.9,790.8Q1069.6,794.7 1073.2,797.5L1073.2,797.5Q1076.8,800.3 1081.1,803.9L1081.1,803.9Q1085.3,807.6 1086.6,811.2L1086.6,811.2Q1087.8,814.8 1089.0,816.9L1089.0,816.9Q1090.2,819.0 1095.7,818.1L1095.7,818.1Q1101.1,817.3 1105.4,816.0L1105.4,816.0Q1109.6,814.8 1113.9,814.5L1113.9,814.5Q1118.1,814.1 1121.1,816.3L1121.1,816.3Q1124.2,818.5 1128.4,819.1L1128.4,819.1Q1132.7,819.7 1136.9,818.5L1136.9,818.5Q1141.2,817.3 1146.0,815.2L1146.0,815.2Q1150.9,813.1 1156.3,814.6L1156.3,814.6Q1161.8,816.0 1167.8,815.4L1167.8,815.4Q1173.9,814.8 1175.7,813.0L1175.7,813.0Q1177.6,811.2 1181.8,810.0L1181.8,810.0Q1186.0,808.8 1186.7,813.0L1186.7,813.0Q1187.3,817.3 1191.5,818.1L1191.5,818.1Q1195.8,819.0 1200.0,819.7L1200.0,819.7Q1204.2,820.4 1207.9,822.5L1207.9,822.5Q1211.5,824.5 1214.6,826.1L1214.6,826.1Q1217.6,827.7 1222.4,831.6L1222.4,831.6Q1227.3,835.5 1232.1,838.9L1232.1,838.9Q1237.0,842.3 1240.6,844.7L1240.6,844.7Q1244.3,847.1 1251.0,848.8L1251.0,848.8Q1257.6,850.5 1258.8,856.3L1258.8,856.3Q1260.1,862.2 1262.5,865.8L1262.5,865.8Q1264.9,869.4 1266.1,872.1L1266.1,872.1Q1267.3,874.8 1266.1,880.0L1266.1,880.0Q1264.9,885.2 1260.7,887.6L1260.7,887.6Q1256.4,890.1 1256.4,894.3L1256.4,894.3Q1256.4,898.6 1257.6,902.2L1257.6,902.2Q1258.8,905.8 1258.8,910.1L1258.8,910.1Q1258.8,914.3 1262.5,917.4L1262.5,917.4Q1266.1,920.4 1267.3,925.2L1267.3,925.2Q1268.5,930.1 1270.4,934.3L1270.4,934.3Q1272.2,938.6 1272.8,942.2L1272.8,942.2Q1273.4,945.9 1271.0,946.5L1271.0,946.5Q1268.5,947.1 1270.4,949.5L1272.2,951.9 M890.0,788.1L893.0,791.2Q896.1,794.2 898.5,796.6L898.5,796.6Q900.9,799.1 903.3,800.3L903.3,800.3Q905.8,801.5 907.0,804.5L907.0,804.5Q908.2,807.6 911.2,810.0L911.2,810.0Q914.3,812.4 919.1,816.4L919.1,816.4Q924.0,820.4 927.6,821.9L927.6,821.9Q931.3,823.3 936.1,827.0L936.1,827.0Q941.0,830.6 944.0,834.2L944.0,834.2Q947.0,837.9 948.8,842.7L948.8,842.7Q950.7,847.6 952.5,850.6L952.5,850.6Q954.3,853.7 958.6,856.7L958.6,856.7Q962.8,859.7 966.4,862.8L966.4,862.8Q970.1,865.8 971.9,871.9L971.9,871.9Q973.7,877.9 976.1,880.4L976.1,880.4Q978.6,882.8 981.0,886.4L981.0,886.4Q983.4,890.1 986.5,891.6L986.5,891.6Q989.5,893.2 992.5,890.4L992.5,890.4Q995.6,887.6 998.6,886.4L998.6,886.4Q1001.6,885.2 1005.0,887.6L1005.0,887.6Q1008.4,890.1 1009.9,894.9L1009.9,894.9Q1011.3,899.8 1012.5,904.0L1012.5,904.0Q1013.8,908.3 1016.8,910.7L1016.8,910.7Q1019.8,913.1 1022.9,916.8L1022.9,916.8Q1025.9,920.4 1027.7,924.0L1027.7,924.0Q1029.5,927.7 1030.7,931.9L1030.7,931.9Q1032.0,936.2 1036.2,939.0L1036.2,939.0Q1040.4,941.7 1043.8,944.4L1043.8,944.4Q1047.2,947.1 1048.1,950.7L1048.1,950.7Q1048.9,954.4 1049.3,960.4L1049.3,960.4Q1049.7,966.5 1050.2,972.6L1050.2,972.6Q1050.6,978.6 1051.6,983.5L1051.6,983.5Q1052.6,988.3 1053.8,992.6L1053.8,992.6Q1055.0,996.8 1058.0,998.9L1058.0,998.9Q1061.1,1001.0 1062.7,1003.7L1062.7,1003.7Q1064.2,1006.5 1065.1,1010.8L1065.1,1010.8Q1065.9,1015.0 1068.4,1017.7L1068.4,1017.7Q1070.8,1020.4 1075.6,1021.9L1075.6,1021.9Q1080.5,1023.5 1084.7,1026.6L1084.7,1026.6Q1089.0,1029.6 1092.6,1033.8L1092.6,1033.8Q1096.3,1038.1 1097.7,1041.1L1097.7,1041.1Q1099.2,1044.1 1100.1,1047.8L1100.1,1047.8Q1101.1,1051.4 1104.8,1052.0L1104.8,1052.0Q1108.4,1052.6 1109.8,1055.7L1109.8,1055.7Q1111.3,1058.7 1112.3,1061.7L1113.2,1064.8 M890.0,1021.1L891.8,1026.6Q893.6,1032.0 895.3,1038.8L895.6,1039.8Q897.3,1046.6 898.5,1052.6L898.5,1052.6Q899.7,1058.7 901.5,1063.6L901.5,1063.6Q903.3,1068.4 903.3,1074.5L903.3,1074.5Q903.3,1080.5 904.6,1083.6L904.6,1083.6Q905.8,1086.6 909.4,1088.4L909.4,1088.4Q913.1,1090.3 914.9,1093.3L914.9,1093.3Q916.7,1096.3 916.1,1101.2L916.1,1101.2Q915.5,1106.0 917.3,1109.7L917.3,1109.7Q919.1,1113.3 920.9,1116.3L920.9,1116.3Q922.8,1119.4 923.4,1124.8L923.4,1124.8Q924.0,1130.3 927.0,1133.3L927.0,1133.3Q930.0,1136.4 931.9,1139.4L931.9,1139.4Q933.7,1142.4 934.9,1146.1L934.9,1146.1Q936.1,1149.7 939.1,1154.0L939.1,1154.0Q942.2,1158.2 944.0,1161.1L945.8,1164.0 M1261.3,702.0L1263.7,704.4Q1266.1,706.9 1267.9,711.7L1269.8,716.6 M1267.3,879.1L1271.6,881.0Q1275.8,882.8 1278.3,887.0L1278.3,887.0Q1280.7,891.3 1282.5,896.1L1282.5,896.1Q1284.3,901.0 1286.1,904.6L1286.1,904.6Q1288.0,908.3 1290.4,914.3L1290.4,914.3Q1292.8,920.4 1295.8,925.2L1295.8,925.2Q1298.9,930.1 1300.7,935.6L1300.7,935.6Q1302.5,941.0 1304.9,947.1L1304.9,947.1Q1307.4,953.2 1309.2,958.6L1309.2,958.6Q1311.0,964.1 1312.2,968.3L1312.2,968.3Q1313.4,972.6 1312.8,977.4L1312.8,977.4Q1312.2,982.3 1314.7,987.1L1314.7,987.1Q1317.1,992.0 1318.5,998.7L1320.0,1005.3 M1273.4,951.9L1271.0,955.0Q1268.5,958.0 1266.7,960.8L1264.9,963.6 M1445.0,702.0L1443.8,705.6Q1442.5,709.3 1444.1,714.7L1444.1,714.7Q1445.7,720.2 1445.3,723.2L1445.3,723.2Q1445.0,726.3 1445.6,729.3L1445.6,729.3Q1446.2,732.3 1445.0,735.4L1445.0,735.4Q1443.8,738.4 1444.4,744.5L1444.8,748.9Q1445.0,750.5 1444.9,752.1L1444.3,778.1Q1444.2,779.7 1443.8,781.2L1442.8,784.5Q1441.3,789.4 1438.9,794.2L1438.9,794.2Q1436.5,799.1 1436.2,805.1L1436.1,809.6Q1436.0,811.2 1436.0,812.8L1435.3,846.0Q1435.3,847.6 1435.2,849.2L1434.4,864.9Q1434.0,871.9 1432.2,874.9L1432.2,874.9Q1430.4,877.9 1429.2,880.4L1429.2,880.4Q1428.0,882.8 1427.1,888.2L1427.1,888.2Q1426.3,893.7 1427.5,899.2L1427.5,899.2Q1428.7,904.6 1429.0,908.3L1429.0,908.3Q1429.2,911.9 1431.4,914.9L1431.4,914.9Q1433.6,918.0 1432.6,921.6L1432.6,921.6Q1431.6,925.2 1431.0,928.9L1431.0,928.9Q1430.4,932.5 1429.6,935.0L1429.6,935.0Q1428.7,937.4 1428.7,941.0L1428.7,944.7 M1464.4,960.4L1464.0,964.7Q1463.7,968.9 1462.2,971.4L1462.2,971.4Q1460.7,973.8 1459.5,977.4L1459.5,977.4Q1458.3,981.1 1457.1,983.5L1457.1,983.5Q1455.9,985.9 1455.6,990.8L1455.6,990.8Q1455.4,995.6 1454.7,999.9L1454.7,999.9Q1453.9,1004.1 1455.2,1007.8L1455.2,1007.8Q1456.4,1011.4 1456.7,1018.1L1456.7,1018.1Q1457.1,1024.7 1455.5,1027.8L1455.5,1027.8Q1453.9,1030.8 1451.3,1033.2L1451.3,1033.2Q1448.6,1035.7 1446.2,1039.3L1446.2,1039.3Q1443.8,1042.9 1440.1,1042.6L1440.1,1042.6Q1436.5,1042.2 1431.6,1040.1L1431.6,1040.1Q1426.8,1038.1 1421.9,1037.2L1421.9,1037.2Q1417.1,1036.4 1413.4,1033.2L1413.4,1033.2Q1409.8,1030.1 1406.1,1030.4L1406.1,1030.4Q1402.5,1030.8 1396.4,1030.8L1396.4,1030.8Q1390.4,1030.8 1384.3,1031.4L1384.3,1031.4Q1378.2,1032.0 1374.0,1030.8L1374.0,1030.8Q1369.7,1029.6 1365.5,1029.3L1365.5,1029.3Q1361.3,1029.1 1357.0,1026.3L1357.0,1026.3Q1352.8,1023.5 1347.3,1021.5L1347.3,1021.5Q1341.8,1019.4 1338.2,1016.6L1338.2,1016.6Q1334.6,1013.8 1329.7,1011.8L1329.7,1011.8Q1324.9,1009.7 1322.4,1008.1L1322.4,1008.1Q1320.0,1006.5 1319.0,1001.7L1318.1,996.8 M1622.8,702.0L1624.1,707.5Q1625.3,712.9 1628.5,717.2L1628.5,717.2Q1631.8,721.4 1635.5,723.8L1635.5,723.8Q1639.1,726.3 1640.3,729.9L1640.3,729.9Q1641.5,733.5 1639.7,737.2L1639.7,737.2Q1637.9,740.8 1634.2,745.7L1634.2,745.7Q1630.6,750.5 1626.5,756.2L1626.2,756.5Q1622.1,762.2 1618.9,768.4L1618.1,769.8Q1614.8,776.0 1611.2,781.5L1611.2,781.5Q1607.6,786.9 1606.7,791.2L1606.7,791.2Q1605.9,795.4 1606.7,802.1L1606.7,802.1Q1607.6,808.8 1604.5,814.2L1604.5,814.2Q1601.5,819.7 1600.3,822.7L1600.3,822.7Q1599.1,825.8 1599.1,831.8L1599.1,831.8Q1599.1,837.9 1597.2,842.7L1597.2,842.7Q1595.4,847.6 1591.8,853.6L1591.7,853.7Q1588.1,859.7 1586.1,861.5L1586.1,861.5Q1584.0,863.4 1581.8,869.4L1581.8,869.4Q1579.6,875.5 1577.3,882.1L1577.2,882.3Q1574.8,888.8 1573.0,893.7L1573.0,893.7Q1571.2,898.6 1570.5,902.8L1570.5,902.8Q1569.9,907.0 1569.0,910.7L1568.0,914.3 M210.8,1212.5L213.2,1216.8Q215.6,1221.0 216.2,1224.7L216.2,1224.7Q216.8,1228.3 219.3,1231.3L219.3,1231.3Q221.7,1234.4 225.3,1236.8L225.3,1236.8Q229.0,1239.2 232.0,1242.3L232.0,1242.3Q235.0,1245.3 238.1,1249.5L238.1,1249.5Q241.1,1253.8 238.7,1255.6L238.7,1255.6Q236.3,1257.4 233.8,1259.2L233.8,1259.2Q231.4,1261.1 232.0,1264.7L232.0,1264.7Q232.6,1268.3 235.7,1272.0L235.7,1272.0Q238.7,1275.6 241.7,1279.3L241.7,1279.3Q244.8,1282.9 249.0,1285.3L249.0,1285.3Q253.2,1287.8 256.9,1290.8L256.9,1290.8Q260.5,1293.8 261.1,1297.5L261.1,1297.5Q261.7,1301.1 264.2,1305.3L264.2,1305.3Q266.6,1309.6 267.8,1312.6L267.8,1312.6Q269.0,1315.7 273.3,1318.1L273.3,1318.1Q277.5,1320.5 282.4,1319.9L282.4,1319.9Q287.2,1319.3 293.3,1319.9L293.3,1319.9Q299.4,1320.5 304.2,1320.5L304.2,1320.5Q309.1,1320.5 313.3,1318.9L313.3,1318.9Q317.6,1317.4 321.2,1318.9L321.2,1318.9Q324.8,1320.5 328.5,1319.7L328.5,1319.7Q332.1,1318.8 335.1,1321.5L335.1,1321.5Q338.2,1324.2 343.0,1326.0L343.0,1326.0Q347.9,1327.8 354.0,1329.0L354.0,1329.0Q360.0,1330.2 364.9,1330.2L364.9,1330.2Q369.7,1330.2 372.1,1329.6L372.1,1329.6Q374.6,1329.0 379.4,1330.8L379.4,1330.8Q384.3,1332.6 388.5,1334.5L388.5,1334.5Q392.8,1336.3 394.6,1341.1L394.6,1341.1Q396.4,1346.0 398.8,1352.1L398.8,1352.1Q401.3,1358.1 404.3,1364.2L404.3,1364.2Q407.3,1370.3 411.0,1375.1L411.0,1375.1Q414.6,1380.0 417.6,1385.4L417.6,1385.4Q420.7,1390.9 424.3,1395.1L424.3,1395.1Q428.0,1399.4 430.4,1401.2L432.8,1403.0 M480.6,1164.0L481.8,1167.6Q483.1,1171.3 482.4,1176.1L482.4,1176.1Q481.8,1181.0 480.9,1185.8L480.9,1185.8Q479.9,1190.7 480.9,1194.3L480.9,1194.3Q481.8,1198.0 484.0,1202.2L484.0,1202.2Q486.2,1206.5 486.7,1211.3L486.7,1211.3Q487.2,1216.2 487.5,1220.4L487.5,1220.4Q487.9,1224.7 486.1,1228.3L486.1,1228.3Q484.3,1231.9 480.6,1233.8L480.6,1233.8Q477.0,1235.6 472.7,1236.2L472.7,1236.2Q468.5,1236.8 466.1,1239.8L466.1,1239.8Q463.6,1242.9 462.4,1246.5L462.4,1246.5Q461.2,1250.1 461.2,1253.8L461.2,1257.4 M541.3,1332.6L544.3,1334.5Q547.4,1336.3 549.5,1338.7L549.5,1338.7Q551.7,1341.1 551.4,1344.8L551.4,1344.8Q551.0,1348.4 553.4,1350.8L553.4,1350.8Q555.9,1353.3 558.3,1355.7L558.3,1355.7Q560.7,1358.1 564.3,1359.6L564.3,1359.6Q568.0,1361.0 571.0,1362.6L571.0,1362.6Q574.0,1364.2 576.5,1367.8L576.5,1367.8Q578.9,1371.5 580.7,1374.5L580.7,1374.5Q582.5,1377.5 585.0,1379.4L585.0,1379.4Q587.4,1381.2 588.0,1383.0L588.0,1383.0Q588.6,1384.8 593.5,1384.2L593.5,1384.2Q598.3,1383.6 600.7,1385.4L600.7,1385.4Q603.2,1387.2 607.4,1390.3L607.4,1390.3Q611.7,1393.3 614.7,1396.3L614.7,1396.3Q617.7,1399.4 621.4,1401.8L621.4,1401.8Q625.0,1404.2 627.4,1408.5L627.4,1408.5Q629.9,1412.7 634.7,1415.8L634.7,1415.8Q639.6,1418.8 642.6,1423.6L642.6,1423.6Q645.6,1428.5 648.1,1430.9L648.1,1430.9Q650.5,1433.4 655.3,1436.4L655.3,1436.4Q660.2,1439.4 660.8,1441.8L660.8,1441.8Q661.4,1444.3 663.8,1445.5L663.8,1445.5Q666.3,1446.7 666.9,1449.1L666.9,1449.1Q667.5,1451.6 670.3,1454.0L670.3,1454.0Q673.1,1456.4 673.3,1460.7L673.3,1460.7Q673.5,1464.9 676.6,1465.5L676.6,1465.5Q679.6,1466.1 683.2,1466.7L683.2,1466.7Q686.9,1467.3 689.9,1469.1L689.9,1469.1Q693.0,1471.0 694.8,1469.1L694.8,1469.1Q696.6,1467.3 697.8,1463.7L697.8,1463.7Q699.0,1460.0 702.7,1457.0L702.7,1457.0Q706.3,1454.0 710.5,1452.2L710.5,1452.2Q714.8,1450.3 719.6,1449.4L719.6,1449.4Q724.5,1448.4 726.9,1450.6L726.9,1450.6Q729.4,1452.8 734.2,1453.4L734.2,1453.4Q739.1,1454.0 741.5,1456.4L741.5,1456.4Q743.9,1458.8 746.9,1463.1L746.9,1463.1Q750.0,1467.3 752.4,1469.5L752.4,1469.5Q754.8,1471.7 759.7,1471.9L759.7,1471.9Q764.5,1472.2 768.2,1469.8L768.2,1469.8Q771.8,1467.3 775.5,1466.1L775.5,1466.1Q779.1,1464.9 780.9,1467.9L780.9,1467.9Q782.7,1471.0 784.6,1473.4L784.6,1473.4Q786.4,1475.8 786.4,1478.9L786.4,1478.9Q786.4,1481.9 788.2,1486.7L788.2,1486.7Q790.0,1491.6 792.4,1494.0L792.4,1494.0Q794.9,1496.4 797.3,1498.9L797.3,1498.9Q799.7,1501.3 800.9,1504.9L800.9,1504.9Q802.1,1508.6 805.8,1509.2L805.8,1509.2Q809.4,1509.8 813.1,1512.6L813.1,1512.6Q816.7,1515.4 817.9,1519.3L817.9,1519.3Q819.1,1523.1 820.3,1527.4L820.3,1527.4Q821.6,1531.6 822.8,1534.1L822.8,1534.1Q824.0,1536.5 827.6,1536.8L827.6,1536.8Q831.3,1537.2 833.7,1535.6L833.7,1535.6Q836.1,1534.1 837.3,1527.4L837.3,1527.4Q838.5,1520.7 842.2,1519.7L842.2,1519.7Q845.8,1518.8 850.7,1518.5L850.7,1518.5Q855.5,1518.3 858.0,1517.7L858.0,1517.7Q860.4,1517.1 862.8,1520.1L862.8,1520.1Q865.2,1523.1 868.9,1524.1L868.9,1524.1Q872.5,1525.1 875.6,1523.5L875.6,1523.5Q878.6,1521.9 879.4,1515.2L879.4,1515.2Q880.3,1508.6 882.5,1506.8L882.5,1506.8Q884.7,1504.9 887.3,1504.3L890.0,1503.7 M741.5,1164.0L740.9,1167.6Q740.3,1171.3 740.9,1174.9L740.9,1174.9Q741.5,1178.6 740.3,1183.4L740.3,1183.4Q739.1,1188.3 737.8,1191.9L737.8,1191.9Q736.6,1195.5 734.2,1198.0L734.2,1198.0Q731.8,1200.4 730.8,1204.0L730.8,1204.0Q729.8,1207.7 732.0,1208.9L732.0,1208.9Q734.2,1210.1 732.4,1213.7L732.4,1213.7Q730.6,1217.4 728.1,1221.0L728.1,1221.0Q725.7,1224.7 727.5,1228.3L727.5,1228.3Q729.4,1231.9 730.3,1236.8L730.3,1236.8Q731.3,1241.7 733.4,1245.3L733.4,1245.3Q735.4,1248.9 738.5,1252.3L738.5,1252.3Q741.5,1255.7 744.5,1258.4L744.5,1258.4Q747.6,1261.1 750.6,1262.3L750.6,1262.3Q753.6,1263.5 757.3,1267.1L757.3,1267.1Q760.9,1270.8 764.5,1273.2L764.5,1273.2Q768.2,1275.6 771.8,1277.4L771.8,1277.4Q775.5,1279.3 778.5,1282.3L778.5,1282.3Q781.5,1285.3 784.6,1289.0L784.6,1289.0Q787.6,1292.6 791.8,1296.2L791.8,1296.2Q796.1,1299.9 797.3,1304.1L797.3,1304.1Q798.5,1308.4 797.9,1312.6L797.9,1312.6Q797.3,1316.9 798.5,1320.5L798.5,1320.5Q799.7,1324.2 803.4,1325.1L803.4,1325.1Q807.0,1326.1 809.4,1327.6L809.4,1327.6Q811.9,1329.0 810.6,1333.9L810.6,1333.9Q809.4,1338.7 807.6,1342.4L807.6,1342.4Q805.8,1346.0 804.0,1348.4L802.1,1350.8 M833.7,1164.0L836.1,1166.4Q838.5,1168.9 839.2,1173.1L839.2,1173.1Q839.8,1177.3 842.2,1179.8L842.2,1179.8Q844.6,1182.2 847.6,1185.2L847.6,1185.2Q850.7,1188.3 851.9,1192.5L851.9,1192.5Q853.1,1196.8 858.0,1197.4L858.0,1197.4Q862.8,1198.0 866.5,1199.8L866.5,1199.8Q870.1,1201.6 874.9,1204.0L874.9,1204.0Q879.8,1206.5 884.9,1209.5L890.0,1212.5 M526.7,1560.0L529.8,1556.7Q532.8,1553.5 534.3,1551.0L534.3,1551.0Q535.7,1548.6 533.6,1546.8L533.6,1546.8Q531.6,1545.0 532.2,1542.5L532.2,1542.5Q532.8,1540.1 535.8,1538.3L535.8,1538.3Q538.9,1536.5 540.7,1534.4L540.7,1534.4Q542.5,1532.4 547.4,1532.4L547.4,1532.4Q552.2,1532.4 554.0,1534.4L554.0,1534.4Q555.9,1536.5 557.7,1539.5L557.7,1539.5Q559.5,1542.5 560.1,1545.6L560.1,1545.6Q560.7,1548.6 565.0,1551.6L565.0,1551.6Q569.2,1554.7 572.8,1558.3L572.8,1558.3Q576.5,1562.0 580.7,1562.6L580.7,1562.6Q585.0,1563.2 587.4,1563.2L587.4,1563.2Q589.8,1563.2 594.1,1561.1L594.1,1561.1Q598.3,1559.0 603.2,1556.3L603.2,1556.3Q608.0,1553.5 608.3,1548.0L608.3,1548.0Q608.5,1542.5 611.9,1541.9L611.9,1541.9Q615.3,1541.3 617.7,1538.9L617.7,1538.9Q620.2,1536.5 620.8,1534.7L620.8,1534.7Q621.4,1532.8 625.6,1532.6L625.6,1532.6Q629.9,1532.4 634.1,1529.2L634.1,1529.2Q638.4,1526.0 641.4,1527.6L641.4,1527.6Q644.4,1529.2 646.2,1534.1L646.2,1534.1Q648.1,1538.9 651.1,1541.9L651.1,1541.9Q654.1,1545.0 657.8,1548.0L657.8,1548.0Q661.4,1551.0 665.7,1552.9L665.7,1552.9Q669.9,1554.7 674.1,1557.1L674.1,1557.1Q678.4,1559.5 682.6,1561.4L682.6,1561.4Q686.9,1563.2 690.5,1562.6L690.5,1562.6Q694.2,1562.0 698.4,1560.5L698.4,1560.5Q702.7,1559.0 706.3,1559.5L706.3,1559.5Q709.9,1560.0 712.4,1562.8L712.4,1562.8Q714.8,1565.6 716.6,1569.8L716.6,1569.8Q718.4,1574.1 717.8,1578.9L717.8,1578.9Q717.2,1583.8 719.6,1588.0L719.6,1588.0Q722.1,1592.3 725.7,1596.5L725.7,1596.5Q729.4,1600.8 731.8,1605.6L731.8,1605.6Q734.2,1610.5 736.0,1615.3L736.0,1615.3Q737.8,1620.2 738.5,1623.1L739.1,1626.0 M944.6,1164.0L947.0,1167.0Q949.5,1170.1 950.1,1173.1L950.1,1173.1Q950.7,1176.1 952.5,1179.2L952.5,1179.2Q954.3,1182.2 955.5,1186.4L955.5,1186.4Q956.7,1190.7 959.8,1193.7L959.8,1193.7Q962.8,1196.8 965.2,1199.2L965.2,1199.2Q967.7,1201.6 969.5,1204.6L969.5,1204.6Q971.3,1207.7 973.7,1208.9L973.7,1208.9Q976.1,1210.1 979.2,1213.1L979.2,1213.1Q982.2,1216.2 984.0,1219.2L984.0,1219.2Q985.9,1222.2 987.1,1225.3L987.1,1225.3Q988.3,1228.3 990.1,1231.9L990.1,1231.9Q991.9,1235.6 996.2,1236.8L996.2,1236.8Q1000.4,1238.0 1004.7,1241.0L1004.7,1241.0Q1008.9,1244.1 1013.8,1245.9L1013.8,1245.9Q1018.6,1247.7 1021.6,1250.1L1021.6,1250.1Q1024.7,1252.6 1027.7,1255.0L1027.7,1255.0Q1030.7,1257.4 1034.4,1258.6L1034.4,1258.6Q1038.0,1259.9 1041.7,1258.6L1041.7,1258.6Q1045.3,1257.4 1050.2,1257.4L1050.2,1257.4Q1055.0,1257.4 1057.4,1256.2L1057.4,1256.2Q1059.9,1255.0 1064.1,1256.8L1064.1,1256.8Q1068.4,1258.6 1071.4,1261.7L1071.4,1261.7Q1074.4,1264.7 1077.5,1267.7L1077.5,1267.7Q1080.5,1270.8 1085.3,1273.8L1085.3,1273.8Q1090.2,1276.8 1093.0,1279.9L1093.0,1279.9Q1095.8,1282.9 1099.7,1283.9L1099.7,1283.9Q1103.5,1284.8 1108.4,1285.7L1108.4,1285.7Q1113.2,1286.5 1118.1,1289.3L1118.1,1289.3Q1123.0,1292.1 1127.8,1296.6L1127.8,1296.6Q1132.7,1301.1 1138.7,1303.2L1138.7,1303.2Q1144.8,1305.2 1149.6,1307.2L1149.6,1307.2Q1154.5,1309.1 1155.5,1310.6L1155.5,1310.6Q1156.4,1312.0 1153.6,1313.5L1153.6,1313.5Q1150.9,1314.9 1152.7,1317.1L1152.7,1317.1Q1154.5,1319.3 1155.7,1322.9L1156.9,1326.6 M890.0,1211.3L894.2,1213.7Q898.5,1216.2 902.7,1218.0L902.7,1218.0Q907.0,1219.8 910.0,1221.6L910.0,1221.6Q913.1,1223.5 916.7,1224.7L916.7,1224.7Q920.3,1225.9 923.4,1225.3L923.4,1225.3Q926.4,1224.7 929.4,1227.1L929.4,1227.1Q932.5,1229.5 935.5,1233.2L935.5,1233.2Q938.5,1236.8 939.1,1241.7L939.1,1241.7Q939.7,1246.5 941.0,1250.8L941.0,1250.8Q942.2,1255.0 944.0,1259.2L944.0,1259.2Q945.8,1263.5 948.0,1266.5L948.0,1266.5Q950.2,1269.6 951.6,1272.0L951.6,1272.0Q953.1,1274.4 956.1,1274.4L956.1,1274.4Q959.2,1274.4 962.8,1276.2L962.8,1276.2Q966.4,1278.0 970.7,1279.0L970.7,1279.0Q974.9,1280.0 976.4,1282.1L976.4,1282.1Q977.8,1284.1 978.2,1287.1L978.2,1287.1Q978.6,1290.2 979.8,1292.6L979.8,1292.6Q981.0,1295.0 980.1,1299.9L980.1,1299.9Q979.3,1304.7 978.3,1310.8L978.3,1310.8Q977.4,1316.9 975.5,1321.1L975.5,1321.1Q973.7,1325.4 974.3,1329.6L974.3,1329.6Q974.9,1333.9 975.3,1340.9L975.8,1348.7Q976.1,1355.7 975.5,1361.8L975.5,1361.8Q974.9,1367.8 973.1,1372.7L973.1,1372.7Q971.3,1377.5 971.9,1381.8L971.9,1381.8Q972.5,1386.0 970.1,1390.9L970.1,1390.9Q967.7,1395.7 966.4,1401.2L966.4,1401.2Q965.2,1406.7 963.4,1412.7L963.4,1412.7Q961.6,1418.8 961.6,1423.0L961.6,1423.0Q961.6,1427.3 958.6,1430.9L958.6,1430.9Q955.5,1434.6 953.1,1440.0L953.1,1440.0Q950.7,1445.5 947.0,1449.7L947.0,1449.7Q943.4,1454.0 941.6,1458.8L941.6,1458.8Q939.7,1463.7 936.7,1466.7L936.7,1466.7Q933.7,1469.8 931.3,1474.0L931.3,1474.0Q928.8,1478.2 924.6,1481.3L924.6,1481.3Q920.3,1484.3 916.1,1486.7L916.1,1486.7Q911.8,1489.2 908.2,1491.6L908.2,1491.6Q904.6,1494.0 903.3,1497.1L903.3,1497.1Q902.1,1500.1 898.5,1501.7L898.5,1501.7Q894.9,1503.2 892.4,1504.1L890.0,1504.9 M1515.3,1187.1L1516.6,1190.1Q1517.8,1193.1 1515.9,1196.2L1515.9,1196.2Q1514.1,1199.2 1511.1,1202.2L1511.1,1202.2Q1508.1,1205.3 1505.0,1208.9L1505.0,1208.9Q1502.0,1212.5 1501.4,1216.8L1501.4,1216.8Q1500.8,1221.0 1501.4,1225.3L1501.4,1225.3Q1502.0,1229.5 1503.0,1233.2L1503.0,1233.2Q1503.9,1236.8 1503.2,1239.8L1503.2,1239.8Q1502.5,1242.9 1502.8,1245.9L1502.8,1245.9Q1503.2,1248.9 1504.4,1253.2L1504.4,1253.2Q1505.6,1257.4 1506.5,1260.5L1506.5,1260.5Q1507.3,1263.5 1508.3,1267.1L1508.3,1267.1Q1509.3,1270.8 1509.3,1276.8L1509.3,1276.8Q1509.3,1282.9 1510.5,1287.1L1510.5,1287.1Q1511.7,1291.4 1514.1,1293.5L1514.1,1293.5Q1516.6,1295.5 1520.2,1296.5L1520.2,1296.5Q1523.8,1297.5 1527.5,1299.6L1527.5,1299.6Q1531.1,1301.8 1532.3,1304.5L1532.3,1304.5Q1533.5,1307.2 1537.2,1308.6L1537.2,1308.6Q1540.8,1310.1 1544.5,1312.9L1544.5,1312.9Q1548.1,1315.7 1552.3,1318.5L1552.3,1318.5Q1556.6,1321.2 1560.2,1322.9L1560.2,1322.9Q1563.9,1324.6 1568.1,1325.0L1568.1,1325.0Q1572.4,1325.4 1576.0,1324.8L1576.0,1324.8Q1579.6,1324.2 1582.1,1326.6L1582.1,1326.6Q1584.5,1329.0 1585.1,1333.9L1585.1,1333.9Q1585.7,1338.7 1586.3,1343.0L1586.3,1343.0Q1586.9,1347.2 1590.0,1350.8L1593.0,1354.5 M1593.0,1354.5L1596.0,1353.9Q1599.1,1353.3 1602.1,1355.1L1602.1,1355.1Q1605.1,1356.9 1606.9,1359.9L1606.9,1359.9Q1608.8,1363.0 1611.8,1364.8L1611.8,1364.8Q1614.8,1366.6 1617.9,1369.0L1617.9,1369.0Q1620.9,1371.5 1622.7,1374.5L1624.5,1377.5 M1624.5,1377.5L1627.0,1373.9Q1629.4,1370.3 1634.9,1368.4L1634.9,1368.4Q1640.3,1366.6 1645.2,1365.0L1645.2,1365.0Q1650.0,1363.5 1654.9,1361.8L1654.9,1361.8Q1659.7,1360.1 1664.0,1359.1L1664.0,1359.1Q1668.2,1358.1 1672.5,1354.5L1672.5,1354.5Q1676.7,1350.8 1680.3,1347.2L1680.3,1347.2Q1684.0,1343.6 1684.0,1339.3L1684.0,1339.3Q1684.0,1335.1 1687.6,1332.0L1687.6,1332.0Q1691.3,1329.0 1694.9,1326.0L1694.9,1326.0Q1698.5,1322.9 1699.8,1317.5L1699.8,1317.5Q1701.0,1312.0 1704.6,1308.4L1704.6,1308.4Q1708.3,1304.7 1711.3,1299.9L1711.3,1299.9Q1714.3,1295.0 1716.1,1291.4L1716.1,1291.4Q1718.0,1287.8 1721.0,1284.1L1721.0,1284.1Q1724.0,1280.5 1727.1,1278.7L1727.1,1278.7Q1730.1,1276.8 1731.9,1272.6L1731.9,1272.6Q1733.7,1268.3 1736.2,1267.1L1738.6,1265.9 M1733.7,1268.3L1732.5,1264.7Q1731.3,1261.1 1728.5,1257.4L1728.5,1257.4Q1725.7,1253.8 1726.7,1247.7L1726.7,1247.7Q1727.7,1241.7 1730.1,1239.2L1730.1,1239.2Q1732.5,1236.8 1735.6,1235.0L1738.6,1233.2 M1624.5,1377.5L1625.1,1382.4Q1625.8,1387.2 1626.0,1392.1L1626.0,1392.1Q1626.2,1397.0 1628.4,1399.4L1628.4,1399.4Q1630.6,1401.8 1632.1,1405.4L1632.1,1405.4Q1633.5,1409.1 1633.3,1413.9L1633.3,1413.9Q1633.0,1418.8 1634.0,1423.0L1634.0,1423.0Q1635.0,1427.3 1635.5,1431.5L1635.5,1431.5Q1635.9,1435.8 1636.7,1440.4L1636.7,1440.4Q1637.4,1445.0 1635.2,1447.4L1635.2,1447.4Q1633.0,1449.9 1629.4,1451.3L1629.4,1451.3Q1625.8,1452.8 1623.9,1455.8L1623.9,1455.8Q1622.1,1458.8 1619.1,1461.9L1619.1,1461.9Q1616.0,1464.9 1615.4,1469.8L1615.4,1469.8Q1614.8,1474.6 1614.8,1477.6L1614.8,1477.6Q1614.8,1480.7 1612.8,1483.7L1612.8,1483.7Q1610.7,1486.7 1609.7,1489.8L1609.7,1489.8Q1608.8,1492.8 1605.1,1495.2L1605.1,1495.2Q1601.5,1497.7 1599.1,1498.9L1599.1,1498.9Q1596.6,1500.1 1596.6,1504.3L1596.6,1504.3Q1596.6,1508.6 1599.1,1511.6L1599.1,1511.6Q1601.5,1514.6 1606.3,1515.9L1606.3,1515.9Q1611.2,1517.1 1617.3,1518.6L1617.3,1518.6Q1623.3,1520.2 1628.8,1521.1L1628.8,1521.1Q1634.2,1521.9 1634.9,1525.0L1634.9,1525.0Q1635.5,1528.0 1638.5,1529.8L1638.5,1529.8Q1641.5,1531.6 1642.7,1535.9L1642.7,1535.9Q1644.0,1540.1 1645.2,1546.2L1645.2,1546.2Q1646.4,1552.3 1644.2,1558.9L1641.5,1566.8 M1641.5,1566.8L1644.0,1570.7Q1646.4,1574.6 1653.1,1574.3L1653.1,1574.3Q1659.7,1574.1 1664.6,1574.7L1664.6,1574.7Q1669.4,1575.3 1673.1,1577.4L1673.1,1577.4Q1676.7,1579.4 1679.7,1582.2L1679.7,1582.2Q1682.8,1585.0 1683.4,1589.3L1683.4,1589.3Q1684.0,1593.5 1687.0,1595.9L1687.0,1595.9Q1690.1,1598.4 1693.1,1599.0L1693.1,1599.0Q1696.1,1599.6 1699.2,1603.2L1699.2,1603.2Q1702.2,1606.9 1704.0,1609.9L1704.0,1609.9Q1705.8,1612.9 1703.4,1615.3L1703.4,1615.3Q1701.0,1617.8 1703.4,1621.9L1705.8,1626.0 M1641.5,1566.8L1637.9,1569.8Q1634.2,1572.9 1631.8,1577.1L1631.8,1577.1Q1629.4,1581.4 1632.4,1582.6L1632.4,1582.6Q1635.5,1583.8 1633.0,1588.0L1633.0,1588.0Q1630.6,1592.3 1626.4,1595.9L1626.4,1595.9Q1622.1,1599.6 1619.1,1601.4L1619.1,1601.4Q1616.0,1603.2 1613.0,1605.0L1613.0,1605.0Q1610.0,1606.9 1605.7,1608.1L1605.7,1608.1Q1601.5,1609.3 1602.1,1612.3L1602.1,1612.3Q1602.7,1615.3 1599.7,1618.4L1599.7,1618.4Q1596.6,1621.4 1593.6,1623.7L1590.6,1626.0 M1738.6,1438.2L1734.3,1439.4Q1730.1,1440.6 1725.2,1443.1L1725.2,1443.1Q1720.4,1445.5 1714.9,1449.9L1713.7,1450.8Q1708.3,1455.2 1702.8,1459.6L1701.6,1460.5Q1696.1,1464.9 1691.5,1470.1L1691.1,1470.6Q1686.4,1475.8 1681.5,1480.8L1679.2,1483.0Q1674.3,1488.0 1669.5,1493.1L1669.3,1493.3Q1664.6,1498.4 1661.5,1502.3L1661.5,1502.3Q1658.5,1506.1 1656.4,1511.0L1656.4,1511.0Q1654.4,1515.9 1654.6,1522.9L1654.6,1523.4Q1654.9,1530.4 1654.9,1534.7L1654.9,1534.7Q1654.9,1538.9 1652.4,1544.4L1652.4,1544.4Q1650.0,1549.8 1647.6,1555.9L1647.6,1555.9Q1645.2,1562.0 1643.3,1564.4L1641.5,1566.8 M741.5,1918.4L746.9,1920.8Q752.4,1923.3 755.4,1926.9L755.4,1926.9Q758.5,1930.5 758.5,1933.0L758.5,1933.0Q758.5,1935.4 756.7,1937.8L756.7,1937.8Q754.8,1940.2 757.9,1943.3L757.9,1943.3Q760.9,1946.3 761.5,1949.3L761.5,1949.3Q762.1,1952.4 764.5,1955.4L764.5,1955.4Q767.0,1958.4 770.2,1962.1L770.2,1962.1Q773.5,1965.7 772.1,1969.4L772.1,1969.4Q770.6,1973.0 770.4,1976.0L770.4,1976.0Q770.1,1979.1 772.8,1982.7L772.8,1982.7Q775.5,1986.3 778.5,1988.8L778.5,1988.8Q781.5,1991.2 782.1,1995.4L782.1,1995.4Q782.7,1999.7 783.7,2003.6L784.7,2007.5 M738.6,1626.0L741.2,1629.6Q743.9,1633.3 746.3,1636.9L746.3,1636.9Q748.8,1640.6 750.6,1645.4L750.6,1645.4Q752.4,1650.3 753.3,1655.1L753.3,1655.1Q754.1,1660.0 753.6,1666.0L753.6,1666.0Q753.1,1672.1 754.0,1677.0L754.0,1677.0Q754.8,1681.8 755.4,1688.5L755.4,1688.5Q756.0,1695.2 760.9,1696.7L760.9,1696.7Q765.8,1698.3 768.8,1700.4L768.8,1700.4Q771.8,1702.4 776.1,1702.8L776.1,1702.8Q780.3,1703.2 784.0,1703.2L784.0,1703.2Q787.6,1703.2 789.4,1705.8L789.4,1705.8Q791.2,1708.5 793.1,1712.8L793.1,1712.8Q794.9,1717.0 796.1,1722.5L796.1,1722.5Q797.3,1727.9 799.7,1731.6L799.7,1731.6Q802.1,1735.2 803.1,1738.8L803.1,1738.8Q804.1,1742.5 803.7,1746.1L803.7,1746.1Q803.4,1749.8 805.2,1753.4L805.2,1753.4Q807.0,1757.0 811.2,1757.3L811.2,1757.3Q815.5,1757.5 817.3,1759.5L817.3,1759.5Q819.1,1761.4 822.2,1762.3L822.2,1762.3Q825.2,1763.1 826.4,1767.3L826.4,1767.3Q827.6,1771.6 828.2,1776.4L828.2,1776.4Q828.8,1781.3 831.9,1783.1L831.9,1783.1Q834.9,1784.9 836.1,1788.0L836.1,1788.0Q837.3,1791.0 842.8,1792.8L842.8,1792.8Q848.3,1794.6 854.3,1793.1L854.3,1793.1Q860.4,1791.5 864.6,1793.4L864.6,1793.4Q868.9,1795.4 873.7,1796.8L873.7,1796.8Q878.6,1798.3 881.6,1800.1L881.6,1800.1Q884.7,1801.9 887.3,1802.3L890.0,1802.7 M738.6,1892.9L740.6,1894.1Q742.7,1895.4 742.7,1902.4L742.7,1905.3Q742.7,1912.3 742.1,1915.4L741.5,1918.4 M784.7,2007.5L784.9,2013.3Q785.2,2019.1 784.2,2022.1L784.2,2022.1Q783.2,2025.2 786.0,2027.6L786.0,2027.6Q788.8,2030.0 792.4,2031.2L792.4,2031.2Q796.1,2032.5 798.5,2034.9L798.5,2034.9Q800.9,2037.3 801.8,2041.6L801.8,2041.6Q802.6,2045.8 800.6,2047.0L800.6,2047.0Q798.5,2048.2 801.3,2050.0L801.3,2050.0Q804.1,2051.9 804.1,2055.5L804.1,2055.5Q804.1,2059.1 806.8,2057.9L806.8,2057.9Q809.4,2056.7 813.1,2059.1L813.1,2059.1Q816.7,2061.6 821.6,2063.2L821.6,2063.2Q826.4,2064.7 832.5,2064.7L832.5,2064.7Q838.5,2064.7 845.5,2064.0L846.1,2064.0Q853.1,2063.3 856.7,2066.1L856.7,2066.1Q860.4,2068.9 866.1,2072.9L866.8,2073.3Q872.5,2077.3 878.0,2079.8L878.0,2079.8Q883.4,2082.2 886.7,2083.2L890.0,2084.1 M971.3,1897.8L971.9,1901.4Q972.5,1905.1 973.1,1909.3L973.1,1909.3Q973.7,1913.6 976.1,1915.4L976.1,1915.4Q978.6,1917.2 982.2,1919.4L982.2,1919.4Q985.9,1921.6 988.9,1924.2L988.9,1924.2Q991.9,1926.9 992.5,1930.5L992.5,1930.5Q993.1,1934.2 996.2,1935.4L996.2,1935.4Q999.2,1936.6 1002.2,1939.6L1002.2,1939.6Q1005.3,1942.7 1008.9,1944.5L1008.9,1944.5Q1012.5,1946.3 1015.6,1949.3L1015.6,1949.3Q1018.6,1952.4 1022.9,1954.4L1022.9,1954.4Q1027.1,1956.5 1030.7,1957.2L1030.7,1957.2Q1034.4,1958.0 1035.0,1960.0L1035.0,1960.0Q1035.6,1962.1 1038.3,1964.5L1038.3,1964.5Q1040.9,1966.9 1040.1,1970.6L1040.1,1970.6Q1039.2,1974.2 1042.9,1975.8L1042.9,1975.8Q1046.5,1977.4 1046.5,1981.3L1046.5,1981.3Q1046.5,1985.1 1048.3,1988.8L1048.3,1988.8Q1050.2,1992.4 1053.2,1996.1L1053.2,1996.1Q1056.2,1999.7 1059.3,2003.1L1059.3,2003.1Q1062.3,2006.5 1065.3,2011.0L1065.3,2011.0Q1068.4,2015.5 1069.0,2019.7L1069.0,2019.7Q1069.6,2024.0 1072.6,2027.0L1072.6,2027.0Q1075.6,2030.0 1079.9,2032.5L1079.9,2032.5Q1084.1,2034.9 1087.2,2036.7L1087.2,2036.7Q1090.2,2038.5 1093.2,2041.9L1093.2,2041.9Q1096.3,2045.3 1098.4,2048.0L1098.4,2048.0Q1100.6,2050.7 1100.9,2053.7L1100.9,2053.7Q1101.1,2056.7 1105.4,2059.5L1105.4,2059.5Q1109.6,2062.3 1113.2,2062.3L1113.2,2062.3Q1116.9,2062.3 1119.9,2065.0L1119.9,2065.0Q1123.0,2067.6 1126.0,2069.5L1126.0,2069.5Q1129.0,2071.3 1129.6,2074.3L1129.6,2074.3Q1130.2,2077.3 1135.1,2078.6L1135.1,2078.6Q1139.9,2079.8 1144.8,2082.2L1144.8,2082.2Q1149.6,2084.6 1153.3,2086.3L1156.9,2088.0 M890.0,1802.7L892.4,1803.1Q894.9,1803.6 898.5,1806.4L898.5,1806.4Q902.1,1809.2 906.4,1812.2L906.4,1812.2Q910.6,1815.3 914.9,1817.7L914.9,1817.7Q919.1,1820.1 923.4,1821.9L923.4,1821.9Q927.6,1823.8 930.6,1827.4L930.6,1827.4Q933.7,1831.0 937.9,1834.1L937.9,1834.1Q942.2,1837.1 944.6,1838.9L944.6,1838.9Q947.0,1840.8 948.8,1845.6L948.8,1845.6Q950.7,1850.5 953.1,1856.5L953.1,1856.5Q955.5,1862.6 957.3,1868.1L957.3,1868.1Q959.2,1873.5 961.0,1874.1L961.0,1874.1Q962.8,1874.7 965.0,1879.0L965.0,1879.0Q967.2,1883.2 968.0,1888.1L968.0,1888.1Q968.9,1892.9 970.1,1895.4L971.3,1897.8 M1084.1,1936.6L1087.8,1939.0Q1091.4,1941.5 1093.8,1945.7L1093.8,1945.7Q1096.3,1950.0 1099.9,1954.0L1099.9,1954.0Q1103.5,1958.0 1109.6,1958.8L1109.6,1958.8Q1115.7,1959.7 1120.5,1961.5L1120.5,1961.5Q1125.4,1963.3 1131.4,1964.5L1131.4,1964.5Q1137.5,1965.7 1143.6,1966.9L1143.6,1966.9Q1149.6,1968.1 1153.3,1970.0L1153.3,1970.0Q1156.9,1971.8 1160.6,1974.6L1160.6,1974.6Q1164.2,1977.4 1170.3,1977.0L1170.3,1977.0Q1176.3,1976.6 1180.6,1978.5L1180.6,1978.5Q1184.8,1980.3 1190.9,1980.5L1190.9,1980.5Q1197.0,1980.8 1200.6,1984.2L1200.6,1984.2Q1204.2,1987.6 1208.5,1988.5L1208.5,1988.5Q1212.7,1989.5 1214.6,1987.9L1214.6,1987.9Q1216.4,1986.3 1220.6,1990.0L1220.6,1990.0Q1224.9,1993.6 1227.9,1996.7L1227.9,1996.7Q1230.9,1999.7 1235.2,2000.3L1235.2,2000.3Q1239.4,2000.9 1244.3,2003.3L1244.3,2003.3Q1249.1,2005.8 1254.0,2007.3L1254.0,2007.3Q1258.8,2008.9 1263.7,2010.1L1263.7,2010.1Q1268.5,2011.3 1273.4,2009.2L1273.4,2009.2Q1278.3,2007.0 1281.9,2007.6L1281.9,2007.6Q1285.5,2008.2 1289.2,2010.6L1289.2,2010.6Q1292.8,2013.0 1297.7,2013.6L1297.7,2013.6Q1302.5,2014.3 1306.8,2016.1L1306.8,2016.1Q1311.0,2017.9 1315.5,2020.9L1320.0,2024.0 M1576.0,1638.1L1574.2,1641.2Q1572.4,1644.2 1568.7,1644.8L1568.7,1644.8Q1565.1,1645.4 1562.1,1647.2L1562.1,1647.2Q1559.0,1649.1 1556.6,1652.1L1556.6,1652.1Q1554.2,1655.1 1551.1,1656.9L1551.1,1656.9Q1548.1,1658.8 1545.7,1660.6L1545.7,1660.6Q1543.2,1662.4 1541.8,1663.6L1541.8,1663.6Q1540.3,1664.8 1542.4,1667.3L1542.4,1667.3Q1544.5,1669.7 1542.0,1671.5L1542.0,1671.5Q1539.6,1673.3 1542.0,1674.5L1542.0,1674.5Q1544.5,1675.7 1546.3,1677.0L1546.3,1677.0Q1548.1,1678.2 1548.1,1681.8L1548.1,1681.8Q1548.1,1685.5 1549.9,1688.5L1549.9,1688.5Q1551.7,1691.5 1555.4,1693.3L1555.4,1693.3Q1559.0,1695.2 1559.6,1697.0L1559.6,1697.0Q1560.2,1698.8 1559.0,1702.4L1559.0,1702.4Q1557.8,1706.1 1559.0,1710.9L1559.0,1710.9Q1560.2,1715.8 1561.2,1719.4L1561.2,1719.4Q1562.2,1723.1 1563.0,1726.7L1563.0,1726.7Q1563.9,1730.3 1566.9,1728.5L1566.9,1728.5Q1569.9,1726.7 1572.1,1729.7L1572.1,1729.7Q1574.3,1732.8 1575.5,1734.6L1575.5,1734.6Q1576.7,1736.4 1574.5,1738.2L1574.5,1738.2Q1572.4,1740.0 1569.9,1741.3L1569.9,1741.3Q1567.5,1742.5 1570.5,1744.9L1570.5,1744.9Q1573.6,1747.3 1575.4,1749.8L1575.4,1749.8Q1577.2,1752.2 1574.2,1754.6L1574.2,1754.6Q1571.2,1757.0 1573.6,1758.9L1573.6,1758.9Q1576.0,1760.7 1578.8,1762.5L1578.8,1762.5Q1581.6,1764.3 1581.2,1768.0L1581.2,1768.0Q1580.9,1771.6 1579.3,1774.0L1579.3,1774.0Q1577.7,1776.4 1578.9,1781.3L1578.9,1781.3Q1580.1,1786.2 1579.3,1791.0L1579.3,1791.0Q1578.4,1795.9 1576.0,1799.5L1576.0,1799.5Q1573.6,1803.1 1572.4,1805.0L1572.4,1805.0Q1571.2,1806.8 1574.2,1809.2L1574.2,1809.2Q1577.2,1811.6 1575.4,1815.9L1575.4,1815.9Q1573.6,1820.1 1570.5,1824.4L1570.5,1824.4Q1567.5,1828.6 1566.3,1831.7L1566.3,1831.7Q1565.1,1834.7 1567.5,1837.7L1567.5,1837.7Q1569.9,1840.8 1568.7,1845.0L1568.7,1845.0Q1567.5,1849.2 1569.7,1852.3L1569.7,1852.3Q1571.9,1855.3 1569.7,1859.6L1569.7,1859.6Q1567.5,1863.8 1566.9,1868.7L1566.9,1868.7Q1566.3,1873.5 1567.5,1878.4L1567.5,1878.4Q1568.7,1883.2 1567.5,1886.9L1567.5,1886.9Q1566.3,1890.5 1564.5,1893.5L1564.5,1893.5Q1562.7,1896.6 1561.7,1900.8L1560.7,1905.1 M1560.7,1905.1L1561.7,1909.9Q1562.7,1914.8 1563.3,1919.0L1563.3,1919.0Q1563.9,1923.3 1565.1,1926.3L1565.1,1926.3Q1566.3,1929.3 1569.3,1930.5L1569.3,1930.5Q1572.4,1931.8 1574.2,1935.4L1574.2,1935.4Q1576.0,1939.0 1578.4,1942.1L1578.4,1942.1Q1580.9,1945.1 1579.3,1947.5L1579.3,1947.5Q1577.7,1950.0 1578.7,1955.4L1578.7,1955.4Q1579.6,1960.9 1580.3,1965.7L1580.3,1965.7Q1580.9,1970.6 1583.3,1974.2L1583.3,1974.2Q1585.7,1977.9 1585.7,1979.7L1585.7,1979.7Q1585.7,1981.5 1581.5,1981.5L1581.5,1981.5Q1577.2,1981.5 1573.6,1982.1L1573.6,1982.1Q1569.9,1982.7 1568.1,1985.1L1568.1,1985.1Q1566.3,1987.6 1568.1,1990.6L1568.1,1990.6Q1569.9,1993.6 1572.4,1995.4L1572.4,1995.4Q1574.8,1997.3 1577.8,1999.1L1577.8,1999.1Q1580.9,2000.9 1582.7,2004.5L1582.7,2004.5Q1584.5,2008.2 1583.3,2011.2L1583.3,2011.2Q1582.1,2014.3 1584.5,2018.5L1584.5,2018.5Q1586.9,2022.7 1586.3,2025.8L1586.3,2025.8Q1585.7,2028.8 1583.9,2027.6L1583.9,2027.6Q1582.1,2026.4 1581.5,2028.8L1581.5,2028.8Q1580.9,2031.2 1583.9,2033.7L1583.9,2033.7Q1586.9,2036.1 1590.6,2039.1L1590.6,2039.1Q1594.2,2042.2 1598.5,2042.8L1598.5,2042.8Q1602.7,2043.4 1604.5,2047.0L1604.5,2047.0Q1606.3,2050.7 1610.6,2054.3L1610.6,2054.3Q1614.8,2057.9 1618.5,2061.6L1618.5,2061.6Q1622.1,2065.2 1622.7,2068.9L1622.7,2068.9Q1623.3,2072.5 1622.1,2074.9L1622.1,2074.9Q1620.9,2077.3 1623.3,2079.8L1623.3,2079.8Q1625.8,2082.2 1627.0,2085.1L1628.2,2088.0 M1320.0,2030.0L1322.4,2033.1Q1324.9,2036.1 1329.1,2036.1L1329.1,2036.1Q1333.3,2036.1 1337.6,2037.9L1337.6,2037.9Q1341.8,2039.7 1345.5,2040.9L1345.5,2040.9Q1349.1,2042.2 1352.2,2040.1L1352.2,2040.1Q1355.2,2038.0 1359.4,2040.1L1359.4,2040.1Q1363.7,2042.2 1367.9,2043.4L1367.9,2043.4Q1372.2,2044.6 1375.2,2042.8L1375.2,2042.8Q1378.2,2040.9 1383.1,2044.6L1383.1,2044.6Q1387.9,2048.2 1392.8,2048.8L1392.8,2048.8Q1397.7,2049.4 1401.9,2051.9L1401.9,2051.9Q1406.1,2054.3 1411.0,2056.1L1411.0,2056.1Q1415.9,2057.9 1420.1,2057.3L1420.1,2057.3Q1424.3,2056.7 1429.2,2055.5L1429.2,2055.5Q1434.0,2054.3 1436.5,2053.1L1436.5,2053.1Q1438.9,2051.9 1441.3,2054.9L1441.3,2054.9Q1443.8,2057.9 1447.4,2058.5L1447.4,2058.5Q1451.0,2059.1 1455.9,2058.3L1455.9,2058.3Q1460.7,2057.4 1465.6,2060.1L1465.6,2060.1Q1470.4,2062.8 1475.3,2062.5L1475.3,2062.5Q1480.2,2062.3 1483.8,2065.6L1483.8,2065.6Q1487.4,2068.9 1493.5,2070.1L1493.5,2070.1Q1499.6,2071.3 1504.4,2073.1L1504.4,2073.1Q1509.3,2074.9 1514.1,2074.3L1514.1,2074.3Q1519.0,2073.7 1522.6,2072.5L1522.6,2072.5Q1526.3,2071.3 1531.1,2073.1L1531.1,2073.1Q1536.0,2074.9 1540.8,2075.5L1540.8,2075.5Q1545.7,2076.1 1549.3,2074.3L1549.3,2074.3Q1553.0,2072.5 1556.0,2069.5L1556.0,2069.5Q1559.0,2066.4 1564.5,2064.6L1564.5,2064.6Q1569.9,2062.8 1573.6,2060.4L1573.6,2060.4Q1577.2,2057.9 1579.0,2053.7L1579.0,2053.7Q1580.9,2049.4 1582.1,2046.4L1582.1,2046.4Q1583.3,2043.4 1585.1,2039.7L1586.9,2036.1 M1704.6,1626.0L1705.8,1629.6Q1707.0,1633.3 1709.5,1635.1L1709.5,1635.1Q1711.9,1636.9 1713.1,1640.6L1713.1,1640.6Q1714.3,1644.2 1718.6,1644.8L1718.6,1644.8Q1722.8,1645.4 1726.5,1646.0L1726.5,1646.0Q1730.1,1646.6 1734.3,1648.4L1738.6,1650.3 M1576.0,1638.1L1579.6,1635.7Q1583.3,1633.3 1586.3,1630.9L1586.3,1630.9Q1589.4,1628.4 1590.0,1627.2L1590.6,1626.0 M34.0,1149.0L35.0,1153.5Q36.0,1158.0 37.2,1164.6L37.2,1164.7Q38.5,1171.3 40.0,1173.7L40.0,1173.7Q41.6,1176.1 42.3,1178.0L43.0,1180.0" stroke="#97b6e1" stroke-opacity="0.5" stroke-width="4.0" stroke-linecap="butt"/>
</g>
<!--/MAPCONTENT-->
<rect x="31.5" y="241.4" width="1710.5" height="1845.6" fill="none" stroke="#000" stroke-width="5.6"/>
</g>
<!-- COLORBAR -->
<g id="cbar">
<rect x="1859.3" y="1746.41" width="65.4" height="65.29" fill="#f7fbff"/>
<rect x="1859.3" y="1681.72" width="65.4" height="65.29" fill="#ebf3fb"/>
<rect x="1859.3" y="1617.03" width="65.4" height="65.29" fill="#dfebf7"/>
<rect x="1859.3" y="1552.34" width="65.4" height="65.29" fill="#d1e2f3"/>
<rect x="1859.3" y="1487.65" width="65.4" height="65.29" fill="#c6dbef"/>
<rect x="1859.3" y="1422.96" width="65.4" height="65.29" fill="#b5d3e9"/>
<rect x="1859.3" y="1358.27" width="65.4" height="65.29" fill="#a5cbe3"/>
<rect x="1859.3" y="1293.58" width="65.4" height="65.29" fill="#8fc0de"/>
<rect x="1859.3" y="1228.89" width="65.4" height="65.29" fill="#78b3d8"/>
<rect x="1859.3" y="1164.20" width="65.4" height="65.29" fill="#62a6d1"/>
<rect x="1859.3" y="1099.51" width="65.4" height="65.29" fill="#4d98c9"/>
<rect x="1859.3" y="1034.82" width="65.4" height="65.29" fill="#3c89c2"/>
<rect x="1859.3" y="970.13" width="65.4" height="65.29" fill="#2c79ba"/>
<rect x="1859.3" y="905.44" width="65.4" height="65.29" fill="#1e69b0"/>
<rect x="1859.3" y="840.75" width="65.4" height="65.29" fill="#125ba5"/>
<rect x="1859.3" y="776.06" width="65.4" height="65.29" fill="#0b4a92"/>
<rect x="1859.3" y="711.37" width="65.4" height="65.29" fill="#0b3b7c"/>
<rect x="1859.3" y="646.68" width="65.4" height="65.29" fill="#0a2d69"/>
<rect x="1859.3" y="581.99" width="65.4" height="65.29" fill="#09215a"/>
<rect x="1859.3" y="517.30" width="65.4" height="65.29" fill="#081743"/>
<rect x="1859.3" y="517.3" width="65.4" height="1293.8" fill="none" stroke="#000" stroke-width="3"/>
<line x1="1924.7" x2="1939.7" y1="1811.10" y2="1811.10" stroke="#000" stroke-width="3.2"/>
<text x="1953.5" y="1828.50" font-size="41.7" fill="#000">0.0</text>
<line x1="1924.7" x2="1932.7" y1="1746.41" y2="1746.41" stroke="#000" stroke-width="2.1"/>
<line x1="1924.7" x2="1932.7" y1="1681.72" y2="1681.72" stroke="#000" stroke-width="2.1"/>
<line x1="1924.7" x2="1939.7" y1="1617.03" y2="1617.03" stroke="#000" stroke-width="3.2"/>
<text x="1953.5" y="1634.43" font-size="41.7" fill="#000">7.5</text>
<line x1="1924.7" x2="1932.7" y1="1552.34" y2="1552.34" stroke="#000" stroke-width="2.1"/>
<line x1="1924.7" x2="1932.7" y1="1487.65" y2="1487.65" stroke="#000" stroke-width="2.1"/>
<line x1="1924.7" x2="1939.7" y1="1422.96" y2="1422.96" stroke="#000" stroke-width="3.2"/>
<text x="1953.5" y="1440.36" font-size="41.7" fill="#000">15.0</text>
<line x1="1924.7" x2="1932.7" y1="1358.27" y2="1358.27" stroke="#000" stroke-width="2.1"/>
<line x1="1924.7" x2="1932.7" y1="1293.58" y2="1293.58" stroke="#000" stroke-width="2.1"/>
<line x1="1924.7" x2="1939.7" y1="1228.89" y2="1228.89" stroke="#000" stroke-width="3.2"/>
<text x="1953.5" y="1246.29" font-size="41.7" fill="#000">22.5</text>
<line x1="1924.7" x2="1932.7" y1="1164.20" y2="1164.20" stroke="#000" stroke-width="2.1"/>
<line x1="1924.7" x2="1932.7" y1="1099.51" y2="1099.51" stroke="#000" stroke-width="2.1"/>
<line x1="1924.7" x2="1939.7" y1="1034.82" y2="1034.82" stroke="#000" stroke-width="3.2"/>
<text x="1953.5" y="1052.22" font-size="41.7" fill="#000">30.0</text>
<line x1="1924.7" x2="1932.7" y1="970.13" y2="970.13" stroke="#000" stroke-width="2.1"/>
<line x1="1924.7" x2="1932.7" y1="905.44" y2="905.44" stroke="#000" stroke-width="2.1"/>
<line x1="1924.7" x2="1939.7" y1="840.75" y2="840.75" stroke="#000" stroke-width="3.2"/>
<text x="1953.5" y="858.15" font-size="41.7" fill="#000">37.5</text>
<line x1="1924.7" x2="1932.7" y1="776.06" y2="776.06" stroke="#000" stroke-width="2.1"/>
<line x1="1924.7" x2="1932.7" y1="711.37" y2="711.37" stroke="#000" stroke-width="2.1"/>
<line x1="1924.7" x2="1939.7" y1="646.68" y2="646.68" stroke="#000" stroke-width="3.2"/>
<text x="1953.5" y="664.08" font-size="41.7" fill="#000">45.0</text>
<line x1="1924.7" x2="1932.7" y1="581.99" y2="581.99" stroke="#000" stroke-width="2.1"/>
<line x1="1924.7" x2="1932.7" y1="517.30" y2="517.30" stroke="#000" stroke-width="2.1"/>
<text transform="translate(2120.3,1164.2) rotate(-90)" font-size="41.7" text-anchor="middle" fill="#000">Concentración de NO2 (µg/m³)</text>
</g>
<!-- LOGOS -->
<g id="logos">
<polygon points="1540.50,57.86 1603.71,57.86 1572.01,155.92" fill="#fff" stroke="#1f4a9b" stroke-width="2.15" stroke-linejoin="miter"/>
<polygon points="1541.81,58.91 1572.01,80.44 1553.30,94.55" fill="#e30613"/>
<polygon points="1602.53,58.91 1572.66,80.44 1591.04,94.23" fill="#e30613"/>
<text class="ls" x="1572.0" y="68.5" font-weight="bold" font-size="10.6" text-anchor="middle" fill="#1f4a9b" stroke="#1f4a9b" stroke-width="0.35" textLength="29.8" lengthAdjust="spacingAndGlyphs">UMSS</text>
<path d="M1562.16,95.41L1565.77,95.41 M1579.23,95.41L1582.51,95.41 M1563.80,90.29L1566.10,91.73 M1567.41,87.01L1568.72,89.11 M1572.33,85.69L1572.33,88.65 M1577.26,87.01L1575.94,89.11 M1580.87,90.29L1578.57,91.73" stroke="#1f4a9b" stroke-width="0.8" fill="none"/>
<circle cx="1572.33" cy="95.41" r="3.9" fill="none" stroke="#1f4a9b" stroke-width="0.7"/>
<circle cx="1572.33" cy="95.41" r="1.3" fill="#1f4a9b"/>
<path d="M1568.20,97.84L1572.33,109.98L1576.47,97.84M1569.38,100.79L1572.33,109.65L1575.29,100.79" stroke="#1f4a9b" stroke-width="0.55" fill="none"/>
<line x1="1574.30" y1="104.07" x2="1566.76" y2="126.71" stroke="#1f4a9b" stroke-width="0.6"/>
<polygon points="1566.34,127.95 1568.97,124.82 1566.12,123.87" fill="#1f4a9b"/>
<line x1="1570.36" y1="104.07" x2="1577.91" y2="126.39" stroke="#1f4a9b" stroke-width="0.6"/>
<polygon points="1578.33,127.62 1578.53,123.54 1575.69,124.50" fill="#1f4a9b"/>
<line x1="1572.33" y1="108.01" x2="1572.33" y2="130.32" stroke="#1f4a9b" stroke-width="0.6"/>
<polygon points="1572.33,131.62 1573.83,127.82 1570.83,127.82" fill="#1f4a9b"/>
<text class="ls" x="1581.2" y="158.7" font-size="4.3" fill="#c3c8d2" textLength="32.2" lengthAdjust="spacingAndGlyphs">creadictivo.com</text>
<polygon points="1758.49,109.05 1758.88,107.08 1759.94,104.99 1761.52,102.70 1763.44,100.15 1765.44,97.32 1767.25,94.26 1768.62,91.07 1769.34,87.88 1769.26,84.86 1768.32,82.17 1766.53,79.95 1764.02,78.28 1760.94,77.20 1757.50,76.67 1753.95,76.58 1750.49,76.78 1747.30,77.05 1744.52,77.19 1742.20,76.97 1740.31,76.26 1738.80,74.93 1737.52,72.98 1736.33,70.46 1735.08,67.52 1733.62,64.37 1731.88,61.27 1729.80,58.49 1727.40,56.28 1724.75,54.84 1721.94,54.31 1719.13,54.74 1716.42,56.08 1713.95,58.21 1711.77,60.92 1709.92,63.96 1708.36,67.05 1707.00,69.95 1705.73,72.42 1704.38,74.33 1702.82,75.60 1700.91,76.25 1698.58,76.38 1695.81,76.15 1692.64,75.77 1689.18,75.45 1685.63,75.42 1682.18,75.82 1679.06,76.80 1676.49,78.37 1674.63,80.54 1673.59,83.19 1673.41,86.21 1674.01,89.42 1675.27,92.65 1676.97,95.78 1678.87,98.67 1680.70,101.29 1682.21,103.64 1683.19,105.76 1683.51,107.75 1683.12,109.72 1682.06,111.81 1680.48,114.10 1678.56,116.65 1676.56,119.48 1674.75,122.54 1673.38,125.73 1672.66,128.92 1672.74,131.94 1673.68,134.63 1675.47,136.85 1677.98,138.52 1681.06,139.60 1684.50,140.13 1688.05,140.22 1691.51,140.02 1694.70,139.75 1697.48,139.61 1699.80,139.83 1701.69,140.54 1703.20,141.87 1704.48,143.82 1705.67,146.34 1706.92,149.28 1708.38,152.43 1710.12,155.53 1712.20,158.31 1714.60,160.52 1717.25,161.96 1720.06,162.49 1722.87,162.06 1725.58,160.72 1728.05,158.59 1730.23,155.88 1732.08,152.84 1733.64,149.75 1735.00,146.85 1736.27,144.38 1737.62,142.47 1739.18,141.20 1741.09,140.55 1743.42,140.42 1746.19,140.65 1749.36,141.03 1752.82,141.35 1756.37,141.38 1759.82,140.98 1762.94,140.00 1765.51,138.43 1767.37,136.26 1768.41,133.61 1768.59,130.59 1767.99,127.38 1766.73,124.15 1765.03,121.02 1763.13,118.13 1761.30,115.51 1759.79,113.16 1758.81,111.04" fill="none" stroke="#2a469a" stroke-width="1.6"/>
<circle cx="1721.0" cy="108.4" r="46.9" fill="none" stroke="#2f4da0" stroke-width="0.95" stroke-dasharray="1.1 1.3"/>
<path id="arcTop" d="M1696.92,123.45A28.4,28.4 0 1 1 1746.08,121.73" fill="none"/>
<text class="lser" font-size="9.2" fill="#c92a1c" stroke="#c92a1c" stroke-width="0.28"><textPath href="#arcTop" startOffset="0" textLength="119.0" lengthAdjust="spacingAndGlyphs">DEPARTAMENTO DE FÍSICA</textPath></text>
<path id="arcBot" d="M1701.38,136.41A34.2,34.2 0 0 0 1741.10,136.07" fill="none"/>
<text class="lser" font-size="6.4" fill="#c92a1c" stroke="#c92a1c" stroke-width="0.1"><textPath href="#arcBot" startOffset="0" textLength="42.4" lengthAdjust="spacingAndGlyphs">FCyT-UMSS</textPath></text>
<ellipse cx="1724.38" cy="99.48" rx="15.20" ry="14.80" transform="rotate(-5.0 1724.38 99.48)" fill="none" stroke="#c92a1c" stroke-width="0.55"/>
<ellipse cx="1724.48" cy="102.57" rx="15.35" ry="14.10" transform="rotate(6.6 1724.48 102.57)" fill="none" stroke="#c92a1c" stroke-width="0.55"/>
<ellipse cx="1723.96" cy="105.65" rx="15.50" ry="13.40" transform="rotate(18.2 1723.96 105.65)" fill="none" stroke="#c92a1c" stroke-width="0.55"/>
<ellipse cx="1722.81" cy="108.60" rx="15.65" ry="12.70" transform="rotate(29.9 1722.81 108.60)" fill="none" stroke="#c92a1c" stroke-width="0.55"/>
<ellipse cx="1721.07" cy="111.27" rx="15.80" ry="12.00" transform="rotate(41.5 1721.07 111.27)" fill="none" stroke="#c92a1c" stroke-width="0.55"/>
<ellipse cx="1718.81" cy="113.56" rx="15.95" ry="11.30" transform="rotate(53.1 1718.81 113.56)" fill="none" stroke="#c92a1c" stroke-width="0.55"/>
<ellipse cx="1716.10" cy="115.36" rx="16.10" ry="10.60" transform="rotate(64.8 1716.10 115.36)" fill="none" stroke="#c92a1c" stroke-width="0.55"/>
<ellipse cx="1713.06" cy="116.59" rx="16.25" ry="9.90" transform="rotate(76.4 1713.06 116.59)" fill="none" stroke="#c92a1c" stroke-width="0.55"/>
<ellipse cx="1709.81" cy="117.19" rx="16.40" ry="9.20" transform="rotate(88.0 1709.81 117.19)" fill="none" stroke="#c92a1c" stroke-width="0.55"/>
<circle cx="1712.32" cy="105.72" r="1.5" fill="#9fb0dc" stroke="#2a469a" stroke-width="0.6"/>
<circle cx="1708.91" cy="130.67" r="0.9" fill="#2a469a"/>
<defs><linearGradient id="rg2" gradientUnits="userSpaceOnUse" x1="1819.8" x2="1921.1" y1="0" y2="0"><stop offset="0" stop-color="#bf0205"/><stop offset="1" stop-color="#ec0509"/></linearGradient></defs>
<path d="M1819.75,57.39L1921.11,57.39L1921.11,68.21L1832.58,68.21L1832.58,106.41L1861.27,106.41L1861.27,116.94L1832.58,116.94L1832.58,158.60L1819.75,158.60Z M1836.76,72.39L1921.11,72.39L1921.11,83.06L1849.74,83.06L1849.74,91.13L1921.11,91.13L1921.11,101.66L1836.76,101.66Z M1867.04,106.41L1921.11,106.41L1921.11,116.94L1879.30,116.94L1879.30,124.43L1921.11,124.43L1921.11,134.82L1836.76,134.82L1836.76,124.43L1867.04,124.43Z M1836.76,139.28L1921.11,139.28L1921.11,150.10L1879.30,150.10L1879.30,158.60L1867.04,158.60L1867.04,150.10L1836.76,150.10Z" fill="url(#rg2)" stroke="#7a0a0a" stroke-width="0.5"/>
<circle cx="2021.3" cy="77.1" r="30.2" fill="none" stroke="#06336a" stroke-width="11.6"/>
<circle cx="2021.3" cy="77.1" r="10.4" fill="#fff" stroke="#06336a" stroke-width="4.0"/>
<path d="M2021.3,69.8A7.3,7.3 0 0 0 2021.3,84.4Z" fill="#06336a"/>
<line x1="2036.6" y1="77.1" x2="2042.4" y2="77.1" stroke="#06336a" stroke-width="3.5"/>
<line x1="2032.1" y1="87.9" x2="2036.2" y2="92.0" stroke="#06336a" stroke-width="3.5"/>
<line x1="2021.3" y1="92.4" x2="2021.3" y2="98.2" stroke="#06336a" stroke-width="3.5"/>
<line x1="2010.5" y1="87.9" x2="2006.4" y2="92.0" stroke="#06336a" stroke-width="3.5"/>
<line x1="2006.0" y1="77.1" x2="2000.2" y2="77.1" stroke="#06336a" stroke-width="3.5"/>
<line x1="2010.5" y1="66.3" x2="2006.4" y2="62.2" stroke="#06336a" stroke-width="3.5"/>
<line x1="2021.3" y1="61.8" x2="2021.3" y2="56.0" stroke="#06336a" stroke-width="3.5"/>
<line x1="2032.1" y1="66.3" x2="2036.2" y2="62.2" stroke="#06336a" stroke-width="3.5"/>
<text class="ls" x="2021.1" y="144.25" font-weight="bold" font-size="27.6" text-anchor="middle" fill="#06336a" stroke="#06336a" stroke-width="0.9" textLength="71.6" lengthAdjust="spacingAndGlyphs">CMC</text>
<text class="ls" x="2021.1" y="170.25" font-weight="bold" font-size="22.8" text-anchor="middle" fill="#06336a" stroke="#06336a" stroke-width="0.9" textLength="71.6" lengthAdjust="spacingAndGlyphs">UMSS</text>
</g>
</svg>
</body>
</html>
